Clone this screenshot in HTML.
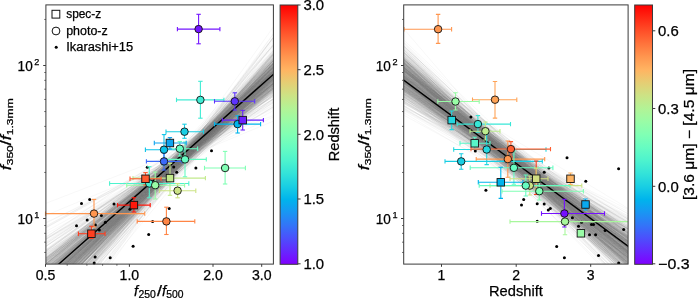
<!DOCTYPE html><html><head><meta charset="utf-8"><style>html,body{margin:0;padding:0;background:#fff;overflow:hidden}svg{display:block;will-change:transform}</style></head><body><svg width="698" height="298" viewBox="0 0 698 298" font-family="Liberation Sans, sans-serif">
<style>text{fill:#000;stroke:#000;stroke-width:0.25px}</style>
<rect width="698" height="298" fill="#fff"/>
<defs>
<clipPath id="cl"><rect x="45.9" y="4.9" width="227.49999999999997" height="259.20000000000005"/></clipPath>
<clipPath id="cr"><rect x="403.7" y="4.9" width="224.40000000000003" height="259.20000000000005"/></clipPath>
<linearGradient id="rb" x1="0" y1="0" x2="0" y2="1"><stop offset="0.000" stop-color="#ff0000"/><stop offset="0.050" stop-color="#ff2814"/><stop offset="0.100" stop-color="#ff4f28"/><stop offset="0.150" stop-color="#ff743c"/><stop offset="0.200" stop-color="#ff964f"/><stop offset="0.250" stop-color="#ffb462"/><stop offset="0.300" stop-color="#e5ce74"/><stop offset="0.350" stop-color="#cce385"/><stop offset="0.400" stop-color="#b2f396"/><stop offset="0.450" stop-color="#99fca6"/><stop offset="0.500" stop-color="#80ffb4"/><stop offset="0.550" stop-color="#66fcc2"/><stop offset="0.600" stop-color="#4df3ce"/><stop offset="0.650" stop-color="#33e3d9"/><stop offset="0.700" stop-color="#19cee3"/><stop offset="0.750" stop-color="#00b4ec"/><stop offset="0.800" stop-color="#1996f3"/><stop offset="0.850" stop-color="#3374f8"/><stop offset="0.900" stop-color="#4c4ffc"/><stop offset="0.950" stop-color="#6628fe"/><stop offset="1.000" stop-color="#8000ff"/></linearGradient>
</defs>
<g clip-path="url(#cl)" stroke="#808080" stroke-width="0.7" fill="none" opacity="1">
<line x1="45.9" y1="246.52" x2="273.4" y2="83.86" stroke-opacity="0.085"/>
<line x1="45.9" y1="299.45" x2="273.4" y2="65.30" stroke-opacity="0.085"/>
<line x1="45.9" y1="280.09" x2="273.4" y2="73.22" stroke-opacity="0.085"/>
<line x1="45.9" y1="262.10" x2="273.4" y2="78.91" stroke-opacity="0.085"/>
<line x1="45.9" y1="267.99" x2="273.4" y2="83.39" stroke-opacity="0.085"/>
<line x1="45.9" y1="289.70" x2="273.4" y2="87.70" stroke-opacity="0.085"/>
<line x1="45.9" y1="280.56" x2="273.4" y2="76.33" stroke-opacity="0.085"/>
<line x1="45.9" y1="268.83" x2="273.4" y2="80.21" stroke-opacity="0.085"/>
<line x1="45.9" y1="290.67" x2="273.4" y2="71.14" stroke-opacity="0.085"/>
<line x1="45.9" y1="318.73" x2="273.4" y2="57.72" stroke-opacity="0.085"/>
<line x1="45.9" y1="284.79" x2="273.4" y2="79.52" stroke-opacity="0.085"/>
<line x1="45.9" y1="285.22" x2="273.4" y2="74.75" stroke-opacity="0.085"/>
<line x1="45.9" y1="300.71" x2="273.4" y2="60.82" stroke-opacity="0.085"/>
<line x1="45.9" y1="223.14" x2="273.4" y2="108.46" stroke-opacity="0.085"/>
<line x1="45.9" y1="315.09" x2="273.4" y2="67.86" stroke-opacity="0.085"/>
<line x1="45.9" y1="267.84" x2="273.4" y2="80.49" stroke-opacity="0.085"/>
<line x1="45.9" y1="286.10" x2="273.4" y2="67.51" stroke-opacity="0.085"/>
<line x1="45.9" y1="257.09" x2="273.4" y2="80.35" stroke-opacity="0.085"/>
<line x1="45.9" y1="286.18" x2="273.4" y2="71.77" stroke-opacity="0.085"/>
<line x1="45.9" y1="269.05" x2="273.4" y2="74.25" stroke-opacity="0.085"/>
<line x1="45.9" y1="325.99" x2="273.4" y2="45.71" stroke-opacity="0.085"/>
<line x1="45.9" y1="297.93" x2="273.4" y2="71.37" stroke-opacity="0.085"/>
<line x1="45.9" y1="275.09" x2="273.4" y2="70.70" stroke-opacity="0.085"/>
<line x1="45.9" y1="287.17" x2="273.4" y2="72.30" stroke-opacity="0.085"/>
<line x1="45.9" y1="293.77" x2="273.4" y2="45.04" stroke-opacity="0.085"/>
<line x1="45.9" y1="292.19" x2="273.4" y2="71.98" stroke-opacity="0.085"/>
<line x1="45.9" y1="258.14" x2="273.4" y2="87.62" stroke-opacity="0.085"/>
<line x1="45.9" y1="274.36" x2="273.4" y2="75.63" stroke-opacity="0.085"/>
<line x1="45.9" y1="263.75" x2="273.4" y2="83.00" stroke-opacity="0.085"/>
<line x1="45.9" y1="291.40" x2="273.4" y2="78.63" stroke-opacity="0.085"/>
<line x1="45.9" y1="258.66" x2="273.4" y2="89.14" stroke-opacity="0.085"/>
<line x1="45.9" y1="260.85" x2="273.4" y2="79.77" stroke-opacity="0.085"/>
<line x1="45.9" y1="301.27" x2="273.4" y2="62.96" stroke-opacity="0.085"/>
<line x1="45.9" y1="259.39" x2="273.4" y2="93.22" stroke-opacity="0.085"/>
<line x1="45.9" y1="283.35" x2="273.4" y2="82.41" stroke-opacity="0.085"/>
<line x1="45.9" y1="295.08" x2="273.4" y2="72.74" stroke-opacity="0.085"/>
<line x1="45.9" y1="293.39" x2="273.4" y2="61.74" stroke-opacity="0.085"/>
<line x1="45.9" y1="273.89" x2="273.4" y2="80.77" stroke-opacity="0.085"/>
<line x1="45.9" y1="329.99" x2="273.4" y2="38.83" stroke-opacity="0.085"/>
<line x1="45.9" y1="267.91" x2="273.4" y2="70.82" stroke-opacity="0.085"/>
<line x1="45.9" y1="266.18" x2="273.4" y2="75.43" stroke-opacity="0.085"/>
<line x1="45.9" y1="278.51" x2="273.4" y2="77.35" stroke-opacity="0.085"/>
<line x1="45.9" y1="285.72" x2="273.4" y2="76.45" stroke-opacity="0.085"/>
<line x1="45.9" y1="288.05" x2="273.4" y2="73.92" stroke-opacity="0.085"/>
<line x1="45.9" y1="301.10" x2="273.4" y2="63.24" stroke-opacity="0.085"/>
<line x1="45.9" y1="282.55" x2="273.4" y2="67.26" stroke-opacity="0.085"/>
<line x1="45.9" y1="286.84" x2="273.4" y2="72.63" stroke-opacity="0.085"/>
<line x1="45.9" y1="293.13" x2="273.4" y2="70.92" stroke-opacity="0.085"/>
<line x1="45.9" y1="250.55" x2="273.4" y2="87.39" stroke-opacity="0.085"/>
<line x1="45.9" y1="321.37" x2="273.4" y2="42.71" stroke-opacity="0.085"/>
<line x1="45.9" y1="266.99" x2="273.4" y2="84.41" stroke-opacity="0.085"/>
<line x1="45.9" y1="277.48" x2="273.4" y2="87.17" stroke-opacity="0.085"/>
<line x1="45.9" y1="292.47" x2="273.4" y2="67.73" stroke-opacity="0.085"/>
<line x1="45.9" y1="273.25" x2="273.4" y2="72.06" stroke-opacity="0.085"/>
<line x1="45.9" y1="297.28" x2="273.4" y2="59.47" stroke-opacity="0.085"/>
<line x1="45.9" y1="298.11" x2="273.4" y2="74.90" stroke-opacity="0.085"/>
<line x1="45.9" y1="320.94" x2="273.4" y2="73.97" stroke-opacity="0.085"/>
<line x1="45.9" y1="301.81" x2="273.4" y2="76.90" stroke-opacity="0.085"/>
<line x1="45.9" y1="258.73" x2="273.4" y2="84.28" stroke-opacity="0.085"/>
<line x1="45.9" y1="284.19" x2="273.4" y2="74.84" stroke-opacity="0.085"/>
<line x1="45.9" y1="259.63" x2="273.4" y2="91.23" stroke-opacity="0.085"/>
<line x1="45.9" y1="290.38" x2="273.4" y2="68.47" stroke-opacity="0.085"/>
<line x1="45.9" y1="260.24" x2="273.4" y2="85.96" stroke-opacity="0.085"/>
<line x1="45.9" y1="296.03" x2="273.4" y2="71.61" stroke-opacity="0.085"/>
<line x1="45.9" y1="293.25" x2="273.4" y2="60.60" stroke-opacity="0.085"/>
<line x1="45.9" y1="252.94" x2="273.4" y2="99.70" stroke-opacity="0.085"/>
<line x1="45.9" y1="296.36" x2="273.4" y2="66.88" stroke-opacity="0.085"/>
<line x1="45.9" y1="280.84" x2="273.4" y2="75.05" stroke-opacity="0.085"/>
<line x1="45.9" y1="339.50" x2="273.4" y2="64.10" stroke-opacity="0.085"/>
<line x1="45.9" y1="291.51" x2="273.4" y2="73.85" stroke-opacity="0.085"/>
<line x1="45.9" y1="257.17" x2="273.4" y2="75.51" stroke-opacity="0.085"/>
<line x1="45.9" y1="262.71" x2="273.4" y2="79.05" stroke-opacity="0.085"/>
<line x1="45.9" y1="272.78" x2="273.4" y2="80.05" stroke-opacity="0.085"/>
<line x1="45.9" y1="277.39" x2="273.4" y2="80.05" stroke-opacity="0.085"/>
<line x1="45.9" y1="285.35" x2="273.4" y2="84.90" stroke-opacity="0.085"/>
<line x1="45.9" y1="272.47" x2="273.4" y2="74.98" stroke-opacity="0.085"/>
<line x1="45.9" y1="299.73" x2="273.4" y2="78.72" stroke-opacity="0.085"/>
<line x1="45.9" y1="252.03" x2="273.4" y2="88.32" stroke-opacity="0.085"/>
<line x1="45.9" y1="296.24" x2="273.4" y2="65.67" stroke-opacity="0.085"/>
<line x1="45.9" y1="233.99" x2="273.4" y2="110.56" stroke-opacity="0.085"/>
<line x1="45.9" y1="273.72" x2="273.4" y2="74.26" stroke-opacity="0.085"/>
<line x1="45.9" y1="276.48" x2="273.4" y2="71.59" stroke-opacity="0.085"/>
<line x1="45.9" y1="284.43" x2="273.4" y2="76.67" stroke-opacity="0.085"/>
<line x1="45.9" y1="265.52" x2="273.4" y2="78.91" stroke-opacity="0.085"/>
<line x1="45.9" y1="295.73" x2="273.4" y2="68.74" stroke-opacity="0.085"/>
<line x1="45.9" y1="281.88" x2="273.4" y2="74.26" stroke-opacity="0.085"/>
<line x1="45.9" y1="278.81" x2="273.4" y2="78.94" stroke-opacity="0.085"/>
<line x1="45.9" y1="274.07" x2="273.4" y2="81.08" stroke-opacity="0.085"/>
<line x1="45.9" y1="290.91" x2="273.4" y2="71.70" stroke-opacity="0.085"/>
<line x1="45.9" y1="289.78" x2="273.4" y2="84.73" stroke-opacity="0.085"/>
<line x1="45.9" y1="255.79" x2="273.4" y2="85.93" stroke-opacity="0.085"/>
<line x1="45.9" y1="271.42" x2="273.4" y2="78.10" stroke-opacity="0.085"/>
<line x1="45.9" y1="290.42" x2="273.4" y2="70.78" stroke-opacity="0.085"/>
<line x1="45.9" y1="281.70" x2="273.4" y2="75.61" stroke-opacity="0.085"/>
<line x1="45.9" y1="294.87" x2="273.4" y2="76.92" stroke-opacity="0.085"/>
<line x1="45.9" y1="287.08" x2="273.4" y2="74.60" stroke-opacity="0.085"/>
<line x1="45.9" y1="243.89" x2="273.4" y2="93.70" stroke-opacity="0.085"/>
<line x1="45.9" y1="281.78" x2="273.4" y2="86.85" stroke-opacity="0.085"/>
<line x1="45.9" y1="302.95" x2="273.4" y2="60.17" stroke-opacity="0.085"/>
<line x1="45.9" y1="290.21" x2="273.4" y2="79.29" stroke-opacity="0.085"/>
<line x1="45.9" y1="285.29" x2="273.4" y2="76.20" stroke-opacity="0.085"/>
<line x1="45.9" y1="267.44" x2="273.4" y2="82.80" stroke-opacity="0.085"/>
<line x1="45.9" y1="296.44" x2="273.4" y2="53.58" stroke-opacity="0.085"/>
<line x1="45.9" y1="291.81" x2="273.4" y2="75.43" stroke-opacity="0.085"/>
<line x1="45.9" y1="258.29" x2="273.4" y2="76.58" stroke-opacity="0.085"/>
<line x1="45.9" y1="297.57" x2="273.4" y2="73.86" stroke-opacity="0.085"/>
<line x1="45.9" y1="290.56" x2="273.4" y2="67.21" stroke-opacity="0.085"/>
<line x1="45.9" y1="285.20" x2="273.4" y2="76.63" stroke-opacity="0.085"/>
<line x1="45.9" y1="279.20" x2="273.4" y2="78.01" stroke-opacity="0.085"/>
<line x1="45.9" y1="297.77" x2="273.4" y2="78.24" stroke-opacity="0.085"/>
<line x1="45.9" y1="276.17" x2="273.4" y2="75.43" stroke-opacity="0.085"/>
<line x1="45.9" y1="280.23" x2="273.4" y2="73.47" stroke-opacity="0.085"/>
<line x1="45.9" y1="278.91" x2="273.4" y2="87.86" stroke-opacity="0.085"/>
<line x1="45.9" y1="274.52" x2="273.4" y2="73.90" stroke-opacity="0.085"/>
<line x1="45.9" y1="350.11" x2="273.4" y2="34.04" stroke-opacity="0.085"/>
<line x1="45.9" y1="275.78" x2="273.4" y2="76.35" stroke-opacity="0.085"/>
<line x1="45.9" y1="272.04" x2="273.4" y2="82.17" stroke-opacity="0.085"/>
<line x1="45.9" y1="263.89" x2="273.4" y2="71.05" stroke-opacity="0.085"/>
<line x1="45.9" y1="277.22" x2="273.4" y2="67.08" stroke-opacity="0.085"/>
<line x1="45.9" y1="301.05" x2="273.4" y2="66.21" stroke-opacity="0.085"/>
<line x1="45.9" y1="286.02" x2="273.4" y2="68.14" stroke-opacity="0.085"/>
<line x1="45.9" y1="227.78" x2="273.4" y2="103.03" stroke-opacity="0.085"/>
<line x1="45.9" y1="308.50" x2="273.4" y2="56.28" stroke-opacity="0.085"/>
<line x1="45.9" y1="296.46" x2="273.4" y2="70.75" stroke-opacity="0.085"/>
<line x1="45.9" y1="264.03" x2="273.4" y2="87.15" stroke-opacity="0.085"/>
<line x1="45.9" y1="287.55" x2="273.4" y2="70.88" stroke-opacity="0.085"/>
<line x1="45.9" y1="280.54" x2="273.4" y2="78.83" stroke-opacity="0.085"/>
<line x1="45.9" y1="272.68" x2="273.4" y2="74.28" stroke-opacity="0.085"/>
<line x1="45.9" y1="289.44" x2="273.4" y2="67.51" stroke-opacity="0.085"/>
<line x1="45.9" y1="317.53" x2="273.4" y2="52.82" stroke-opacity="0.085"/>
<line x1="45.9" y1="306.48" x2="273.4" y2="65.10" stroke-opacity="0.085"/>
<line x1="45.9" y1="287.59" x2="273.4" y2="80.23" stroke-opacity="0.085"/>
<line x1="45.9" y1="285.84" x2="273.4" y2="80.20" stroke-opacity="0.085"/>
<line x1="45.9" y1="251.17" x2="273.4" y2="84.26" stroke-opacity="0.085"/>
<line x1="45.9" y1="285.19" x2="273.4" y2="71.56" stroke-opacity="0.085"/>
<line x1="45.9" y1="344.59" x2="273.4" y2="37.67" stroke-opacity="0.085"/>
<line x1="45.9" y1="266.14" x2="273.4" y2="66.79" stroke-opacity="0.085"/>
<line x1="45.9" y1="285.28" x2="273.4" y2="60.36" stroke-opacity="0.085"/>
<line x1="45.9" y1="283.66" x2="273.4" y2="63.16" stroke-opacity="0.085"/>
<line x1="45.9" y1="257.04" x2="273.4" y2="77.75" stroke-opacity="0.085"/>
<line x1="45.9" y1="290.45" x2="273.4" y2="68.38" stroke-opacity="0.085"/>
<line x1="45.9" y1="285.51" x2="273.4" y2="82.18" stroke-opacity="0.085"/>
<line x1="45.9" y1="265.12" x2="273.4" y2="88.41" stroke-opacity="0.085"/>
<line x1="45.9" y1="298.00" x2="273.4" y2="72.90" stroke-opacity="0.085"/>
<line x1="45.9" y1="283.13" x2="273.4" y2="72.09" stroke-opacity="0.085"/>
<line x1="45.9" y1="270.43" x2="273.4" y2="72.53" stroke-opacity="0.085"/>
<line x1="45.9" y1="246.49" x2="273.4" y2="86.37" stroke-opacity="0.085"/>
<line x1="45.9" y1="263.97" x2="273.4" y2="69.46" stroke-opacity="0.085"/>
<line x1="45.9" y1="283.72" x2="273.4" y2="66.85" stroke-opacity="0.085"/>
<line x1="45.9" y1="268.86" x2="273.4" y2="81.53" stroke-opacity="0.085"/>
<line x1="45.9" y1="292.57" x2="273.4" y2="70.81" stroke-opacity="0.085"/>
<line x1="45.9" y1="268.48" x2="273.4" y2="94.10" stroke-opacity="0.085"/>
<line x1="45.9" y1="273.42" x2="273.4" y2="86.70" stroke-opacity="0.085"/>
<line x1="45.9" y1="277.23" x2="273.4" y2="81.96" stroke-opacity="0.085"/>
<line x1="45.9" y1="283.10" x2="273.4" y2="73.78" stroke-opacity="0.085"/>
<line x1="45.9" y1="289.77" x2="273.4" y2="71.34" stroke-opacity="0.085"/>
<line x1="45.9" y1="299.87" x2="273.4" y2="56.53" stroke-opacity="0.085"/>
<line x1="45.9" y1="298.37" x2="273.4" y2="76.12" stroke-opacity="0.085"/>
<line x1="45.9" y1="291.22" x2="273.4" y2="67.08" stroke-opacity="0.085"/>
<line x1="45.9" y1="268.97" x2="273.4" y2="70.23" stroke-opacity="0.085"/>
<line x1="45.9" y1="298.17" x2="273.4" y2="63.50" stroke-opacity="0.085"/>
<line x1="45.9" y1="275.52" x2="273.4" y2="69.76" stroke-opacity="0.085"/>
<line x1="45.9" y1="287.14" x2="273.4" y2="75.53" stroke-opacity="0.085"/>
<line x1="45.9" y1="271.00" x2="273.4" y2="89.51" stroke-opacity="0.085"/>
<line x1="45.9" y1="258.11" x2="273.4" y2="86.38" stroke-opacity="0.085"/>
<line x1="45.9" y1="276.49" x2="273.4" y2="84.71" stroke-opacity="0.085"/>
<line x1="45.9" y1="294.90" x2="273.4" y2="75.50" stroke-opacity="0.085"/>
<line x1="45.9" y1="284.12" x2="273.4" y2="73.90" stroke-opacity="0.085"/>
<line x1="45.9" y1="296.44" x2="273.4" y2="68.71" stroke-opacity="0.085"/>
<line x1="45.9" y1="272.38" x2="273.4" y2="70.20" stroke-opacity="0.085"/>
<line x1="45.9" y1="288.48" x2="273.4" y2="65.90" stroke-opacity="0.085"/>
<line x1="45.9" y1="259.28" x2="273.4" y2="88.50" stroke-opacity="0.085"/>
<line x1="45.9" y1="257.89" x2="273.4" y2="80.09" stroke-opacity="0.085"/>
<line x1="45.9" y1="267.18" x2="273.4" y2="83.11" stroke-opacity="0.085"/>
<line x1="45.9" y1="307.62" x2="273.4" y2="66.71" stroke-opacity="0.085"/>
<line x1="45.9" y1="289.16" x2="273.4" y2="75.12" stroke-opacity="0.085"/>
<line x1="45.9" y1="296.09" x2="273.4" y2="65.73" stroke-opacity="0.085"/>
<line x1="45.9" y1="311.68" x2="273.4" y2="63.77" stroke-opacity="0.085"/>
<line x1="45.9" y1="266.72" x2="273.4" y2="76.82" stroke-opacity="0.085"/>
<line x1="45.9" y1="259.91" x2="273.4" y2="80.90" stroke-opacity="0.085"/>
<line x1="45.9" y1="277.69" x2="273.4" y2="67.52" stroke-opacity="0.085"/>
<line x1="45.9" y1="290.33" x2="273.4" y2="65.08" stroke-opacity="0.085"/>
<line x1="45.9" y1="298.31" x2="273.4" y2="53.30" stroke-opacity="0.085"/>
<line x1="45.9" y1="263.25" x2="273.4" y2="76.05" stroke-opacity="0.085"/>
<line x1="45.9" y1="291.54" x2="273.4" y2="65.61" stroke-opacity="0.085"/>
<line x1="45.9" y1="282.38" x2="273.4" y2="61.01" stroke-opacity="0.085"/>
<line x1="45.9" y1="274.79" x2="273.4" y2="90.33" stroke-opacity="0.085"/>
<line x1="45.9" y1="288.15" x2="273.4" y2="72.07" stroke-opacity="0.085"/>
<line x1="45.9" y1="279.36" x2="273.4" y2="69.27" stroke-opacity="0.085"/>
<line x1="45.9" y1="284.41" x2="273.4" y2="72.60" stroke-opacity="0.085"/>
<line x1="45.9" y1="260.47" x2="273.4" y2="84.03" stroke-opacity="0.085"/>
<line x1="45.9" y1="285.24" x2="273.4" y2="64.33" stroke-opacity="0.085"/>
<line x1="45.9" y1="277.87" x2="273.4" y2="94.72" stroke-opacity="0.085"/>
<line x1="45.9" y1="263.21" x2="273.4" y2="92.13" stroke-opacity="0.085"/>
<line x1="45.9" y1="299.21" x2="273.4" y2="71.49" stroke-opacity="0.085"/>
<line x1="45.9" y1="279.01" x2="273.4" y2="85.92" stroke-opacity="0.085"/>
<line x1="45.9" y1="275.76" x2="273.4" y2="73.62" stroke-opacity="0.085"/>
<line x1="45.9" y1="287.24" x2="273.4" y2="81.21" stroke-opacity="0.085"/>
<line x1="45.9" y1="258.04" x2="273.4" y2="72.46" stroke-opacity="0.085"/>
<line x1="45.9" y1="288.57" x2="273.4" y2="89.41" stroke-opacity="0.085"/>
<line x1="45.9" y1="280.65" x2="273.4" y2="74.49" stroke-opacity="0.085"/>
<line x1="45.9" y1="289.87" x2="273.4" y2="66.31" stroke-opacity="0.085"/>
<line x1="45.9" y1="273.86" x2="273.4" y2="67.46" stroke-opacity="0.085"/>
<line x1="45.9" y1="294.07" x2="273.4" y2="64.55" stroke-opacity="0.085"/>
<line x1="45.9" y1="316.90" x2="273.4" y2="60.43" stroke-opacity="0.085"/>
<line x1="45.9" y1="290.22" x2="273.4" y2="67.00" stroke-opacity="0.085"/>
<line x1="45.9" y1="280.39" x2="273.4" y2="79.08" stroke-opacity="0.085"/>
<line x1="45.9" y1="304.78" x2="273.4" y2="71.08" stroke-opacity="0.085"/>
<line x1="45.9" y1="284.72" x2="273.4" y2="60.30" stroke-opacity="0.085"/>
<line x1="45.9" y1="275.00" x2="273.4" y2="83.66" stroke-opacity="0.085"/>
<line x1="45.9" y1="277.78" x2="273.4" y2="80.31" stroke-opacity="0.085"/>
<line x1="45.9" y1="328.96" x2="273.4" y2="37.73" stroke-opacity="0.085"/>
<line x1="45.9" y1="239.30" x2="273.4" y2="102.77" stroke-opacity="0.085"/>
<line x1="45.9" y1="262.83" x2="273.4" y2="84.09" stroke-opacity="0.085"/>
<line x1="45.9" y1="277.86" x2="273.4" y2="74.54" stroke-opacity="0.085"/>
<line x1="45.9" y1="274.10" x2="273.4" y2="83.79" stroke-opacity="0.085"/>
<line x1="45.9" y1="291.77" x2="273.4" y2="72.52" stroke-opacity="0.085"/>
<line x1="45.9" y1="263.74" x2="273.4" y2="77.16" stroke-opacity="0.085"/>
<line x1="45.9" y1="285.09" x2="273.4" y2="84.33" stroke-opacity="0.085"/>
<line x1="45.9" y1="304.38" x2="273.4" y2="53.59" stroke-opacity="0.085"/>
<line x1="45.9" y1="261.20" x2="273.4" y2="90.85" stroke-opacity="0.085"/>
<line x1="45.9" y1="293.58" x2="273.4" y2="74.81" stroke-opacity="0.085"/>
<line x1="45.9" y1="268.64" x2="273.4" y2="79.41" stroke-opacity="0.085"/>
<line x1="45.9" y1="280.54" x2="273.4" y2="71.95" stroke-opacity="0.085"/>
<line x1="45.9" y1="275.78" x2="273.4" y2="79.16" stroke-opacity="0.085"/>
<line x1="45.9" y1="271.94" x2="273.4" y2="83.44" stroke-opacity="0.085"/>
<line x1="45.9" y1="342.32" x2="273.4" y2="44.04" stroke-opacity="0.085"/>
<line x1="45.9" y1="278.94" x2="273.4" y2="77.51" stroke-opacity="0.085"/>
<line x1="45.9" y1="273.42" x2="273.4" y2="81.66" stroke-opacity="0.085"/>
<line x1="45.9" y1="278.24" x2="273.4" y2="78.45" stroke-opacity="0.085"/>
<line x1="45.9" y1="277.46" x2="273.4" y2="66.99" stroke-opacity="0.085"/>
<line x1="45.9" y1="287.19" x2="273.4" y2="66.14" stroke-opacity="0.085"/>
<line x1="45.9" y1="262.08" x2="273.4" y2="84.78" stroke-opacity="0.085"/>
<line x1="45.9" y1="222.45" x2="273.4" y2="117.01" stroke-opacity="0.085"/>
<line x1="45.9" y1="300.06" x2="273.4" y2="72.58" stroke-opacity="0.085"/>
<line x1="45.9" y1="288.41" x2="273.4" y2="71.13" stroke-opacity="0.085"/>
<line x1="45.9" y1="293.34" x2="273.4" y2="71.09" stroke-opacity="0.085"/>
<line x1="45.9" y1="305.48" x2="273.4" y2="66.40" stroke-opacity="0.085"/>
<line x1="45.9" y1="277.36" x2="273.4" y2="66.52" stroke-opacity="0.085"/>
<line x1="45.9" y1="296.28" x2="273.4" y2="86.36" stroke-opacity="0.085"/>
<line x1="45.9" y1="226.56" x2="273.4" y2="99.08" stroke-opacity="0.085"/>
<line x1="45.9" y1="278.25" x2="273.4" y2="78.36" stroke-opacity="0.085"/>
<line x1="45.9" y1="298.00" x2="273.4" y2="67.23" stroke-opacity="0.085"/>
<line x1="45.9" y1="267.77" x2="273.4" y2="85.60" stroke-opacity="0.085"/>
<line x1="45.9" y1="276.82" x2="273.4" y2="83.32" stroke-opacity="0.085"/>
<line x1="45.9" y1="280.52" x2="273.4" y2="74.97" stroke-opacity="0.085"/>
<line x1="45.9" y1="266.11" x2="273.4" y2="91.24" stroke-opacity="0.085"/>
<line x1="45.9" y1="255.59" x2="273.4" y2="92.26" stroke-opacity="0.085"/>
<line x1="45.9" y1="288.70" x2="273.4" y2="74.76" stroke-opacity="0.085"/>
<line x1="45.9" y1="265.35" x2="273.4" y2="71.72" stroke-opacity="0.085"/>
<line x1="45.9" y1="294.74" x2="273.4" y2="70.24" stroke-opacity="0.085"/>
<line x1="45.9" y1="293.48" x2="273.4" y2="74.20" stroke-opacity="0.085"/>
<line x1="45.9" y1="263.58" x2="273.4" y2="83.29" stroke-opacity="0.085"/>
<line x1="45.9" y1="297.72" x2="273.4" y2="58.47" stroke-opacity="0.085"/>
<line x1="45.9" y1="280.42" x2="273.4" y2="62.86" stroke-opacity="0.085"/>
<line x1="45.9" y1="311.39" x2="273.4" y2="54.81" stroke-opacity="0.085"/>
<line x1="45.9" y1="288.28" x2="273.4" y2="75.56" stroke-opacity="0.085"/>
<line x1="45.9" y1="289.77" x2="273.4" y2="70.26" stroke-opacity="0.085"/>
<line x1="45.9" y1="286.80" x2="273.4" y2="71.44" stroke-opacity="0.085"/>
<line x1="45.9" y1="287.67" x2="273.4" y2="66.89" stroke-opacity="0.085"/>
<line x1="45.9" y1="294.45" x2="273.4" y2="73.02" stroke-opacity="0.085"/>
<line x1="45.9" y1="301.15" x2="273.4" y2="64.04" stroke-opacity="0.085"/>
<line x1="45.9" y1="258.05" x2="273.4" y2="85.17" stroke-opacity="0.085"/>
<line x1="45.9" y1="252.37" x2="273.4" y2="100.63" stroke-opacity="0.085"/>
<line x1="45.9" y1="250.01" x2="273.4" y2="85.23" stroke-opacity="0.085"/>
<line x1="45.9" y1="261.02" x2="273.4" y2="72.49" stroke-opacity="0.085"/>
<line x1="45.9" y1="278.82" x2="273.4" y2="73.40" stroke-opacity="0.085"/>
<line x1="45.9" y1="317.22" x2="273.4" y2="44.63" stroke-opacity="0.085"/>
<line x1="45.9" y1="283.40" x2="273.4" y2="63.11" stroke-opacity="0.085"/>
<line x1="45.9" y1="261.93" x2="273.4" y2="83.18" stroke-opacity="0.085"/>
<line x1="45.9" y1="325.60" x2="273.4" y2="54.33" stroke-opacity="0.085"/>
<line x1="45.9" y1="281.76" x2="273.4" y2="78.82" stroke-opacity="0.085"/>
<line x1="45.9" y1="308.79" x2="273.4" y2="53.73" stroke-opacity="0.085"/>
<line x1="45.9" y1="329.60" x2="273.4" y2="54.92" stroke-opacity="0.085"/>
<line x1="45.9" y1="256.67" x2="273.4" y2="96.09" stroke-opacity="0.085"/>
<line x1="45.9" y1="276.97" x2="273.4" y2="81.54" stroke-opacity="0.085"/>
<line x1="45.9" y1="289.02" x2="273.4" y2="70.65" stroke-opacity="0.085"/>
<line x1="45.9" y1="251.64" x2="273.4" y2="82.88" stroke-opacity="0.085"/>
<line x1="45.9" y1="278.60" x2="273.4" y2="75.78" stroke-opacity="0.085"/>
<line x1="45.9" y1="264.72" x2="273.4" y2="76.04" stroke-opacity="0.085"/>
<line x1="45.9" y1="264.65" x2="273.4" y2="79.17" stroke-opacity="0.085"/>
<line x1="45.9" y1="268.76" x2="273.4" y2="78.18" stroke-opacity="0.085"/>
<line x1="45.9" y1="313.92" x2="273.4" y2="51.99" stroke-opacity="0.085"/>
<line x1="45.9" y1="279.41" x2="273.4" y2="63.80" stroke-opacity="0.085"/>
<line x1="45.9" y1="286.99" x2="273.4" y2="77.06" stroke-opacity="0.085"/>
<line x1="45.9" y1="276.00" x2="273.4" y2="70.19" stroke-opacity="0.085"/>
<line x1="45.9" y1="313.41" x2="273.4" y2="65.37" stroke-opacity="0.085"/>
<line x1="45.9" y1="286.47" x2="273.4" y2="71.56" stroke-opacity="0.085"/>
<line x1="45.9" y1="293.36" x2="273.4" y2="69.80" stroke-opacity="0.085"/>
<line x1="45.9" y1="283.68" x2="273.4" y2="73.52" stroke-opacity="0.085"/>
<line x1="45.9" y1="314.78" x2="273.4" y2="73.06" stroke-opacity="0.085"/>
<line x1="45.9" y1="264.81" x2="273.4" y2="83.51" stroke-opacity="0.085"/>
<line x1="45.9" y1="298.52" x2="273.4" y2="62.87" stroke-opacity="0.085"/>
<line x1="45.9" y1="258.55" x2="273.4" y2="72.77" stroke-opacity="0.085"/>
<line x1="45.9" y1="289.22" x2="273.4" y2="66.56" stroke-opacity="0.085"/>
<line x1="45.9" y1="302.46" x2="273.4" y2="62.96" stroke-opacity="0.085"/>
<line x1="45.9" y1="274.68" x2="273.4" y2="78.80" stroke-opacity="0.085"/>
<line x1="45.9" y1="259.81" x2="273.4" y2="87.63" stroke-opacity="0.085"/>
<line x1="45.9" y1="296.83" x2="273.4" y2="71.90" stroke-opacity="0.085"/>
<line x1="45.9" y1="262.50" x2="273.4" y2="80.00" stroke-opacity="0.085"/>
<line x1="45.9" y1="254.76" x2="273.4" y2="84.72" stroke-opacity="0.085"/>
<line x1="45.9" y1="310.40" x2="273.4" y2="61.56" stroke-opacity="0.085"/>
<line x1="45.9" y1="278.48" x2="273.4" y2="69.08" stroke-opacity="0.085"/>
<line x1="45.9" y1="291.08" x2="273.4" y2="70.89" stroke-opacity="0.085"/>
<line x1="45.9" y1="286.39" x2="273.4" y2="73.33" stroke-opacity="0.085"/>
<line x1="45.9" y1="298.06" x2="273.4" y2="82.69" stroke-opacity="0.085"/>
<line x1="45.9" y1="310.47" x2="273.4" y2="82.82" stroke-opacity="0.085"/>
<line x1="45.9" y1="306.48" x2="273.4" y2="60.00" stroke-opacity="0.085"/>
<line x1="45.9" y1="309.55" x2="273.4" y2="64.23" stroke-opacity="0.085"/>
<line x1="45.9" y1="282.07" x2="273.4" y2="67.07" stroke-opacity="0.085"/>
<line x1="45.9" y1="282.98" x2="273.4" y2="71.58" stroke-opacity="0.085"/>
<line x1="45.9" y1="261.40" x2="273.4" y2="85.82" stroke-opacity="0.085"/>
<line x1="45.9" y1="290.45" x2="273.4" y2="80.04" stroke-opacity="0.085"/>
<line x1="45.9" y1="306.46" x2="273.4" y2="67.77" stroke-opacity="0.085"/>
<line x1="45.9" y1="270.07" x2="273.4" y2="87.28" stroke-opacity="0.085"/>
<line x1="45.9" y1="298.83" x2="273.4" y2="62.75" stroke-opacity="0.085"/>
<line x1="45.9" y1="243.70" x2="273.4" y2="91.11" stroke-opacity="0.085"/>
<line x1="45.9" y1="311.58" x2="273.4" y2="55.16" stroke-opacity="0.085"/>
<line x1="45.9" y1="277.65" x2="273.4" y2="81.48" stroke-opacity="0.085"/>
<line x1="45.9" y1="309.97" x2="273.4" y2="60.60" stroke-opacity="0.085"/>
<line x1="45.9" y1="272.07" x2="273.4" y2="70.53" stroke-opacity="0.085"/>
<line x1="45.9" y1="323.31" x2="273.4" y2="59.37" stroke-opacity="0.085"/>
<line x1="45.9" y1="314.33" x2="273.4" y2="55.72" stroke-opacity="0.085"/>
<line x1="45.9" y1="272.85" x2="273.4" y2="77.27" stroke-opacity="0.085"/>
<line x1="45.9" y1="273.88" x2="273.4" y2="77.21" stroke-opacity="0.085"/>
<line x1="45.9" y1="314.39" x2="273.4" y2="63.87" stroke-opacity="0.085"/>
<line x1="45.9" y1="292.69" x2="273.4" y2="77.03" stroke-opacity="0.085"/>
<line x1="45.9" y1="292.33" x2="273.4" y2="67.83" stroke-opacity="0.085"/>
<line x1="45.9" y1="296.66" x2="273.4" y2="73.70" stroke-opacity="0.085"/>
<line x1="45.9" y1="238.85" x2="273.4" y2="99.29" stroke-opacity="0.085"/>
<line x1="45.9" y1="271.73" x2="273.4" y2="80.03" stroke-opacity="0.085"/>
<line x1="45.9" y1="309.00" x2="273.4" y2="63.95" stroke-opacity="0.085"/>
<line x1="45.9" y1="285.59" x2="273.4" y2="78.74" stroke-opacity="0.085"/>
<line x1="45.9" y1="291.29" x2="273.4" y2="71.78" stroke-opacity="0.085"/>
<line x1="45.9" y1="318.78" x2="273.4" y2="49.60" stroke-opacity="0.085"/>
<line x1="45.9" y1="301.64" x2="273.4" y2="61.82" stroke-opacity="0.085"/>
<line x1="45.9" y1="306.84" x2="273.4" y2="64.37" stroke-opacity="0.085"/>
<line x1="45.9" y1="287.75" x2="273.4" y2="76.76" stroke-opacity="0.085"/>
<line x1="45.9" y1="297.20" x2="273.4" y2="67.57" stroke-opacity="0.085"/>
<line x1="45.9" y1="279.56" x2="273.4" y2="89.88" stroke-opacity="0.085"/>
<line x1="45.9" y1="288.10" x2="273.4" y2="71.12" stroke-opacity="0.085"/>
<line x1="45.9" y1="285.17" x2="273.4" y2="63.84" stroke-opacity="0.085"/>
<line x1="45.9" y1="271.36" x2="273.4" y2="77.44" stroke-opacity="0.085"/>
<line x1="45.9" y1="289.27" x2="273.4" y2="74.23" stroke-opacity="0.085"/>
<line x1="45.9" y1="286.42" x2="273.4" y2="76.28" stroke-opacity="0.085"/>
<line x1="45.9" y1="283.44" x2="273.4" y2="65.60" stroke-opacity="0.085"/>
<line x1="45.9" y1="285.11" x2="273.4" y2="78.07" stroke-opacity="0.085"/>
<line x1="45.9" y1="269.16" x2="273.4" y2="77.67" stroke-opacity="0.085"/>
<line x1="45.9" y1="258.53" x2="273.4" y2="89.68" stroke-opacity="0.085"/>
<line x1="45.9" y1="276.34" x2="273.4" y2="81.03" stroke-opacity="0.085"/>
<line x1="45.9" y1="270.08" x2="273.4" y2="81.47" stroke-opacity="0.085"/>
<line x1="45.9" y1="286.56" x2="273.4" y2="72.37" stroke-opacity="0.085"/>
<line x1="45.9" y1="279.19" x2="273.4" y2="80.96" stroke-opacity="0.085"/>
<line x1="45.9" y1="284.14" x2="273.4" y2="72.08" stroke-opacity="0.085"/>
<line x1="45.9" y1="283.30" x2="273.4" y2="70.50" stroke-opacity="0.085"/>
<line x1="45.9" y1="285.56" x2="273.4" y2="75.38" stroke-opacity="0.085"/>
<line x1="45.9" y1="268.13" x2="273.4" y2="89.81" stroke-opacity="0.085"/>
<line x1="45.9" y1="287.93" x2="273.4" y2="67.71" stroke-opacity="0.085"/>
<line x1="45.9" y1="291.49" x2="273.4" y2="78.14" stroke-opacity="0.085"/>
<line x1="45.9" y1="269.50" x2="273.4" y2="80.32" stroke-opacity="0.085"/>
<line x1="45.9" y1="294.38" x2="273.4" y2="57.41" stroke-opacity="0.085"/>
<line x1="45.9" y1="270.16" x2="273.4" y2="76.77" stroke-opacity="0.085"/>
<line x1="45.9" y1="292.60" x2="273.4" y2="63.06" stroke-opacity="0.085"/>
<line x1="45.9" y1="296.62" x2="273.4" y2="65.13" stroke-opacity="0.085"/>
<line x1="45.9" y1="291.59" x2="273.4" y2="62.99" stroke-opacity="0.085"/>
<line x1="45.9" y1="302.14" x2="273.4" y2="63.24" stroke-opacity="0.085"/>
<line x1="45.9" y1="321.14" x2="273.4" y2="56.80" stroke-opacity="0.085"/>
<line x1="45.9" y1="291.38" x2="273.4" y2="78.41" stroke-opacity="0.085"/>
<line x1="45.9" y1="290.31" x2="273.4" y2="72.27" stroke-opacity="0.085"/>
<line x1="45.9" y1="289.13" x2="273.4" y2="63.71" stroke-opacity="0.085"/>
<line x1="45.9" y1="264.74" x2="273.4" y2="75.71" stroke-opacity="0.085"/>
<line x1="45.9" y1="272.16" x2="273.4" y2="82.03" stroke-opacity="0.085"/>
<line x1="45.9" y1="274.04" x2="273.4" y2="92.83" stroke-opacity="0.085"/>
<line x1="45.9" y1="265.66" x2="273.4" y2="80.54" stroke-opacity="0.085"/>
<line x1="45.9" y1="272.71" x2="273.4" y2="75.32" stroke-opacity="0.085"/>
<line x1="45.9" y1="275.90" x2="273.4" y2="90.37" stroke-opacity="0.085"/>
<line x1="45.9" y1="291.11" x2="273.4" y2="71.22" stroke-opacity="0.085"/>
<line x1="45.9" y1="292.84" x2="273.4" y2="79.36" stroke-opacity="0.085"/>
<line x1="45.9" y1="284.69" x2="273.4" y2="73.07" stroke-opacity="0.085"/>
<line x1="45.9" y1="262.35" x2="273.4" y2="81.63" stroke-opacity="0.085"/>
<line x1="45.9" y1="307.65" x2="273.4" y2="54.76" stroke-opacity="0.085"/>
<line x1="45.9" y1="274.04" x2="273.4" y2="70.35" stroke-opacity="0.085"/>
<line x1="45.9" y1="268.21" x2="273.4" y2="80.21" stroke-opacity="0.085"/>
<line x1="45.9" y1="269.89" x2="273.4" y2="84.83" stroke-opacity="0.085"/>
<line x1="45.9" y1="283.69" x2="273.4" y2="73.92" stroke-opacity="0.085"/>
<line x1="45.9" y1="272.77" x2="273.4" y2="83.53" stroke-opacity="0.085"/>
<line x1="45.9" y1="293.47" x2="273.4" y2="72.98" stroke-opacity="0.085"/>
<line x1="45.9" y1="262.34" x2="273.4" y2="80.95" stroke-opacity="0.085"/>
<line x1="45.9" y1="275.93" x2="273.4" y2="73.87" stroke-opacity="0.085"/>
<line x1="45.9" y1="288.16" x2="273.4" y2="80.73" stroke-opacity="0.085"/>
<line x1="45.9" y1="276.57" x2="273.4" y2="88.66" stroke-opacity="0.085"/>
<line x1="45.9" y1="303.66" x2="273.4" y2="76.11" stroke-opacity="0.085"/>
<line x1="45.9" y1="297.28" x2="273.4" y2="46.69" stroke-opacity="0.085"/>
<line x1="45.9" y1="270.76" x2="273.4" y2="84.29" stroke-opacity="0.085"/>
<line x1="45.9" y1="298.77" x2="273.4" y2="78.06" stroke-opacity="0.085"/>
<line x1="45.9" y1="283.92" x2="273.4" y2="64.49" stroke-opacity="0.085"/>
<line x1="45.9" y1="265.67" x2="273.4" y2="88.30" stroke-opacity="0.085"/>
<line x1="45.9" y1="279.56" x2="273.4" y2="85.59" stroke-opacity="0.085"/>
<line x1="45.9" y1="301.80" x2="273.4" y2="73.13" stroke-opacity="0.085"/>
<line x1="45.9" y1="254.41" x2="273.4" y2="93.20" stroke-opacity="0.085"/>
<line x1="45.9" y1="276.67" x2="273.4" y2="74.46" stroke-opacity="0.085"/>
<line x1="45.9" y1="275.40" x2="273.4" y2="82.77" stroke-opacity="0.085"/>
<line x1="45.9" y1="290.98" x2="273.4" y2="59.62" stroke-opacity="0.085"/>
<line x1="45.9" y1="301.03" x2="273.4" y2="65.66" stroke-opacity="0.085"/>
<line x1="45.9" y1="282.24" x2="273.4" y2="70.44" stroke-opacity="0.085"/>
<line x1="45.9" y1="300.15" x2="273.4" y2="62.26" stroke-opacity="0.085"/>
<line x1="45.9" y1="277.02" x2="273.4" y2="74.64" stroke-opacity="0.085"/>
<line x1="45.9" y1="281.65" x2="273.4" y2="76.42" stroke-opacity="0.085"/>
<line x1="45.9" y1="270.88" x2="273.4" y2="94.88" stroke-opacity="0.085"/>
<line x1="45.9" y1="276.50" x2="273.4" y2="72.76" stroke-opacity="0.085"/>
<line x1="45.9" y1="226.08" x2="273.4" y2="104.76" stroke-opacity="0.085"/>
<line x1="45.9" y1="269.72" x2="273.4" y2="83.13" stroke-opacity="0.085"/>
<line x1="45.9" y1="276.45" x2="273.4" y2="62.76" stroke-opacity="0.085"/>
<line x1="45.9" y1="285.02" x2="273.4" y2="73.90" stroke-opacity="0.085"/>
<line x1="45.9" y1="251.25" x2="273.4" y2="91.25" stroke-opacity="0.085"/>
<line x1="45.9" y1="292.20" x2="273.4" y2="73.67" stroke-opacity="0.085"/>
<line x1="45.9" y1="245.42" x2="273.4" y2="89.23" stroke-opacity="0.085"/>
<line x1="45.9" y1="311.47" x2="273.4" y2="52.90" stroke-opacity="0.085"/>
<line x1="45.9" y1="264.14" x2="273.4" y2="69.52" stroke-opacity="0.085"/>
<line x1="45.9" y1="283.79" x2="273.4" y2="63.79" stroke-opacity="0.085"/>
<line x1="45.9" y1="293.38" x2="273.4" y2="67.37" stroke-opacity="0.085"/>
<line x1="45.9" y1="272.80" x2="273.4" y2="87.45" stroke-opacity="0.085"/>
<line x1="45.9" y1="300.39" x2="273.4" y2="60.79" stroke-opacity="0.085"/>
<line x1="45.9" y1="272.56" x2="273.4" y2="79.92" stroke-opacity="0.085"/>
<line x1="45.9" y1="257.13" x2="273.4" y2="87.53" stroke-opacity="0.085"/>
<line x1="45.9" y1="303.34" x2="273.4" y2="67.66" stroke-opacity="0.085"/>
<line x1="45.9" y1="283.10" x2="273.4" y2="68.55" stroke-opacity="0.085"/>
<line x1="45.9" y1="301.38" x2="273.4" y2="66.62" stroke-opacity="0.085"/>
<line x1="45.9" y1="280.34" x2="273.4" y2="82.34" stroke-opacity="0.085"/>
<line x1="45.9" y1="283.38" x2="273.4" y2="86.85" stroke-opacity="0.085"/>
<line x1="45.9" y1="277.50" x2="273.4" y2="85.27" stroke-opacity="0.085"/>
<line x1="45.9" y1="273.57" x2="273.4" y2="70.33" stroke-opacity="0.085"/>
<line x1="45.9" y1="289.83" x2="273.4" y2="74.03" stroke-opacity="0.085"/>
<line x1="45.9" y1="293.34" x2="273.4" y2="73.28" stroke-opacity="0.085"/>
<line x1="45.9" y1="280.97" x2="273.4" y2="78.80" stroke-opacity="0.085"/>
<line x1="45.9" y1="282.66" x2="273.4" y2="86.86" stroke-opacity="0.085"/>
<line x1="45.9" y1="283.23" x2="273.4" y2="81.60" stroke-opacity="0.085"/>
<line x1="45.9" y1="297.07" x2="273.4" y2="62.23" stroke-opacity="0.085"/>
<line x1="45.9" y1="282.78" x2="273.4" y2="84.12" stroke-opacity="0.085"/>
<line x1="45.9" y1="279.41" x2="273.4" y2="73.82" stroke-opacity="0.085"/>
<line x1="45.9" y1="304.31" x2="273.4" y2="69.51" stroke-opacity="0.085"/>
<line x1="45.9" y1="275.30" x2="273.4" y2="85.47" stroke-opacity="0.085"/>
<line x1="45.9" y1="287.22" x2="273.4" y2="80.51" stroke-opacity="0.085"/>
<line x1="45.9" y1="294.64" x2="273.4" y2="50.09" stroke-opacity="0.085"/>
<line x1="45.9" y1="275.41" x2="273.4" y2="74.69" stroke-opacity="0.085"/>
<line x1="45.9" y1="298.41" x2="273.4" y2="72.88" stroke-opacity="0.085"/>
<line x1="45.9" y1="270.63" x2="273.4" y2="76.60" stroke-opacity="0.085"/>
<line x1="45.9" y1="298.09" x2="273.4" y2="78.41" stroke-opacity="0.085"/>
<line x1="45.9" y1="296.68" x2="273.4" y2="58.80" stroke-opacity="0.085"/>
<line x1="45.9" y1="261.33" x2="273.4" y2="91.92" stroke-opacity="0.085"/>
<line x1="45.9" y1="259.38" x2="273.4" y2="71.82" stroke-opacity="0.085"/>
<line x1="45.9" y1="266.39" x2="273.4" y2="92.64" stroke-opacity="0.085"/>
<line x1="45.9" y1="286.39" x2="273.4" y2="77.49" stroke-opacity="0.085"/>
<line x1="45.9" y1="267.71" x2="273.4" y2="94.14" stroke-opacity="0.085"/>
<line x1="45.9" y1="273.58" x2="273.4" y2="73.72" stroke-opacity="0.085"/>
<line x1="45.9" y1="273.66" x2="273.4" y2="88.42" stroke-opacity="0.085"/>
<line x1="45.9" y1="276.31" x2="273.4" y2="78.56" stroke-opacity="0.085"/>
<line x1="45.9" y1="275.86" x2="273.4" y2="70.46" stroke-opacity="0.085"/>
<line x1="45.9" y1="289.85" x2="273.4" y2="66.97" stroke-opacity="0.085"/>
<line x1="45.9" y1="290.00" x2="273.4" y2="56.43" stroke-opacity="0.085"/>
<line x1="45.9" y1="251.07" x2="273.4" y2="78.39" stroke-opacity="0.085"/>
<line x1="45.9" y1="295.38" x2="273.4" y2="70.13" stroke-opacity="0.085"/>
<line x1="45.9" y1="273.32" x2="273.4" y2="76.29" stroke-opacity="0.085"/>
<line x1="45.9" y1="288.14" x2="273.4" y2="72.24" stroke-opacity="0.085"/>
<line x1="45.9" y1="260.90" x2="273.4" y2="77.88" stroke-opacity="0.085"/>
<line x1="45.9" y1="277.12" x2="273.4" y2="76.28" stroke-opacity="0.085"/>
<line x1="45.9" y1="270.26" x2="273.4" y2="83.95" stroke-opacity="0.085"/>
<line x1="45.9" y1="263.28" x2="273.4" y2="83.46" stroke-opacity="0.085"/>
<line x1="45.9" y1="319.86" x2="273.4" y2="52.64" stroke-opacity="0.085"/>
<line x1="45.9" y1="331.56" x2="273.4" y2="59.98" stroke-opacity="0.085"/>
<line x1="45.9" y1="281.07" x2="273.4" y2="73.16" stroke-opacity="0.085"/>
<line x1="45.9" y1="312.16" x2="273.4" y2="61.20" stroke-opacity="0.085"/>
<line x1="45.9" y1="253.48" x2="273.4" y2="106.55" stroke-opacity="0.085"/>
<line x1="45.9" y1="268.62" x2="273.4" y2="85.17" stroke-opacity="0.085"/>
<line x1="45.9" y1="272.28" x2="273.4" y2="74.68" stroke-opacity="0.085"/>
<line x1="45.9" y1="267.29" x2="273.4" y2="70.63" stroke-opacity="0.085"/>
<line x1="45.9" y1="314.27" x2="273.4" y2="66.02" stroke-opacity="0.085"/>
<line x1="45.9" y1="264.55" x2="273.4" y2="81.69" stroke-opacity="0.085"/>
<line x1="45.9" y1="299.30" x2="273.4" y2="66.24" stroke-opacity="0.085"/>
<line x1="45.9" y1="289.27" x2="273.4" y2="74.66" stroke-opacity="0.085"/>
<line x1="45.9" y1="273.76" x2="273.4" y2="75.34" stroke-opacity="0.085"/>
<line x1="45.9" y1="270.24" x2="273.4" y2="70.04" stroke-opacity="0.085"/>
<line x1="45.9" y1="258.02" x2="273.4" y2="88.96" stroke-opacity="0.085"/>
<line x1="45.9" y1="273.18" x2="273.4" y2="86.35" stroke-opacity="0.085"/>
<line x1="45.9" y1="258.35" x2="273.4" y2="84.42" stroke-opacity="0.085"/>
<line x1="45.9" y1="301.04" x2="273.4" y2="60.98" stroke-opacity="0.085"/>
<line x1="45.9" y1="304.52" x2="273.4" y2="63.10" stroke-opacity="0.085"/>
<line x1="45.9" y1="301.34" x2="273.4" y2="66.76" stroke-opacity="0.085"/>
<line x1="45.9" y1="275.10" x2="273.4" y2="79.26" stroke-opacity="0.085"/>
<line x1="45.9" y1="286.01" x2="273.4" y2="87.59" stroke-opacity="0.085"/>
<line x1="45.9" y1="265.94" x2="273.4" y2="89.15" stroke-opacity="0.085"/>
<line x1="45.9" y1="249.57" x2="273.4" y2="72.85" stroke-opacity="0.085"/>
<line x1="45.9" y1="285.88" x2="273.4" y2="71.70" stroke-opacity="0.085"/>
<line x1="45.9" y1="314.42" x2="273.4" y2="44.86" stroke-opacity="0.085"/>
<line x1="45.9" y1="264.60" x2="273.4" y2="83.53" stroke-opacity="0.085"/>
<line x1="45.9" y1="286.55" x2="273.4" y2="70.65" stroke-opacity="0.085"/>
<line x1="45.9" y1="259.94" x2="273.4" y2="85.33" stroke-opacity="0.085"/>
<line x1="45.9" y1="301.94" x2="273.4" y2="77.08" stroke-opacity="0.085"/>
<line x1="45.9" y1="284.24" x2="273.4" y2="79.43" stroke-opacity="0.085"/>
<line x1="45.9" y1="280.73" x2="273.4" y2="69.92" stroke-opacity="0.085"/>
<line x1="45.9" y1="255.84" x2="273.4" y2="88.33" stroke-opacity="0.085"/>
<line x1="45.9" y1="322.45" x2="273.4" y2="69.59" stroke-opacity="0.085"/>
<line x1="45.9" y1="276.76" x2="273.4" y2="83.92" stroke-opacity="0.085"/>
<line x1="45.9" y1="282.54" x2="273.4" y2="73.15" stroke-opacity="0.085"/>
<line x1="45.9" y1="274.22" x2="273.4" y2="64.85" stroke-opacity="0.085"/>
<line x1="45.9" y1="317.33" x2="273.4" y2="48.10" stroke-opacity="0.085"/>
<line x1="45.9" y1="323.56" x2="273.4" y2="59.84" stroke-opacity="0.085"/>
<line x1="45.9" y1="273.46" x2="273.4" y2="83.10" stroke-opacity="0.085"/>
<line x1="45.9" y1="277.89" x2="273.4" y2="81.46" stroke-opacity="0.085"/>
<line x1="45.9" y1="215.40" x2="273.4" y2="121.16" stroke-opacity="0.085"/>
<line x1="45.9" y1="259.45" x2="273.4" y2="85.68" stroke-opacity="0.085"/>
<line x1="45.9" y1="279.49" x2="273.4" y2="76.16" stroke-opacity="0.085"/>
<line x1="45.9" y1="273.48" x2="273.4" y2="81.21" stroke-opacity="0.085"/>
<line x1="45.9" y1="259.54" x2="273.4" y2="88.88" stroke-opacity="0.085"/>
<line x1="45.9" y1="278.94" x2="273.4" y2="74.87" stroke-opacity="0.085"/>
<line x1="45.9" y1="284.17" x2="273.4" y2="79.60" stroke-opacity="0.085"/>
<line x1="45.9" y1="296.75" x2="273.4" y2="71.77" stroke-opacity="0.085"/>
<line x1="45.9" y1="283.18" x2="273.4" y2="78.73" stroke-opacity="0.085"/>
<line x1="45.9" y1="303.32" x2="273.4" y2="78.64" stroke-opacity="0.085"/>
<line x1="45.9" y1="286.81" x2="273.4" y2="72.65" stroke-opacity="0.085"/>
<line x1="45.9" y1="254.65" x2="273.4" y2="98.32" stroke-opacity="0.085"/>
<line x1="45.9" y1="267.50" x2="273.4" y2="81.33" stroke-opacity="0.085"/>
<line x1="45.9" y1="288.18" x2="273.4" y2="73.93" stroke-opacity="0.085"/>
<line x1="45.9" y1="283.61" x2="273.4" y2="62.01" stroke-opacity="0.085"/>
<line x1="45.9" y1="269.37" x2="273.4" y2="74.53" stroke-opacity="0.085"/>
<line x1="45.9" y1="299.96" x2="273.4" y2="64.73" stroke-opacity="0.085"/>
<line x1="45.9" y1="304.78" x2="273.4" y2="55.58" stroke-opacity="0.085"/>
<line x1="45.9" y1="311.88" x2="273.4" y2="60.31" stroke-opacity="0.085"/>
<line x1="45.9" y1="301.02" x2="273.4" y2="62.77" stroke-opacity="0.085"/>
<line x1="45.9" y1="290.11" x2="273.4" y2="67.05" stroke-opacity="0.085"/>
<line x1="45.9" y1="286.22" x2="273.4" y2="71.41" stroke-opacity="0.085"/>
<line x1="45.9" y1="273.37" x2="273.4" y2="76.93" stroke-opacity="0.085"/>
<line x1="45.9" y1="284.07" x2="273.4" y2="58.60" stroke-opacity="0.085"/>
<line x1="45.9" y1="290.40" x2="273.4" y2="65.35" stroke-opacity="0.085"/>
<line x1="45.9" y1="288.78" x2="273.4" y2="66.07" stroke-opacity="0.085"/>
<line x1="45.9" y1="259.95" x2="273.4" y2="88.56" stroke-opacity="0.085"/>
<line x1="45.9" y1="285.17" x2="273.4" y2="74.50" stroke-opacity="0.085"/>
<line x1="45.9" y1="300.83" x2="273.4" y2="57.64" stroke-opacity="0.085"/>
<line x1="45.9" y1="283.84" x2="273.4" y2="76.95" stroke-opacity="0.085"/>
<line x1="45.9" y1="239.56" x2="273.4" y2="98.90" stroke-opacity="0.085"/>
<line x1="45.9" y1="298.70" x2="273.4" y2="45.41" stroke-opacity="0.085"/>
<line x1="45.9" y1="291.00" x2="273.4" y2="88.06" stroke-opacity="0.085"/>
<line x1="45.9" y1="280.53" x2="273.4" y2="87.09" stroke-opacity="0.085"/>
<line x1="45.9" y1="293.94" x2="273.4" y2="65.23" stroke-opacity="0.085"/>
<line x1="45.9" y1="301.67" x2="273.4" y2="67.96" stroke-opacity="0.085"/>
<line x1="45.9" y1="278.48" x2="273.4" y2="75.14" stroke-opacity="0.085"/>
<line x1="45.9" y1="242.49" x2="273.4" y2="93.59" stroke-opacity="0.085"/>
<line x1="45.9" y1="288.51" x2="273.4" y2="67.55" stroke-opacity="0.085"/>
<line x1="45.9" y1="284.03" x2="273.4" y2="77.96" stroke-opacity="0.085"/>
<line x1="45.9" y1="275.48" x2="273.4" y2="64.36" stroke-opacity="0.085"/>
<line x1="45.9" y1="286.45" x2="273.4" y2="65.60" stroke-opacity="0.085"/>
<line x1="45.9" y1="284.20" x2="273.4" y2="72.31" stroke-opacity="0.085"/>
<line x1="45.9" y1="308.21" x2="273.4" y2="55.20" stroke-opacity="0.085"/>
<line x1="45.9" y1="297.23" x2="273.4" y2="75.18" stroke-opacity="0.085"/>
<line x1="45.9" y1="293.81" x2="273.4" y2="76.98" stroke-opacity="0.085"/>
<line x1="45.9" y1="271.45" x2="273.4" y2="81.72" stroke-opacity="0.085"/>
<line x1="45.9" y1="319.54" x2="273.4" y2="53.97" stroke-opacity="0.085"/>
<line x1="45.9" y1="276.40" x2="273.4" y2="66.60" stroke-opacity="0.085"/>
<line x1="45.9" y1="289.18" x2="273.4" y2="77.86" stroke-opacity="0.085"/>
<line x1="45.9" y1="258.35" x2="273.4" y2="95.03" stroke-opacity="0.085"/>
<line x1="45.9" y1="268.63" x2="273.4" y2="94.62" stroke-opacity="0.085"/>
<line x1="45.9" y1="282.68" x2="273.4" y2="75.03" stroke-opacity="0.085"/>
<line x1="45.9" y1="279.86" x2="273.4" y2="59.85" stroke-opacity="0.085"/>
<line x1="45.9" y1="246.41" x2="273.4" y2="96.38" stroke-opacity="0.085"/>
<line x1="45.9" y1="281.74" x2="273.4" y2="75.44" stroke-opacity="0.085"/>
<line x1="45.9" y1="280.06" x2="273.4" y2="83.09" stroke-opacity="0.085"/>
<line x1="45.9" y1="286.94" x2="273.4" y2="77.50" stroke-opacity="0.085"/>
<line x1="45.9" y1="264.03" x2="273.4" y2="81.48" stroke-opacity="0.085"/>
<line x1="45.9" y1="297.12" x2="273.4" y2="68.30" stroke-opacity="0.085"/>
<line x1="45.9" y1="274.69" x2="273.4" y2="79.87" stroke-opacity="0.085"/>
<line x1="45.9" y1="279.69" x2="273.4" y2="71.54" stroke-opacity="0.085"/>
<line x1="45.9" y1="270.82" x2="273.4" y2="79.49" stroke-opacity="0.085"/>
<line x1="45.9" y1="275.98" x2="273.4" y2="75.90" stroke-opacity="0.085"/>
<line x1="45.9" y1="282.14" x2="273.4" y2="76.81" stroke-opacity="0.085"/>
<line x1="45.9" y1="299.29" x2="273.4" y2="73.04" stroke-opacity="0.085"/>
<line x1="45.9" y1="271.42" x2="273.4" y2="71.19" stroke-opacity="0.085"/>
<line x1="45.9" y1="277.34" x2="273.4" y2="91.37" stroke-opacity="0.085"/>
<line x1="45.9" y1="227.82" x2="273.4" y2="101.97" stroke-opacity="0.085"/>
<line x1="45.9" y1="292.77" x2="273.4" y2="75.28" stroke-opacity="0.085"/>
<line x1="45.9" y1="284.69" x2="273.4" y2="75.44" stroke-opacity="0.085"/>
<line x1="45.9" y1="282.95" x2="273.4" y2="80.83" stroke-opacity="0.085"/>
<line x1="45.9" y1="263.99" x2="273.4" y2="78.20" stroke-opacity="0.085"/>
<line x1="45.9" y1="270.84" x2="273.4" y2="76.36" stroke-opacity="0.085"/>
<line x1="45.9" y1="291.10" x2="273.4" y2="83.28" stroke-opacity="0.085"/>
<line x1="45.9" y1="263.68" x2="273.4" y2="80.64" stroke-opacity="0.085"/>
<line x1="45.9" y1="239.20" x2="273.4" y2="106.64" stroke-opacity="0.085"/>
<line x1="45.9" y1="313.32" x2="273.4" y2="53.84" stroke-opacity="0.085"/>
<line x1="45.9" y1="278.83" x2="273.4" y2="70.18" stroke-opacity="0.085"/>
<line x1="45.9" y1="295.84" x2="273.4" y2="72.89" stroke-opacity="0.085"/>
<line x1="45.9" y1="276.35" x2="273.4" y2="78.85" stroke-opacity="0.085"/>
<line x1="45.9" y1="335.10" x2="273.4" y2="37.41" stroke-opacity="0.085"/>
<line x1="45.9" y1="278.18" x2="273.4" y2="83.74" stroke-opacity="0.085"/>
<line x1="45.9" y1="281.07" x2="273.4" y2="77.89" stroke-opacity="0.085"/>
<line x1="45.9" y1="288.13" x2="273.4" y2="81.82" stroke-opacity="0.085"/>
<line x1="45.9" y1="263.83" x2="273.4" y2="79.92" stroke-opacity="0.085"/>
<line x1="45.9" y1="309.26" x2="273.4" y2="54.83" stroke-opacity="0.085"/>
<line x1="45.9" y1="265.63" x2="273.4" y2="75.72" stroke-opacity="0.085"/>
<line x1="45.9" y1="275.25" x2="273.4" y2="88.81" stroke-opacity="0.085"/>
<line x1="45.9" y1="282.07" x2="273.4" y2="70.56" stroke-opacity="0.085"/>
<line x1="45.9" y1="265.64" x2="273.4" y2="82.67" stroke-opacity="0.085"/>
<line x1="45.9" y1="261.68" x2="273.4" y2="77.29" stroke-opacity="0.085"/>
<line x1="45.9" y1="286.67" x2="273.4" y2="66.87" stroke-opacity="0.085"/>
<line x1="45.9" y1="275.74" x2="273.4" y2="78.11" stroke-opacity="0.085"/>
<line x1="45.9" y1="304.08" x2="273.4" y2="50.34" stroke-opacity="0.085"/>
<line x1="45.9" y1="292.93" x2="273.4" y2="85.40" stroke-opacity="0.085"/>
<line x1="45.9" y1="297.16" x2="273.4" y2="70.25" stroke-opacity="0.085"/>
<line x1="45.9" y1="236.87" x2="273.4" y2="96.59" stroke-opacity="0.085"/>
<line x1="45.9" y1="271.86" x2="273.4" y2="83.69" stroke-opacity="0.085"/>
<line x1="45.9" y1="275.87" x2="273.4" y2="76.24" stroke-opacity="0.085"/>
<line x1="45.9" y1="303.18" x2="273.4" y2="72.37" stroke-opacity="0.085"/>
<line x1="45.9" y1="311.40" x2="273.4" y2="54.40" stroke-opacity="0.085"/>
<line x1="45.9" y1="313.92" x2="273.4" y2="62.66" stroke-opacity="0.085"/>
<line x1="45.9" y1="301.48" x2="273.4" y2="65.24" stroke-opacity="0.085"/>
<line x1="45.9" y1="289.46" x2="273.4" y2="72.00" stroke-opacity="0.085"/>
<line x1="45.9" y1="279.37" x2="273.4" y2="72.15" stroke-opacity="0.085"/>
<line x1="45.9" y1="273.12" x2="273.4" y2="87.25" stroke-opacity="0.085"/>
<line x1="45.9" y1="315.80" x2="273.4" y2="64.62" stroke-opacity="0.085"/>
<line x1="45.9" y1="278.01" x2="273.4" y2="75.24" stroke-opacity="0.085"/>
<line x1="45.9" y1="283.09" x2="273.4" y2="80.69" stroke-opacity="0.085"/>
<line x1="45.9" y1="266.59" x2="273.4" y2="75.09" stroke-opacity="0.085"/>
<line x1="45.9" y1="271.53" x2="273.4" y2="81.94" stroke-opacity="0.085"/>
<line x1="45.9" y1="279.30" x2="273.4" y2="77.27" stroke-opacity="0.085"/>
<line x1="45.9" y1="289.94" x2="273.4" y2="69.20" stroke-opacity="0.085"/>
<line x1="45.9" y1="312.50" x2="273.4" y2="70.26" stroke-opacity="0.085"/>
<line x1="45.9" y1="263.81" x2="273.4" y2="85.52" stroke-opacity="0.085"/>
<line x1="45.9" y1="296.09" x2="273.4" y2="63.43" stroke-opacity="0.085"/>
<line x1="45.9" y1="279.60" x2="273.4" y2="77.69" stroke-opacity="0.085"/>
<line x1="45.9" y1="281.10" x2="273.4" y2="74.63" stroke-opacity="0.085"/>
<line x1="45.9" y1="299.97" x2="273.4" y2="71.31" stroke-opacity="0.085"/>
<line x1="45.9" y1="287.61" x2="273.4" y2="78.01" stroke-opacity="0.085"/>
<line x1="45.9" y1="270.96" x2="273.4" y2="79.76" stroke-opacity="0.085"/>
<line x1="45.9" y1="270.40" x2="273.4" y2="84.16" stroke-opacity="0.085"/>
<line x1="45.9" y1="284.96" x2="273.4" y2="80.00" stroke-opacity="0.085"/>
<line x1="45.9" y1="298.51" x2="273.4" y2="61.90" stroke-opacity="0.085"/>
<line x1="45.9" y1="285.78" x2="273.4" y2="67.40" stroke-opacity="0.085"/>
<line x1="45.9" y1="300.85" x2="273.4" y2="69.48" stroke-opacity="0.085"/>
<line x1="45.9" y1="270.19" x2="273.4" y2="76.94" stroke-opacity="0.085"/>
<line x1="45.9" y1="254.13" x2="273.4" y2="74.89" stroke-opacity="0.085"/>
<line x1="45.9" y1="282.33" x2="273.4" y2="68.61" stroke-opacity="0.085"/>
<line x1="45.9" y1="268.21" x2="273.4" y2="85.19" stroke-opacity="0.085"/>
<line x1="45.9" y1="284.04" x2="273.4" y2="58.93" stroke-opacity="0.085"/>
<line x1="45.9" y1="297.12" x2="273.4" y2="63.21" stroke-opacity="0.085"/>
<line x1="45.9" y1="318.10" x2="273.4" y2="50.73" stroke-opacity="0.085"/>
<line x1="45.9" y1="279.01" x2="273.4" y2="85.08" stroke-opacity="0.085"/>
<line x1="45.9" y1="282.14" x2="273.4" y2="59.45" stroke-opacity="0.085"/>
<line x1="45.9" y1="285.55" x2="273.4" y2="63.45" stroke-opacity="0.085"/>
<line x1="45.9" y1="266.93" x2="273.4" y2="90.21" stroke-opacity="0.085"/>
<line x1="45.9" y1="279.47" x2="273.4" y2="83.16" stroke-opacity="0.085"/>
<line x1="45.9" y1="264.03" x2="273.4" y2="82.97" stroke-opacity="0.085"/>
<line x1="45.9" y1="280.46" x2="273.4" y2="83.39" stroke-opacity="0.085"/>
<line x1="45.9" y1="288.34" x2="273.4" y2="88.86" stroke-opacity="0.085"/>
<line x1="45.9" y1="298.66" x2="273.4" y2="57.14" stroke-opacity="0.085"/>
<line x1="45.9" y1="276.09" x2="273.4" y2="78.45" stroke-opacity="0.085"/>
<line x1="45.9" y1="270.48" x2="273.4" y2="81.51" stroke-opacity="0.085"/>
<line x1="45.9" y1="243.98" x2="273.4" y2="90.97" stroke-opacity="0.085"/>
<line x1="45.9" y1="296.32" x2="273.4" y2="64.38" stroke-opacity="0.085"/>
<line x1="45.9" y1="291.01" x2="273.4" y2="68.57" stroke-opacity="0.085"/>
<line x1="45.9" y1="263.36" x2="273.4" y2="83.32" stroke-opacity="0.085"/>
<line x1="45.9" y1="287.82" x2="273.4" y2="75.84" stroke-opacity="0.085"/>
<line x1="45.9" y1="268.12" x2="273.4" y2="82.71" stroke-opacity="0.085"/>
<line x1="45.9" y1="290.74" x2="273.4" y2="60.56" stroke-opacity="0.085"/>
<line x1="45.9" y1="311.22" x2="273.4" y2="63.11" stroke-opacity="0.085"/>
<line x1="45.9" y1="279.83" x2="273.4" y2="74.40" stroke-opacity="0.085"/>
<line x1="45.9" y1="274.44" x2="273.4" y2="83.59" stroke-opacity="0.085"/>
<line x1="45.9" y1="281.52" x2="273.4" y2="82.52" stroke-opacity="0.085"/>
<line x1="45.9" y1="275.03" x2="273.4" y2="80.28" stroke-opacity="0.085"/>
<line x1="45.9" y1="298.57" x2="273.4" y2="67.77" stroke-opacity="0.085"/>
<line x1="45.9" y1="279.39" x2="273.4" y2="72.36" stroke-opacity="0.085"/>
<line x1="45.9" y1="280.07" x2="273.4" y2="87.43" stroke-opacity="0.085"/>
<line x1="45.9" y1="280.41" x2="273.4" y2="73.62" stroke-opacity="0.085"/>
<line x1="45.9" y1="288.71" x2="273.4" y2="85.02" stroke-opacity="0.085"/>
<line x1="45.9" y1="277.12" x2="273.4" y2="75.89" stroke-opacity="0.085"/>
<line x1="45.9" y1="354.53" x2="273.4" y2="37.10" stroke-opacity="0.085"/>
<line x1="45.9" y1="292.07" x2="273.4" y2="69.16" stroke-opacity="0.085"/>
<line x1="45.9" y1="314.78" x2="273.4" y2="62.77" stroke-opacity="0.085"/>
<line x1="45.9" y1="292.03" x2="273.4" y2="69.94" stroke-opacity="0.085"/>
<line x1="45.9" y1="241.33" x2="273.4" y2="96.61" stroke-opacity="0.085"/>
<line x1="45.9" y1="272.18" x2="273.4" y2="75.35" stroke-opacity="0.085"/>
<line x1="45.9" y1="277.28" x2="273.4" y2="75.60" stroke-opacity="0.085"/>
<line x1="45.9" y1="268.16" x2="273.4" y2="84.78" stroke-opacity="0.085"/>
<line x1="45.9" y1="291.94" x2="273.4" y2="74.61" stroke-opacity="0.085"/>
<line x1="45.9" y1="316.80" x2="273.4" y2="55.79" stroke-opacity="0.085"/>
<line x1="45.9" y1="295.41" x2="273.4" y2="76.28" stroke-opacity="0.085"/>
<line x1="45.9" y1="280.62" x2="273.4" y2="71.59" stroke-opacity="0.085"/>
<line x1="45.9" y1="300.29" x2="273.4" y2="67.23" stroke-opacity="0.085"/>
<line x1="45.9" y1="294.93" x2="273.4" y2="66.30" stroke-opacity="0.085"/>
<line x1="45.9" y1="264.25" x2="273.4" y2="82.72" stroke-opacity="0.085"/>
<line x1="45.9" y1="281.76" x2="273.4" y2="69.17" stroke-opacity="0.085"/>
<line x1="45.9" y1="300.91" x2="273.4" y2="66.14" stroke-opacity="0.085"/>
<line x1="45.9" y1="292.71" x2="273.4" y2="67.86" stroke-opacity="0.085"/>
<line x1="45.9" y1="277.95" x2="273.4" y2="88.42" stroke-opacity="0.085"/>
<line x1="45.9" y1="259.50" x2="273.4" y2="70.04" stroke-opacity="0.085"/>
<line x1="45.9" y1="309.33" x2="273.4" y2="74.34" stroke-opacity="0.085"/>
<line x1="45.9" y1="300.70" x2="273.4" y2="71.66" stroke-opacity="0.085"/>
<line x1="45.9" y1="309.15" x2="273.4" y2="66.24" stroke-opacity="0.085"/>
<line x1="45.9" y1="289.16" x2="273.4" y2="75.96" stroke-opacity="0.085"/>
<line x1="45.9" y1="284.03" x2="273.4" y2="63.98" stroke-opacity="0.085"/>
<line x1="45.9" y1="340.96" x2="273.4" y2="52.88" stroke-opacity="0.085"/>
<line x1="45.9" y1="298.69" x2="273.4" y2="57.99" stroke-opacity="0.085"/>
<line x1="45.9" y1="284.28" x2="273.4" y2="76.44" stroke-opacity="0.085"/>
<line x1="45.9" y1="305.27" x2="273.4" y2="69.13" stroke-opacity="0.085"/>
<line x1="45.9" y1="310.84" x2="273.4" y2="63.70" stroke-opacity="0.085"/>
<line x1="45.9" y1="299.89" x2="273.4" y2="67.52" stroke-opacity="0.085"/>
<line x1="45.9" y1="274.96" x2="273.4" y2="58.41" stroke-opacity="0.085"/>
<line x1="45.9" y1="277.85" x2="273.4" y2="83.58" stroke-opacity="0.085"/>
<line x1="45.9" y1="292.76" x2="273.4" y2="60.55" stroke-opacity="0.085"/>
<line x1="45.9" y1="273.27" x2="273.4" y2="78.51" stroke-opacity="0.085"/>
<line x1="45.9" y1="265.39" x2="273.4" y2="83.85" stroke-opacity="0.085"/>
<line x1="45.9" y1="273.71" x2="273.4" y2="86.42" stroke-opacity="0.085"/>
<line x1="45.9" y1="269.01" x2="273.4" y2="88.43" stroke-opacity="0.085"/>
<line x1="45.9" y1="283.54" x2="273.4" y2="68.36" stroke-opacity="0.085"/>
<line x1="45.9" y1="297.97" x2="273.4" y2="70.03" stroke-opacity="0.085"/>
<line x1="45.9" y1="318.74" x2="273.4" y2="54.11" stroke-opacity="0.085"/>
<line x1="45.9" y1="271.51" x2="273.4" y2="85.94" stroke-opacity="0.085"/>
<line x1="45.9" y1="278.40" x2="273.4" y2="82.52" stroke-opacity="0.085"/>
<line x1="45.9" y1="258.49" x2="273.4" y2="83.90" stroke-opacity="0.085"/>
<line x1="45.9" y1="321.29" x2="273.4" y2="54.07" stroke-opacity="0.085"/>
<line x1="45.9" y1="282.46" x2="273.4" y2="70.18" stroke-opacity="0.085"/>
<line x1="45.9" y1="261.53" x2="273.4" y2="87.38" stroke-opacity="0.085"/>
<line x1="45.9" y1="272.09" x2="273.4" y2="75.91" stroke-opacity="0.085"/>
<line x1="45.9" y1="266.84" x2="273.4" y2="72.71" stroke-opacity="0.085"/>
<line x1="45.9" y1="296.60" x2="273.4" y2="69.09" stroke-opacity="0.085"/>
<line x1="45.9" y1="265.85" x2="273.4" y2="84.20" stroke-opacity="0.085"/>
<line x1="45.9" y1="285.39" x2="273.4" y2="69.80" stroke-opacity="0.085"/>
<line x1="45.9" y1="303.65" x2="273.4" y2="72.28" stroke-opacity="0.085"/>
<line x1="45.9" y1="300.04" x2="273.4" y2="71.35" stroke-opacity="0.085"/>
<line x1="45.9" y1="264.70" x2="273.4" y2="87.70" stroke-opacity="0.085"/>
<line x1="45.9" y1="294.56" x2="273.4" y2="59.68" stroke-opacity="0.085"/>
<line x1="45.9" y1="287.33" x2="273.4" y2="71.12" stroke-opacity="0.085"/>
<line x1="45.9" y1="282.32" x2="273.4" y2="74.20" stroke-opacity="0.085"/>
<line x1="45.9" y1="275.70" x2="273.4" y2="71.65" stroke-opacity="0.085"/>
<line x1="45.9" y1="284.50" x2="273.4" y2="63.91" stroke-opacity="0.085"/>
<line x1="45.9" y1="274.24" x2="273.4" y2="70.40" stroke-opacity="0.085"/>
<line x1="45.9" y1="330.25" x2="273.4" y2="50.93" stroke-opacity="0.085"/>
<line x1="45.9" y1="292.96" x2="273.4" y2="65.49" stroke-opacity="0.085"/>
<line x1="45.9" y1="289.41" x2="273.4" y2="81.04" stroke-opacity="0.085"/>
<line x1="45.9" y1="282.60" x2="273.4" y2="75.96" stroke-opacity="0.085"/>
<line x1="45.9" y1="297.64" x2="273.4" y2="75.49" stroke-opacity="0.085"/>
<line x1="45.9" y1="238.26" x2="273.4" y2="106.73" stroke-opacity="0.085"/>
<line x1="45.9" y1="300.43" x2="273.4" y2="67.88" stroke-opacity="0.085"/>
<line x1="45.9" y1="272.07" x2="273.4" y2="85.98" stroke-opacity="0.085"/>
<line x1="45.9" y1="261.92" x2="273.4" y2="83.30" stroke-opacity="0.085"/>
<line x1="45.9" y1="315.71" x2="273.4" y2="64.05" stroke-opacity="0.085"/>
<line x1="45.9" y1="307.81" x2="273.4" y2="61.87" stroke-opacity="0.085"/>
<line x1="45.9" y1="268.45" x2="273.4" y2="86.93" stroke-opacity="0.085"/>
<line x1="45.9" y1="289.47" x2="273.4" y2="73.20" stroke-opacity="0.085"/>
<line x1="45.9" y1="269.90" x2="273.4" y2="79.89" stroke-opacity="0.085"/>
<line x1="45.9" y1="271.67" x2="273.4" y2="85.61" stroke-opacity="0.085"/>
<line x1="45.9" y1="286.21" x2="273.4" y2="78.81" stroke-opacity="0.085"/>
<line x1="45.9" y1="297.54" x2="273.4" y2="62.13" stroke-opacity="0.085"/>
<line x1="45.9" y1="266.37" x2="273.4" y2="86.66" stroke-opacity="0.085"/>
<line x1="45.9" y1="291.50" x2="273.4" y2="64.45" stroke-opacity="0.085"/>
<line x1="45.9" y1="270.78" x2="273.4" y2="81.51" stroke-opacity="0.085"/>
<line x1="45.9" y1="301.98" x2="273.4" y2="64.84" stroke-opacity="0.085"/>
<line x1="45.9" y1="279.43" x2="273.4" y2="86.54" stroke-opacity="0.085"/>
<line x1="45.9" y1="289.99" x2="273.4" y2="68.26" stroke-opacity="0.085"/>
<line x1="45.9" y1="290.40" x2="273.4" y2="60.24" stroke-opacity="0.085"/>
<line x1="45.9" y1="305.87" x2="273.4" y2="66.93" stroke-opacity="0.085"/>
<line x1="45.9" y1="304.59" x2="273.4" y2="63.52" stroke-opacity="0.085"/>
<line x1="45.9" y1="277.04" x2="273.4" y2="79.61" stroke-opacity="0.085"/>
<line x1="45.9" y1="257.22" x2="273.4" y2="81.22" stroke-opacity="0.085"/>
<line x1="45.9" y1="263.36" x2="273.4" y2="75.33" stroke-opacity="0.085"/>
<line x1="45.9" y1="287.83" x2="273.4" y2="75.00" stroke-opacity="0.085"/>
<line x1="45.9" y1="255.39" x2="273.4" y2="90.48" stroke-opacity="0.085"/>
<line x1="45.9" y1="277.80" x2="273.4" y2="62.13" stroke-opacity="0.085"/>
<line x1="45.9" y1="264.43" x2="273.4" y2="99.10" stroke-opacity="0.085"/>
<line x1="45.9" y1="274.86" x2="273.4" y2="69.47" stroke-opacity="0.085"/>
<line x1="45.9" y1="288.33" x2="273.4" y2="71.83" stroke-opacity="0.085"/>
<line x1="45.9" y1="260.46" x2="273.4" y2="85.04" stroke-opacity="0.085"/>
<line x1="45.9" y1="271.30" x2="273.4" y2="88.37" stroke-opacity="0.085"/>
<line x1="45.9" y1="292.64" x2="273.4" y2="60.78" stroke-opacity="0.085"/>
<line x1="45.9" y1="304.31" x2="273.4" y2="65.44" stroke-opacity="0.085"/>
<line x1="45.9" y1="298.39" x2="273.4" y2="60.01" stroke-opacity="0.085"/>
<line x1="45.9" y1="270.35" x2="273.4" y2="83.38" stroke-opacity="0.085"/>
<line x1="45.9" y1="306.30" x2="273.4" y2="58.65" stroke-opacity="0.085"/>
<line x1="45.9" y1="281.43" x2="273.4" y2="78.96" stroke-opacity="0.085"/>
<line x1="45.9" y1="274.45" x2="273.4" y2="83.09" stroke-opacity="0.085"/>
<line x1="45.9" y1="292.69" x2="273.4" y2="66.84" stroke-opacity="0.085"/>
<line x1="45.9" y1="301.84" x2="273.4" y2="60.68" stroke-opacity="0.085"/>
<line x1="45.9" y1="297.12" x2="273.4" y2="82.88" stroke-opacity="0.085"/>
<line x1="45.9" y1="299.65" x2="273.4" y2="60.51" stroke-opacity="0.085"/>
<line x1="45.9" y1="310.92" x2="273.4" y2="63.47" stroke-opacity="0.085"/>
<line x1="45.9" y1="281.27" x2="273.4" y2="73.37" stroke-opacity="0.085"/>
<line x1="45.9" y1="272.49" x2="273.4" y2="73.95" stroke-opacity="0.085"/>
<line x1="45.9" y1="295.16" x2="273.4" y2="72.83" stroke-opacity="0.085"/>
<line x1="45.9" y1="257.71" x2="273.4" y2="88.48" stroke-opacity="0.085"/>
<line x1="45.9" y1="254.75" x2="273.4" y2="88.07" stroke-opacity="0.085"/>
<line x1="45.9" y1="290.81" x2="273.4" y2="74.56" stroke-opacity="0.085"/>
<line x1="45.9" y1="286.45" x2="273.4" y2="54.14" stroke-opacity="0.085"/>
<line x1="45.9" y1="270.72" x2="273.4" y2="88.44" stroke-opacity="0.085"/>
<line x1="45.9" y1="283.13" x2="273.4" y2="74.10" stroke-opacity="0.085"/>
<line x1="45.9" y1="272.96" x2="273.4" y2="69.52" stroke-opacity="0.085"/>
<line x1="45.9" y1="258.08" x2="273.4" y2="81.44" stroke-opacity="0.085"/>
<line x1="45.9" y1="287.20" x2="273.4" y2="73.46" stroke-opacity="0.085"/>
<line x1="45.9" y1="313.77" x2="273.4" y2="60.59" stroke-opacity="0.085"/>
<line x1="45.9" y1="250.32" x2="273.4" y2="83.92" stroke-opacity="0.085"/>
<line x1="45.9" y1="283.63" x2="273.4" y2="66.99" stroke-opacity="0.085"/>
<line x1="45.9" y1="276.76" x2="273.4" y2="81.28" stroke-opacity="0.085"/>
<line x1="45.9" y1="281.43" x2="273.4" y2="81.53" stroke-opacity="0.085"/>
<line x1="45.9" y1="303.50" x2="273.4" y2="54.30" stroke-opacity="0.085"/>
<line x1="45.9" y1="296.25" x2="273.4" y2="64.47" stroke-opacity="0.085"/>
<line x1="45.9" y1="300.33" x2="273.4" y2="52.41" stroke-opacity="0.085"/>
<line x1="45.9" y1="269.24" x2="273.4" y2="87.65" stroke-opacity="0.085"/>
<line x1="45.9" y1="287.50" x2="273.4" y2="68.36" stroke-opacity="0.085"/>
<line x1="45.9" y1="290.90" x2="273.4" y2="66.89" stroke-opacity="0.085"/>
<line x1="45.9" y1="268.72" x2="273.4" y2="90.58" stroke-opacity="0.085"/>
<line x1="45.9" y1="286.17" x2="273.4" y2="58.26" stroke-opacity="0.085"/>
<line x1="45.9" y1="280.37" x2="273.4" y2="75.21" stroke-opacity="0.085"/>
<line x1="45.9" y1="258.55" x2="273.4" y2="82.25" stroke-opacity="0.085"/>
<line x1="45.9" y1="279.87" x2="273.4" y2="70.60" stroke-opacity="0.085"/>
<line x1="45.9" y1="322.10" x2="273.4" y2="62.46" stroke-opacity="0.085"/>
<line x1="45.9" y1="296.02" x2="273.4" y2="64.84" stroke-opacity="0.085"/>
<line x1="45.9" y1="266.12" x2="273.4" y2="82.85" stroke-opacity="0.085"/>
<line x1="45.9" y1="284.27" x2="273.4" y2="75.55" stroke-opacity="0.085"/>
<line x1="45.9" y1="289.69" x2="273.4" y2="72.32" stroke-opacity="0.085"/>
<line x1="45.9" y1="277.57" x2="273.4" y2="76.01" stroke-opacity="0.085"/>
<line x1="45.9" y1="287.10" x2="273.4" y2="73.94" stroke-opacity="0.085"/>
<line x1="45.9" y1="260.01" x2="273.4" y2="89.96" stroke-opacity="0.085"/>
<line x1="45.9" y1="301.62" x2="273.4" y2="61.52" stroke-opacity="0.085"/>
<line x1="45.9" y1="275.94" x2="273.4" y2="75.27" stroke-opacity="0.085"/>
<line x1="45.9" y1="273.38" x2="273.4" y2="76.40" stroke-opacity="0.085"/>
<line x1="45.9" y1="262.72" x2="273.4" y2="85.60" stroke-opacity="0.085"/>
<line x1="45.9" y1="313.44" x2="273.4" y2="77.61" stroke-opacity="0.085"/>
<line x1="45.9" y1="292.39" x2="273.4" y2="74.57" stroke-opacity="0.085"/>
<line x1="45.9" y1="345.96" x2="273.4" y2="40.21" stroke-opacity="0.085"/>
<line x1="45.9" y1="279.82" x2="273.4" y2="80.67" stroke-opacity="0.085"/>
<line x1="45.9" y1="288.43" x2="273.4" y2="77.19" stroke-opacity="0.085"/>
<line x1="45.9" y1="343.01" x2="273.4" y2="33.68" stroke-opacity="0.085"/>
<line x1="45.9" y1="289.95" x2="273.4" y2="66.30" stroke-opacity="0.085"/>
<line x1="45.9" y1="283.82" x2="273.4" y2="76.07" stroke-opacity="0.085"/>
<line x1="45.9" y1="263.74" x2="273.4" y2="72.92" stroke-opacity="0.085"/>
<line x1="45.9" y1="286.00" x2="273.4" y2="82.80" stroke-opacity="0.085"/>
<line x1="45.9" y1="274.59" x2="273.4" y2="72.05" stroke-opacity="0.085"/>
<line x1="45.9" y1="265.43" x2="273.4" y2="87.42" stroke-opacity="0.085"/>
<line x1="45.9" y1="282.01" x2="273.4" y2="66.34" stroke-opacity="0.085"/>
<line x1="45.9" y1="249.78" x2="273.4" y2="91.08" stroke-opacity="0.085"/>
<line x1="45.9" y1="282.89" x2="273.4" y2="79.63" stroke-opacity="0.085"/>
<line x1="45.9" y1="328.19" x2="273.4" y2="36.88" stroke-opacity="0.085"/>
<line x1="45.9" y1="293.52" x2="273.4" y2="73.26" stroke-opacity="0.085"/>
<line x1="45.9" y1="231.57" x2="273.4" y2="105.35" stroke-opacity="0.085"/>
<line x1="45.9" y1="278.48" x2="273.4" y2="77.96" stroke-opacity="0.085"/>
<line x1="45.9" y1="290.39" x2="273.4" y2="75.37" stroke-opacity="0.085"/>
<line x1="45.9" y1="283.03" x2="273.4" y2="78.97" stroke-opacity="0.085"/>
<line x1="45.9" y1="294.47" x2="273.4" y2="60.41" stroke-opacity="0.085"/>
<line x1="45.9" y1="246.30" x2="273.4" y2="99.01" stroke-opacity="0.085"/>
<line x1="45.9" y1="284.78" x2="273.4" y2="83.16" stroke-opacity="0.085"/>
<line x1="45.9" y1="281.56" x2="273.4" y2="75.14" stroke-opacity="0.085"/>
<line x1="45.9" y1="267.51" x2="273.4" y2="84.03" stroke-opacity="0.085"/>
<line x1="45.9" y1="270.96" x2="273.4" y2="86.06" stroke-opacity="0.085"/>
<line x1="45.9" y1="259.31" x2="273.4" y2="88.66" stroke-opacity="0.085"/>
<line x1="45.9" y1="309.40" x2="273.4" y2="55.48" stroke-opacity="0.085"/>
<line x1="45.9" y1="294.22" x2="273.4" y2="66.92" stroke-opacity="0.085"/>
<line x1="45.9" y1="314.30" x2="273.4" y2="57.59" stroke-opacity="0.085"/>
<line x1="45.9" y1="283.71" x2="273.4" y2="75.76" stroke-opacity="0.085"/>
<line x1="45.9" y1="295.75" x2="273.4" y2="72.69" stroke-opacity="0.085"/>
<line x1="45.9" y1="261.63" x2="273.4" y2="79.14" stroke-opacity="0.085"/>
<line x1="45.9" y1="260.94" x2="273.4" y2="74.66" stroke-opacity="0.085"/>
<line x1="45.9" y1="286.90" x2="273.4" y2="68.15" stroke-opacity="0.085"/>
<line x1="45.9" y1="294.68" x2="273.4" y2="71.46" stroke-opacity="0.085"/>
<line x1="45.9" y1="275.27" x2="273.4" y2="91.61" stroke-opacity="0.085"/>
<line x1="45.9" y1="280.44" x2="273.4" y2="75.26" stroke-opacity="0.085"/>
<line x1="45.9" y1="282.29" x2="273.4" y2="83.04" stroke-opacity="0.085"/>
<line x1="45.9" y1="281.98" x2="273.4" y2="77.79" stroke-opacity="0.085"/>
<line x1="45.9" y1="260.23" x2="273.4" y2="92.20" stroke-opacity="0.085"/>
<line x1="45.9" y1="258.55" x2="273.4" y2="89.94" stroke-opacity="0.085"/>
<line x1="45.9" y1="266.48" x2="273.4" y2="86.50" stroke-opacity="0.085"/>
<line x1="45.9" y1="278.93" x2="273.4" y2="88.67" stroke-opacity="0.085"/>
<line x1="45.9" y1="260.98" x2="273.4" y2="71.99" stroke-opacity="0.085"/>
<line x1="45.9" y1="291.05" x2="273.4" y2="57.64" stroke-opacity="0.085"/>
<line x1="45.9" y1="306.81" x2="273.4" y2="69.06" stroke-opacity="0.085"/>
<line x1="45.9" y1="307.59" x2="273.4" y2="70.05" stroke-opacity="0.085"/>
<line x1="45.9" y1="270.68" x2="273.4" y2="75.42" stroke-opacity="0.085"/>
<line x1="45.9" y1="322.86" x2="273.4" y2="69.20" stroke-opacity="0.085"/>
<line x1="45.9" y1="302.32" x2="273.4" y2="70.32" stroke-opacity="0.085"/>
<line x1="45.9" y1="292.65" x2="273.4" y2="58.37" stroke-opacity="0.085"/>
<line x1="45.9" y1="272.36" x2="273.4" y2="84.15" stroke-opacity="0.085"/>
<line x1="45.9" y1="263.74" x2="273.4" y2="90.24" stroke-opacity="0.085"/>
<line x1="45.9" y1="295.38" x2="273.4" y2="58.86" stroke-opacity="0.085"/>
<line x1="45.9" y1="301.65" x2="273.4" y2="66.20" stroke-opacity="0.085"/>
<line x1="45.9" y1="285.48" x2="273.4" y2="68.05" stroke-opacity="0.085"/>
<line x1="45.9" y1="271.92" x2="273.4" y2="67.40" stroke-opacity="0.085"/>
<line x1="45.9" y1="267.75" x2="273.4" y2="94.71" stroke-opacity="0.085"/>
<line x1="45.9" y1="280.54" x2="273.4" y2="67.86" stroke-opacity="0.085"/>
<line x1="45.9" y1="272.01" x2="273.4" y2="79.62" stroke-opacity="0.085"/>
<line x1="45.9" y1="277.89" x2="273.4" y2="78.03" stroke-opacity="0.085"/>
<line x1="45.9" y1="286.15" x2="273.4" y2="68.52" stroke-opacity="0.085"/>
<line x1="45.9" y1="280.72" x2="273.4" y2="81.94" stroke-opacity="0.085"/>
<line x1="45.9" y1="276.00" x2="273.4" y2="70.97" stroke-opacity="0.085"/>
<line x1="45.9" y1="305.69" x2="273.4" y2="63.31" stroke-opacity="0.085"/>
<line x1="45.9" y1="298.46" x2="273.4" y2="62.15" stroke-opacity="0.085"/>
<line x1="45.9" y1="281.02" x2="273.4" y2="76.04" stroke-opacity="0.085"/>
<line x1="45.9" y1="303.83" x2="273.4" y2="72.37" stroke-opacity="0.085"/>
<line x1="45.9" y1="283.93" x2="273.4" y2="72.87" stroke-opacity="0.085"/>
<line x1="45.9" y1="292.36" x2="273.4" y2="87.72" stroke-opacity="0.085"/>
<line x1="45.9" y1="264.92" x2="273.4" y2="75.78" stroke-opacity="0.085"/>
<line x1="45.9" y1="313.35" x2="273.4" y2="56.39" stroke-opacity="0.085"/>
<line x1="45.9" y1="286.42" x2="273.4" y2="79.70" stroke-opacity="0.085"/>
<line x1="45.9" y1="246.16" x2="273.4" y2="96.24" stroke-opacity="0.085"/>
<line x1="45.9" y1="276.54" x2="273.4" y2="89.89" stroke-opacity="0.085"/>
<line x1="45.9" y1="238.66" x2="273.4" y2="95.37" stroke-opacity="0.085"/>
<line x1="45.9" y1="312.28" x2="273.4" y2="62.82" stroke-opacity="0.085"/>
<line x1="45.9" y1="282.29" x2="273.4" y2="67.88" stroke-opacity="0.085"/>
<line x1="45.9" y1="289.40" x2="273.4" y2="77.28" stroke-opacity="0.085"/>
<line x1="45.9" y1="263.59" x2="273.4" y2="92.18" stroke-opacity="0.085"/>
<line x1="45.9" y1="279.60" x2="273.4" y2="82.98" stroke-opacity="0.085"/>
<line x1="45.9" y1="300.41" x2="273.4" y2="64.06" stroke-opacity="0.085"/>
<line x1="45.9" y1="274.95" x2="273.4" y2="98.44" stroke-opacity="0.085"/>
<line x1="45.9" y1="290.58" x2="273.4" y2="76.62" stroke-opacity="0.085"/>
<line x1="45.9" y1="266.92" x2="273.4" y2="77.36" stroke-opacity="0.085"/>
<line x1="45.9" y1="299.37" x2="273.4" y2="72.04" stroke-opacity="0.085"/>
<line x1="45.9" y1="283.43" x2="273.4" y2="69.49" stroke-opacity="0.085"/>
<line x1="45.9" y1="293.04" x2="273.4" y2="63.22" stroke-opacity="0.085"/>
<line x1="45.9" y1="270.59" x2="273.4" y2="101.90" stroke-opacity="0.085"/>
<line x1="45.9" y1="284.41" x2="273.4" y2="75.05" stroke-opacity="0.085"/>
<line x1="45.9" y1="278.87" x2="273.4" y2="79.61" stroke-opacity="0.085"/>
<line x1="45.9" y1="282.34" x2="273.4" y2="77.79" stroke-opacity="0.085"/>
<line x1="45.9" y1="291.29" x2="273.4" y2="59.51" stroke-opacity="0.085"/>
<line x1="45.9" y1="253.05" x2="273.4" y2="94.99" stroke-opacity="0.085"/>
<line x1="45.9" y1="284.34" x2="273.4" y2="83.05" stroke-opacity="0.085"/>
<line x1="45.9" y1="227.56" x2="273.4" y2="96.38" stroke-opacity="0.085"/>
<line x1="45.9" y1="289.36" x2="273.4" y2="72.82" stroke-opacity="0.085"/>
<line x1="45.9" y1="297.54" x2="273.4" y2="68.56" stroke-opacity="0.085"/>
<line x1="45.9" y1="282.45" x2="273.4" y2="63.83" stroke-opacity="0.085"/>
<line x1="45.9" y1="286.99" x2="273.4" y2="76.34" stroke-opacity="0.085"/>
<line x1="45.9" y1="203.33" x2="273.4" y2="115.47" stroke-opacity="0.085"/>
<line x1="45.9" y1="343.44" x2="273.4" y2="26.97" stroke-opacity="0.085"/>
<line x1="45.9" y1="275.17" x2="273.4" y2="78.40" stroke-opacity="0.085"/>
<line x1="45.9" y1="277.85" x2="273.4" y2="74.64" stroke-opacity="0.085"/>
<line x1="45.9" y1="261.46" x2="273.4" y2="85.03" stroke-opacity="0.085"/>
<line x1="45.9" y1="260.53" x2="273.4" y2="81.71" stroke-opacity="0.085"/>
<line x1="45.9" y1="300.42" x2="273.4" y2="77.69" stroke-opacity="0.085"/>
<line x1="45.9" y1="315.62" x2="273.4" y2="61.53" stroke-opacity="0.085"/>
<line x1="45.9" y1="278.38" x2="273.4" y2="77.87" stroke-opacity="0.085"/>
<line x1="45.9" y1="274.10" x2="273.4" y2="92.67" stroke-opacity="0.085"/>
<line x1="45.9" y1="293.91" x2="273.4" y2="64.31" stroke-opacity="0.085"/>
<line x1="45.9" y1="251.59" x2="273.4" y2="85.90" stroke-opacity="0.085"/>
<line x1="45.9" y1="317.77" x2="273.4" y2="45.00" stroke-opacity="0.085"/>
<line x1="45.9" y1="297.06" x2="273.4" y2="63.70" stroke-opacity="0.085"/>
<line x1="45.9" y1="276.96" x2="273.4" y2="78.19" stroke-opacity="0.085"/>
<line x1="45.9" y1="281.80" x2="273.4" y2="68.22" stroke-opacity="0.085"/>
<line x1="45.9" y1="300.76" x2="273.4" y2="83.28" stroke-opacity="0.085"/>
<line x1="45.9" y1="289.24" x2="273.4" y2="77.96" stroke-opacity="0.085"/>
<line x1="45.9" y1="303.83" x2="273.4" y2="66.42" stroke-opacity="0.085"/>
<line x1="45.9" y1="298.31" x2="273.4" y2="75.72" stroke-opacity="0.085"/>
<line x1="45.9" y1="287.73" x2="273.4" y2="60.17" stroke-opacity="0.085"/>
<line x1="45.9" y1="270.86" x2="273.4" y2="67.56" stroke-opacity="0.085"/>
<line x1="45.9" y1="284.32" x2="273.4" y2="66.66" stroke-opacity="0.085"/>
<line x1="45.9" y1="278.71" x2="273.4" y2="70.91" stroke-opacity="0.085"/>
<line x1="45.9" y1="271.76" x2="273.4" y2="70.46" stroke-opacity="0.085"/>
<line x1="45.9" y1="261.14" x2="273.4" y2="91.37" stroke-opacity="0.085"/>
<line x1="45.9" y1="285.68" x2="273.4" y2="63.56" stroke-opacity="0.085"/>
<line x1="45.9" y1="277.26" x2="273.4" y2="63.95" stroke-opacity="0.085"/>
<line x1="45.9" y1="252.87" x2="273.4" y2="93.77" stroke-opacity="0.085"/>
<line x1="45.9" y1="299.40" x2="273.4" y2="58.30" stroke-opacity="0.085"/>
<line x1="45.9" y1="287.73" x2="273.4" y2="73.02" stroke-opacity="0.085"/>
<line x1="45.9" y1="272.37" x2="273.4" y2="72.74" stroke-opacity="0.085"/>
<line x1="45.9" y1="277.26" x2="273.4" y2="74.10" stroke-opacity="0.085"/>
<line x1="45.9" y1="280.92" x2="273.4" y2="66.55" stroke-opacity="0.085"/>
<line x1="45.9" y1="291.22" x2="273.4" y2="80.55" stroke-opacity="0.085"/>
<line x1="45.9" y1="316.81" x2="273.4" y2="65.72" stroke-opacity="0.085"/>
<line x1="45.9" y1="280.43" x2="273.4" y2="79.55" stroke-opacity="0.085"/>
<line x1="45.9" y1="250.87" x2="273.4" y2="91.91" stroke-opacity="0.085"/>
<line x1="45.9" y1="287.87" x2="273.4" y2="64.60" stroke-opacity="0.085"/>
<line x1="45.9" y1="305.00" x2="273.4" y2="51.02" stroke-opacity="0.085"/>
<line x1="45.9" y1="306.26" x2="273.4" y2="68.36" stroke-opacity="0.085"/>
<line x1="45.9" y1="281.49" x2="273.4" y2="71.29" stroke-opacity="0.085"/>
<line x1="45.9" y1="288.51" x2="273.4" y2="77.06" stroke-opacity="0.085"/>
<line x1="45.9" y1="276.44" x2="273.4" y2="78.60" stroke-opacity="0.085"/>
<line x1="45.9" y1="279.57" x2="273.4" y2="73.35" stroke-opacity="0.085"/>
<line x1="45.9" y1="309.84" x2="273.4" y2="61.71" stroke-opacity="0.085"/>
<line x1="45.9" y1="239.65" x2="273.4" y2="107.22" stroke-opacity="0.085"/>
<line x1="45.9" y1="242.33" x2="273.4" y2="101.05" stroke-opacity="0.085"/>
<line x1="45.9" y1="336.48" x2="273.4" y2="51.63" stroke-opacity="0.085"/>
<line x1="45.9" y1="237.16" x2="273.4" y2="85.50" stroke-opacity="0.085"/>
<line x1="45.9" y1="298.24" x2="273.4" y2="57.12" stroke-opacity="0.085"/>
<line x1="45.9" y1="333.80" x2="273.4" y2="37.39" stroke-opacity="0.085"/>
<line x1="45.9" y1="278.22" x2="273.4" y2="89.13" stroke-opacity="0.085"/>
<line x1="45.9" y1="308.61" x2="273.4" y2="58.79" stroke-opacity="0.085"/>
<line x1="45.9" y1="304.47" x2="273.4" y2="74.60" stroke-opacity="0.085"/>
<line x1="45.9" y1="280.57" x2="273.4" y2="73.89" stroke-opacity="0.085"/>
<line x1="45.9" y1="294.76" x2="273.4" y2="66.01" stroke-opacity="0.085"/>
<line x1="45.9" y1="275.83" x2="273.4" y2="76.83" stroke-opacity="0.085"/>
<line x1="45.9" y1="304.74" x2="273.4" y2="77.54" stroke-opacity="0.085"/>
<line x1="45.9" y1="275.26" x2="273.4" y2="71.40" stroke-opacity="0.085"/>
<line x1="45.9" y1="261.74" x2="273.4" y2="85.54" stroke-opacity="0.085"/>
<line x1="45.9" y1="275.22" x2="273.4" y2="70.76" stroke-opacity="0.085"/>
<line x1="45.9" y1="269.21" x2="273.4" y2="80.05" stroke-opacity="0.085"/>
<line x1="45.9" y1="273.56" x2="273.4" y2="84.29" stroke-opacity="0.085"/>
<line x1="45.9" y1="290.03" x2="273.4" y2="77.32" stroke-opacity="0.085"/>
<line x1="45.9" y1="285.55" x2="273.4" y2="88.71" stroke-opacity="0.085"/>
<line x1="45.9" y1="283.86" x2="273.4" y2="85.71" stroke-opacity="0.085"/>
<line x1="45.9" y1="263.99" x2="273.4" y2="78.82" stroke-opacity="0.085"/>
<line x1="45.9" y1="294.16" x2="273.4" y2="60.28" stroke-opacity="0.085"/>
<line x1="45.9" y1="280.90" x2="273.4" y2="77.33" stroke-opacity="0.085"/>
<line x1="45.9" y1="292.84" x2="273.4" y2="68.46" stroke-opacity="0.085"/>
<line x1="45.9" y1="268.52" x2="273.4" y2="77.55" stroke-opacity="0.085"/>
<line x1="45.9" y1="237.20" x2="273.4" y2="83.06" stroke-opacity="0.085"/>
<line x1="45.9" y1="273.92" x2="273.4" y2="89.19" stroke-opacity="0.085"/>
<line x1="45.9" y1="271.99" x2="273.4" y2="74.45" stroke-opacity="0.085"/>
<line x1="45.9" y1="299.90" x2="273.4" y2="66.94" stroke-opacity="0.085"/>
</g>
<g clip-path="url(#cl)"><line x1="40" y1="280.67" x2="280" y2="68.51" stroke="#000" stroke-width="1.4"/></g>
<circle cx="147.3" cy="167.2" r="1.5" fill="#000"/>
<circle cx="173.7" cy="167.0" r="1.5" fill="#000"/>
<circle cx="176.7" cy="172.3" r="1.5" fill="#000"/>
<circle cx="195.9" cy="168.0" r="1.5" fill="#000"/>
<circle cx="169.2" cy="208.5" r="1.5" fill="#000"/>
<circle cx="81.5" cy="203.6" r="1.5" fill="#000"/>
<circle cx="89.7" cy="199.4" r="1.5" fill="#000"/>
<circle cx="114.0" cy="204.0" r="1.5" fill="#000"/>
<circle cx="129.9" cy="209.3" r="1.5" fill="#000"/>
<circle cx="87.2" cy="219.9" r="1.5" fill="#000"/>
<circle cx="101.4" cy="215.6" r="1.5" fill="#000"/>
<circle cx="105.4" cy="222.2" r="1.5" fill="#000"/>
<circle cx="76.5" cy="225.8" r="1.5" fill="#000"/>
<circle cx="95.4" cy="225.0" r="1.5" fill="#000"/>
<circle cx="99.3" cy="230.0" r="1.5" fill="#000"/>
<circle cx="133.1" cy="246.2" r="1.5" fill="#000"/>
<circle cx="95.1" cy="257.0" r="1.5" fill="#000"/>
<circle cx="110.2" cy="257.8" r="1.5" fill="#000"/>
<circle cx="94.2" cy="263.0" r="1.5" fill="#000"/>
<circle cx="211.5" cy="150.8" r="1.5" fill="#000"/>
<circle cx="152.6" cy="221.4" r="1.5" fill="#000"/>
<circle cx="148.7" cy="234.5" r="1.5" fill="#000"/>
<line x1="177.4" y1="29.1" x2="219.9" y2="29.1" stroke="#7314ff" stroke-width="1.1"/>
<line x1="177.4" y1="26.900000000000002" x2="177.4" y2="31.3" stroke="#7314ff" stroke-width="1.1"/>
<line x1="219.9" y1="26.900000000000002" x2="219.9" y2="31.3" stroke="#7314ff" stroke-width="1.1"/>
<line x1="198.6" y1="14.3" x2="198.6" y2="43.8" stroke="#7314ff" stroke-width="1.1"/>
<line x1="196.4" y1="14.3" x2="200.79999999999998" y2="14.3" stroke="#7314ff" stroke-width="1.1"/>
<line x1="196.4" y1="43.8" x2="200.79999999999998" y2="43.8" stroke="#7314ff" stroke-width="1.1"/>
<line x1="176.5" y1="99.9" x2="223.9" y2="99.9" stroke="#40ecd4" stroke-width="1.1"/>
<line x1="176.5" y1="97.7" x2="176.5" y2="102.10000000000001" stroke="#40ecd4" stroke-width="1.1"/>
<line x1="223.9" y1="97.7" x2="223.9" y2="102.10000000000001" stroke="#40ecd4" stroke-width="1.1"/>
<line x1="200.4" y1="81.3" x2="200.4" y2="118.2" stroke="#40ecd4" stroke-width="1.1"/>
<line x1="198.20000000000002" y1="81.3" x2="202.6" y2="81.3" stroke="#40ecd4" stroke-width="1.1"/>
<line x1="198.20000000000002" y1="118.2" x2="202.6" y2="118.2" stroke="#40ecd4" stroke-width="1.1"/>
<line x1="214.5" y1="101.3" x2="254.7" y2="101.3" stroke="#5e34fe" stroke-width="1.1"/>
<line x1="214.5" y1="99.1" x2="214.5" y2="103.5" stroke="#5e34fe" stroke-width="1.1"/>
<line x1="254.7" y1="99.1" x2="254.7" y2="103.5" stroke="#5e34fe" stroke-width="1.1"/>
<line x1="234.8" y1="92.8" x2="234.8" y2="110.0" stroke="#5e34fe" stroke-width="1.1"/>
<line x1="232.60000000000002" y1="92.8" x2="237.0" y2="92.8" stroke="#5e34fe" stroke-width="1.1"/>
<line x1="232.60000000000002" y1="110.0" x2="237.0" y2="110.0" stroke="#5e34fe" stroke-width="1.1"/>
<line x1="214.5" y1="124.1" x2="260.6" y2="124.1" stroke="#00b4ec" stroke-width="1.1"/>
<line x1="214.5" y1="121.89999999999999" x2="214.5" y2="126.3" stroke="#00b4ec" stroke-width="1.1"/>
<line x1="260.6" y1="121.89999999999999" x2="260.6" y2="126.3" stroke="#00b4ec" stroke-width="1.1"/>
<line x1="237.6" y1="115.8" x2="237.6" y2="133.0" stroke="#00b4ec" stroke-width="1.1"/>
<line x1="235.4" y1="115.8" x2="239.79999999999998" y2="115.8" stroke="#00b4ec" stroke-width="1.1"/>
<line x1="235.4" y1="133.0" x2="239.79999999999998" y2="133.0" stroke="#00b4ec" stroke-width="1.1"/>
<line x1="222.3" y1="120.1" x2="263.4" y2="120.1" stroke="#6b20fe" stroke-width="1.1"/>
<line x1="222.3" y1="117.89999999999999" x2="222.3" y2="122.3" stroke="#6b20fe" stroke-width="1.1"/>
<line x1="263.4" y1="117.89999999999999" x2="263.4" y2="122.3" stroke="#6b20fe" stroke-width="1.1"/>
<line x1="242.7" y1="110.4" x2="242.7" y2="130.0" stroke="#6b20fe" stroke-width="1.1"/>
<line x1="240.5" y1="110.4" x2="244.89999999999998" y2="110.4" stroke="#6b20fe" stroke-width="1.1"/>
<line x1="240.5" y1="130.0" x2="244.89999999999998" y2="130.0" stroke="#6b20fe" stroke-width="1.1"/>
<line x1="204.5" y1="168.0" x2="245.4" y2="168.0" stroke="#80ffb4" stroke-width="1.1"/>
<line x1="204.5" y1="165.8" x2="204.5" y2="170.2" stroke="#80ffb4" stroke-width="1.1"/>
<line x1="245.4" y1="165.8" x2="245.4" y2="170.2" stroke="#80ffb4" stroke-width="1.1"/>
<line x1="225.1" y1="151.4" x2="225.1" y2="184.0" stroke="#80ffb4" stroke-width="1.1"/>
<line x1="222.9" y1="151.4" x2="227.29999999999998" y2="151.4" stroke="#80ffb4" stroke-width="1.1"/>
<line x1="222.9" y1="184.0" x2="227.29999999999998" y2="184.0" stroke="#80ffb4" stroke-width="1.1"/>
<line x1="166.0" y1="131.7" x2="203.5" y2="131.7" stroke="#1acee3" stroke-width="1.1"/>
<line x1="166.0" y1="129.5" x2="166.0" y2="133.89999999999998" stroke="#1acee3" stroke-width="1.1"/>
<line x1="203.5" y1="129.5" x2="203.5" y2="133.89999999999998" stroke="#1acee3" stroke-width="1.1"/>
<line x1="184.5" y1="124.2" x2="184.5" y2="138.3" stroke="#1acee3" stroke-width="1.1"/>
<line x1="182.3" y1="124.2" x2="186.7" y2="124.2" stroke="#1acee3" stroke-width="1.1"/>
<line x1="182.3" y1="138.3" x2="186.7" y2="138.3" stroke="#1acee3" stroke-width="1.1"/>
<line x1="145.4" y1="149.7" x2="183.0" y2="149.7" stroke="#0dc2e8" stroke-width="1.1"/>
<line x1="145.4" y1="147.5" x2="145.4" y2="151.89999999999998" stroke="#0dc2e8" stroke-width="1.1"/>
<line x1="183.0" y1="147.5" x2="183.0" y2="151.89999999999998" stroke="#0dc2e8" stroke-width="1.1"/>
<line x1="164.0" y1="134.6" x2="164.0" y2="165.0" stroke="#0dc2e8" stroke-width="1.1"/>
<line x1="161.8" y1="134.6" x2="166.2" y2="134.6" stroke="#0dc2e8" stroke-width="1.1"/>
<line x1="161.8" y1="165.0" x2="166.2" y2="165.0" stroke="#0dc2e8" stroke-width="1.1"/>
<line x1="146.4" y1="161.4" x2="182.0" y2="161.4" stroke="#3b69f9" stroke-width="1.1"/>
<line x1="146.4" y1="159.20000000000002" x2="146.4" y2="163.6" stroke="#3b69f9" stroke-width="1.1"/>
<line x1="182.0" y1="159.20000000000002" x2="182.0" y2="163.6" stroke="#3b69f9" stroke-width="1.1"/>
<line x1="164.0" y1="153.0" x2="164.0" y2="170.0" stroke="#3b69f9" stroke-width="1.1"/>
<line x1="161.8" y1="153.0" x2="166.2" y2="153.0" stroke="#3b69f9" stroke-width="1.1"/>
<line x1="161.8" y1="170.0" x2="166.2" y2="170.0" stroke="#3b69f9" stroke-width="1.1"/>
<line x1="166.0" y1="159.4" x2="206.3" y2="159.4" stroke="#66fcc2" stroke-width="1.1"/>
<line x1="166.0" y1="157.20000000000002" x2="166.0" y2="161.6" stroke="#66fcc2" stroke-width="1.1"/>
<line x1="206.3" y1="157.20000000000002" x2="206.3" y2="161.6" stroke="#66fcc2" stroke-width="1.1"/>
<line x1="185.0" y1="142.0" x2="185.0" y2="176.8" stroke="#66fcc2" stroke-width="1.1"/>
<line x1="182.8" y1="142.0" x2="187.2" y2="142.0" stroke="#66fcc2" stroke-width="1.1"/>
<line x1="182.8" y1="176.8" x2="187.2" y2="176.8" stroke="#66fcc2" stroke-width="1.1"/>
<line x1="162.0" y1="148.7" x2="197.6" y2="148.7" stroke="#66fcc2" stroke-width="1.1"/>
<line x1="162.0" y1="146.5" x2="162.0" y2="150.89999999999998" stroke="#66fcc2" stroke-width="1.1"/>
<line x1="197.6" y1="146.5" x2="197.6" y2="150.89999999999998" stroke="#66fcc2" stroke-width="1.1"/>
<line x1="179.8" y1="141.5" x2="179.8" y2="156.0" stroke="#66fcc2" stroke-width="1.1"/>
<line x1="177.60000000000002" y1="141.5" x2="182.0" y2="141.5" stroke="#66fcc2" stroke-width="1.1"/>
<line x1="177.60000000000002" y1="156.0" x2="182.0" y2="156.0" stroke="#66fcc2" stroke-width="1.1"/>
<line x1="154.3" y1="143.0" x2="186.2" y2="143.0" stroke="#0fa3f0" stroke-width="1.1"/>
<line x1="154.3" y1="140.8" x2="154.3" y2="145.2" stroke="#0fa3f0" stroke-width="1.1"/>
<line x1="186.2" y1="140.8" x2="186.2" y2="145.2" stroke="#0fa3f0" stroke-width="1.1"/>
<line x1="169.9" y1="137.6" x2="169.9" y2="149.0" stroke="#0fa3f0" stroke-width="1.1"/>
<line x1="167.70000000000002" y1="137.6" x2="172.1" y2="137.6" stroke="#0fa3f0" stroke-width="1.1"/>
<line x1="167.70000000000002" y1="149.0" x2="172.1" y2="149.0" stroke="#0fa3f0" stroke-width="1.1"/>
<line x1="133.0" y1="178.1" x2="205.4" y2="178.1" stroke="#c2ea8c" stroke-width="1.1"/>
<line x1="133.0" y1="175.9" x2="133.0" y2="180.29999999999998" stroke="#c2ea8c" stroke-width="1.1"/>
<line x1="205.4" y1="175.9" x2="205.4" y2="180.29999999999998" stroke="#c2ea8c" stroke-width="1.1"/>
<line x1="170.0" y1="163.4" x2="170.0" y2="195.3" stroke="#c2ea8c" stroke-width="1.1"/>
<line x1="167.8" y1="163.4" x2="172.2" y2="163.4" stroke="#c2ea8c" stroke-width="1.1"/>
<line x1="167.8" y1="195.3" x2="172.2" y2="195.3" stroke="#c2ea8c" stroke-width="1.1"/>
<line x1="109.6" y1="183.5" x2="188.8" y2="183.5" stroke="#4df3ce" stroke-width="1.1"/>
<line x1="109.6" y1="181.3" x2="109.6" y2="185.7" stroke="#4df3ce" stroke-width="1.1"/>
<line x1="188.8" y1="181.3" x2="188.8" y2="185.7" stroke="#4df3ce" stroke-width="1.1"/>
<line x1="149.3" y1="166.7" x2="149.3" y2="197.8" stroke="#4df3ce" stroke-width="1.1"/>
<line x1="147.10000000000002" y1="166.7" x2="151.5" y2="166.7" stroke="#4df3ce" stroke-width="1.1"/>
<line x1="147.10000000000002" y1="197.8" x2="151.5" y2="197.8" stroke="#4df3ce" stroke-width="1.1"/>
<line x1="126.7" y1="185.2" x2="184.6" y2="185.2" stroke="#99fca6" stroke-width="1.1"/>
<line x1="126.7" y1="183.0" x2="126.7" y2="187.39999999999998" stroke="#99fca6" stroke-width="1.1"/>
<line x1="184.6" y1="183.0" x2="184.6" y2="187.39999999999998" stroke="#99fca6" stroke-width="1.1"/>
<line x1="155.2" y1="172.1" x2="155.2" y2="199.0" stroke="#99fca6" stroke-width="1.1"/>
<line x1="153.0" y1="172.1" x2="157.39999999999998" y2="172.1" stroke="#99fca6" stroke-width="1.1"/>
<line x1="153.0" y1="199.0" x2="157.39999999999998" y2="199.0" stroke="#99fca6" stroke-width="1.1"/>
<line x1="130.0" y1="178.8" x2="161.1" y2="178.8" stroke="#ff5a2e" stroke-width="1.1"/>
<line x1="130.0" y1="176.60000000000002" x2="130.0" y2="181.0" stroke="#ff5a2e" stroke-width="1.1"/>
<line x1="161.1" y1="176.60000000000002" x2="161.1" y2="181.0" stroke="#ff5a2e" stroke-width="1.1"/>
<line x1="145.5" y1="172.6" x2="145.5" y2="185.0" stroke="#ff5a2e" stroke-width="1.1"/>
<line x1="143.3" y1="172.6" x2="147.7" y2="172.6" stroke="#ff5a2e" stroke-width="1.1"/>
<line x1="143.3" y1="185.0" x2="147.7" y2="185.0" stroke="#ff5a2e" stroke-width="1.1"/>
<line x1="159.4" y1="190.7" x2="195.8" y2="190.7" stroke="#cce385" stroke-width="1.1"/>
<line x1="159.4" y1="188.5" x2="159.4" y2="192.89999999999998" stroke="#cce385" stroke-width="1.1"/>
<line x1="195.8" y1="188.5" x2="195.8" y2="192.89999999999998" stroke="#cce385" stroke-width="1.1"/>
<line x1="177.6" y1="183.5" x2="177.6" y2="197.8" stroke="#cce385" stroke-width="1.1"/>
<line x1="175.4" y1="183.5" x2="179.79999999999998" y2="183.5" stroke="#cce385" stroke-width="1.1"/>
<line x1="175.4" y1="197.8" x2="179.79999999999998" y2="197.8" stroke="#cce385" stroke-width="1.1"/>
<line x1="117.6" y1="205.1" x2="150.2" y2="205.1" stroke="#ff180c" stroke-width="1.1"/>
<line x1="117.6" y1="202.9" x2="117.6" y2="207.29999999999998" stroke="#ff180c" stroke-width="1.1"/>
<line x1="150.2" y1="202.9" x2="150.2" y2="207.29999999999998" stroke="#ff180c" stroke-width="1.1"/>
<line x1="133.9" y1="197.7" x2="133.9" y2="212.0" stroke="#ff180c" stroke-width="1.1"/>
<line x1="131.70000000000002" y1="197.7" x2="136.1" y2="197.7" stroke="#ff180c" stroke-width="1.1"/>
<line x1="131.70000000000002" y1="212.0" x2="136.1" y2="212.0" stroke="#ff180c" stroke-width="1.1"/>
<line x1="137.2" y1="221.4" x2="194.8" y2="221.4" stroke="#ff8545" stroke-width="1.1"/>
<line x1="137.2" y1="219.20000000000002" x2="137.2" y2="223.6" stroke="#ff8545" stroke-width="1.1"/>
<line x1="194.8" y1="219.20000000000002" x2="194.8" y2="223.6" stroke="#ff8545" stroke-width="1.1"/>
<line x1="166.4" y1="207.2" x2="166.4" y2="234.5" stroke="#ff8545" stroke-width="1.1"/>
<line x1="164.20000000000002" y1="207.2" x2="168.6" y2="207.2" stroke="#ff8545" stroke-width="1.1"/>
<line x1="164.20000000000002" y1="234.5" x2="168.6" y2="234.5" stroke="#ff8545" stroke-width="1.1"/>
<line x1="45.5" y1="213.6" x2="144.7" y2="213.6" stroke="#ff964f" stroke-width="1.1"/>
<line x1="45.5" y1="211.4" x2="45.5" y2="215.79999999999998" stroke="#ff964f" stroke-width="1.1"/>
<line x1="144.7" y1="211.4" x2="144.7" y2="215.79999999999998" stroke="#ff964f" stroke-width="1.1"/>
<line x1="94.0" y1="199.4" x2="94.0" y2="227.0" stroke="#ff964f" stroke-width="1.1"/>
<line x1="91.8" y1="199.4" x2="96.2" y2="199.4" stroke="#ff964f" stroke-width="1.1"/>
<line x1="91.8" y1="227.0" x2="96.2" y2="227.0" stroke="#ff964f" stroke-width="1.1"/>
<line x1="78.4" y1="233.7" x2="105.0" y2="233.7" stroke="#ff3f20" stroke-width="1.1"/>
<line x1="78.4" y1="231.5" x2="78.4" y2="235.89999999999998" stroke="#ff3f20" stroke-width="1.1"/>
<line x1="105.0" y1="231.5" x2="105.0" y2="235.89999999999998" stroke="#ff3f20" stroke-width="1.1"/>
<line x1="91.4" y1="226.3" x2="91.4" y2="238.4" stroke="#ff3f20" stroke-width="1.1"/>
<line x1="89.2" y1="226.3" x2="93.60000000000001" y2="226.3" stroke="#ff3f20" stroke-width="1.1"/>
<line x1="89.2" y1="238.4" x2="93.60000000000001" y2="238.4" stroke="#ff3f20" stroke-width="1.1"/>
<circle cx="198.6" cy="29.1" r="3.75" fill="#7314ff" stroke="#111" stroke-width="0.9"/>
<circle cx="200.4" cy="99.9" r="3.75" fill="#40ecd4" stroke="#111" stroke-width="0.9"/>
<circle cx="234.8" cy="101.3" r="3.75" fill="#5e34fe" stroke="#111" stroke-width="0.9"/>
<circle cx="237.6" cy="124.1" r="3.75" fill="#00b4ec" stroke="#111" stroke-width="0.9"/>
<rect x="238.95" y="116.35" width="7.5" height="7.5" fill="#6b20fe" stroke="#111" stroke-width="0.9"/>
<circle cx="225.1" cy="168.0" r="3.75" fill="#80ffb4" stroke="#111" stroke-width="0.9"/>
<circle cx="184.5" cy="131.7" r="3.75" fill="#1acee3" stroke="#111" stroke-width="0.9"/>
<circle cx="164.0" cy="149.7" r="3.75" fill="#0dc2e8" stroke="#111" stroke-width="0.9"/>
<circle cx="164.0" cy="161.4" r="3.75" fill="#3b69f9" stroke="#111" stroke-width="0.9"/>
<circle cx="185.0" cy="159.4" r="3.75" fill="#66fcc2" stroke="#111" stroke-width="0.9"/>
<circle cx="179.8" cy="148.7" r="3.75" fill="#66fcc2" stroke="#111" stroke-width="0.9"/>
<rect x="166.15" y="139.25" width="7.5" height="7.5" fill="#0fa3f0" stroke="#111" stroke-width="0.9"/>
<rect x="166.25" y="174.35" width="7.5" height="7.5" fill="#c2ea8c" stroke="#111" stroke-width="0.9"/>
<circle cx="149.3" cy="183.5" r="3.75" fill="#4df3ce" stroke="#111" stroke-width="0.9"/>
<circle cx="155.2" cy="185.2" r="3.75" fill="#99fca6" stroke="#111" stroke-width="0.9"/>
<rect x="141.75" y="175.05" width="7.5" height="7.5" fill="#ff5a2e" stroke="#111" stroke-width="0.9"/>
<circle cx="177.6" cy="190.7" r="3.75" fill="#cce385" stroke="#111" stroke-width="0.9"/>
<rect x="130.15" y="201.35" width="7.5" height="7.5" fill="#ff180c" stroke="#111" stroke-width="0.9"/>
<circle cx="166.4" cy="221.4" r="3.75" fill="#ff8545" stroke="#111" stroke-width="0.9"/>
<circle cx="94.0" cy="213.6" r="3.75" fill="#ff964f" stroke="#111" stroke-width="0.9"/>
<rect x="87.65" y="229.95" width="7.5" height="7.5" fill="#ff3f20" stroke="#111" stroke-width="0.9"/>
<rect x="52" y="10.3" width="7.8" height="7.8" fill="none" stroke="#111" stroke-width="1"/>
<circle cx="56" cy="31" r="3.9" fill="none" stroke="#111" stroke-width="1"/>
<circle cx="56.2" cy="47.3" r="1.5" fill="#000"/>
<text x="66.2" y="18.3" font-size="12" text-anchor="start" textLength="35" lengthAdjust="spacingAndGlyphs" >spec-z</text>
<text x="66.2" y="34.6" font-size="12" text-anchor="start" textLength="41.5" lengthAdjust="spacingAndGlyphs" >photo-z</text>
<text x="66.2" y="50.9" font-size="12" text-anchor="start" textLength="67" lengthAdjust="spacingAndGlyphs" >Ikarashi+15</text>
<g clip-path="url(#cr)" stroke="#808080" stroke-width="0.7" fill="none" opacity="1">
<line x1="403.7" y1="71.74" x2="628.1" y2="254.02" stroke-opacity="0.085"/>
<line x1="403.7" y1="57.89" x2="628.1" y2="251.67" stroke-opacity="0.085"/>
<line x1="403.7" y1="89.35" x2="628.1" y2="253.45" stroke-opacity="0.085"/>
<line x1="403.7" y1="79.47" x2="628.1" y2="243.00" stroke-opacity="0.085"/>
<line x1="403.7" y1="95.71" x2="628.1" y2="242.53" stroke-opacity="0.085"/>
<line x1="403.7" y1="60.68" x2="628.1" y2="262.43" stroke-opacity="0.085"/>
<line x1="403.7" y1="77.96" x2="628.1" y2="252.30" stroke-opacity="0.085"/>
<line x1="403.7" y1="86.21" x2="628.1" y2="242.07" stroke-opacity="0.085"/>
<line x1="403.7" y1="60.80" x2="628.1" y2="257.14" stroke-opacity="0.085"/>
<line x1="403.7" y1="77.11" x2="628.1" y2="252.57" stroke-opacity="0.085"/>
<line x1="403.7" y1="73.47" x2="628.1" y2="266.02" stroke-opacity="0.085"/>
<line x1="403.7" y1="75.30" x2="628.1" y2="243.84" stroke-opacity="0.085"/>
<line x1="403.7" y1="60.74" x2="628.1" y2="246.36" stroke-opacity="0.085"/>
<line x1="403.7" y1="62.93" x2="628.1" y2="241.16" stroke-opacity="0.085"/>
<line x1="403.7" y1="46.92" x2="628.1" y2="278.91" stroke-opacity="0.085"/>
<line x1="403.7" y1="65.16" x2="628.1" y2="241.09" stroke-opacity="0.085"/>
<line x1="403.7" y1="86.57" x2="628.1" y2="236.03" stroke-opacity="0.085"/>
<line x1="403.7" y1="95.88" x2="628.1" y2="228.56" stroke-opacity="0.085"/>
<line x1="403.7" y1="49.63" x2="628.1" y2="260.33" stroke-opacity="0.085"/>
<line x1="403.7" y1="91.63" x2="628.1" y2="220.69" stroke-opacity="0.085"/>
<line x1="403.7" y1="83.77" x2="628.1" y2="242.97" stroke-opacity="0.085"/>
<line x1="403.7" y1="74.16" x2="628.1" y2="244.98" stroke-opacity="0.085"/>
<line x1="403.7" y1="92.76" x2="628.1" y2="262.18" stroke-opacity="0.085"/>
<line x1="403.7" y1="57.15" x2="628.1" y2="266.05" stroke-opacity="0.085"/>
<line x1="403.7" y1="90.17" x2="628.1" y2="232.83" stroke-opacity="0.085"/>
<line x1="403.7" y1="82.74" x2="628.1" y2="251.97" stroke-opacity="0.085"/>
<line x1="403.7" y1="58.63" x2="628.1" y2="262.38" stroke-opacity="0.085"/>
<line x1="403.7" y1="59.11" x2="628.1" y2="249.60" stroke-opacity="0.085"/>
<line x1="403.7" y1="79.59" x2="628.1" y2="267.97" stroke-opacity="0.085"/>
<line x1="403.7" y1="76.49" x2="628.1" y2="241.26" stroke-opacity="0.085"/>
<line x1="403.7" y1="70.14" x2="628.1" y2="252.72" stroke-opacity="0.085"/>
<line x1="403.7" y1="67.18" x2="628.1" y2="252.43" stroke-opacity="0.085"/>
<line x1="403.7" y1="63.09" x2="628.1" y2="255.33" stroke-opacity="0.085"/>
<line x1="403.7" y1="67.23" x2="628.1" y2="263.12" stroke-opacity="0.085"/>
<line x1="403.7" y1="75.56" x2="628.1" y2="246.23" stroke-opacity="0.085"/>
<line x1="403.7" y1="60.58" x2="628.1" y2="271.44" stroke-opacity="0.085"/>
<line x1="403.7" y1="88.48" x2="628.1" y2="262.05" stroke-opacity="0.085"/>
<line x1="403.7" y1="78.41" x2="628.1" y2="267.36" stroke-opacity="0.085"/>
<line x1="403.7" y1="50.09" x2="628.1" y2="290.73" stroke-opacity="0.085"/>
<line x1="403.7" y1="67.72" x2="628.1" y2="262.83" stroke-opacity="0.085"/>
<line x1="403.7" y1="72.95" x2="628.1" y2="247.46" stroke-opacity="0.085"/>
<line x1="403.7" y1="65.87" x2="628.1" y2="264.93" stroke-opacity="0.085"/>
<line x1="403.7" y1="63.35" x2="628.1" y2="235.33" stroke-opacity="0.085"/>
<line x1="403.7" y1="57.37" x2="628.1" y2="255.17" stroke-opacity="0.085"/>
<line x1="403.7" y1="82.94" x2="628.1" y2="263.02" stroke-opacity="0.085"/>
<line x1="403.7" y1="70.84" x2="628.1" y2="265.47" stroke-opacity="0.085"/>
<line x1="403.7" y1="72.27" x2="628.1" y2="268.01" stroke-opacity="0.085"/>
<line x1="403.7" y1="81.45" x2="628.1" y2="244.03" stroke-opacity="0.085"/>
<line x1="403.7" y1="85.57" x2="628.1" y2="258.86" stroke-opacity="0.085"/>
<line x1="403.7" y1="63.33" x2="628.1" y2="266.85" stroke-opacity="0.085"/>
<line x1="403.7" y1="73.88" x2="628.1" y2="254.40" stroke-opacity="0.085"/>
<line x1="403.7" y1="68.68" x2="628.1" y2="269.96" stroke-opacity="0.085"/>
<line x1="403.7" y1="49.65" x2="628.1" y2="276.74" stroke-opacity="0.085"/>
<line x1="403.7" y1="81.63" x2="628.1" y2="259.33" stroke-opacity="0.085"/>
<line x1="403.7" y1="83.45" x2="628.1" y2="232.10" stroke-opacity="0.085"/>
<line x1="403.7" y1="73.10" x2="628.1" y2="243.78" stroke-opacity="0.085"/>
<line x1="403.7" y1="76.81" x2="628.1" y2="249.67" stroke-opacity="0.085"/>
<line x1="403.7" y1="81.93" x2="628.1" y2="247.81" stroke-opacity="0.085"/>
<line x1="403.7" y1="78.58" x2="628.1" y2="254.20" stroke-opacity="0.085"/>
<line x1="403.7" y1="79.54" x2="628.1" y2="256.40" stroke-opacity="0.085"/>
<line x1="403.7" y1="86.05" x2="628.1" y2="242.24" stroke-opacity="0.085"/>
<line x1="403.7" y1="84.24" x2="628.1" y2="270.69" stroke-opacity="0.085"/>
<line x1="403.7" y1="70.51" x2="628.1" y2="242.38" stroke-opacity="0.085"/>
<line x1="403.7" y1="77.87" x2="628.1" y2="246.55" stroke-opacity="0.085"/>
<line x1="403.7" y1="81.88" x2="628.1" y2="242.90" stroke-opacity="0.085"/>
<line x1="403.7" y1="66.72" x2="628.1" y2="248.71" stroke-opacity="0.085"/>
<line x1="403.7" y1="58.80" x2="628.1" y2="260.97" stroke-opacity="0.085"/>
<line x1="403.7" y1="65.04" x2="628.1" y2="261.60" stroke-opacity="0.085"/>
<line x1="403.7" y1="75.07" x2="628.1" y2="246.00" stroke-opacity="0.085"/>
<line x1="403.7" y1="59.14" x2="628.1" y2="252.25" stroke-opacity="0.085"/>
<line x1="403.7" y1="88.32" x2="628.1" y2="241.34" stroke-opacity="0.085"/>
<line x1="403.7" y1="80.58" x2="628.1" y2="263.37" stroke-opacity="0.085"/>
<line x1="403.7" y1="84.22" x2="628.1" y2="254.61" stroke-opacity="0.085"/>
<line x1="403.7" y1="65.12" x2="628.1" y2="273.52" stroke-opacity="0.085"/>
<line x1="403.7" y1="82.62" x2="628.1" y2="237.49" stroke-opacity="0.085"/>
<line x1="403.7" y1="69.13" x2="628.1" y2="244.67" stroke-opacity="0.085"/>
<line x1="403.7" y1="74.59" x2="628.1" y2="256.25" stroke-opacity="0.085"/>
<line x1="403.7" y1="80.17" x2="628.1" y2="219.23" stroke-opacity="0.085"/>
<line x1="403.7" y1="61.95" x2="628.1" y2="269.51" stroke-opacity="0.085"/>
<line x1="403.7" y1="70.43" x2="628.1" y2="241.10" stroke-opacity="0.085"/>
<line x1="403.7" y1="97.33" x2="628.1" y2="233.64" stroke-opacity="0.085"/>
<line x1="403.7" y1="86.62" x2="628.1" y2="236.43" stroke-opacity="0.085"/>
<line x1="403.7" y1="53.43" x2="628.1" y2="245.89" stroke-opacity="0.085"/>
<line x1="403.7" y1="82.64" x2="628.1" y2="252.95" stroke-opacity="0.085"/>
<line x1="403.7" y1="83.40" x2="628.1" y2="257.04" stroke-opacity="0.085"/>
<line x1="403.7" y1="59.35" x2="628.1" y2="260.37" stroke-opacity="0.085"/>
<line x1="403.7" y1="71.13" x2="628.1" y2="263.50" stroke-opacity="0.085"/>
<line x1="403.7" y1="74.58" x2="628.1" y2="263.72" stroke-opacity="0.085"/>
<line x1="403.7" y1="63.64" x2="628.1" y2="279.55" stroke-opacity="0.085"/>
<line x1="403.7" y1="76.48" x2="628.1" y2="244.48" stroke-opacity="0.085"/>
<line x1="403.7" y1="83.69" x2="628.1" y2="262.56" stroke-opacity="0.085"/>
<line x1="403.7" y1="90.86" x2="628.1" y2="240.55" stroke-opacity="0.085"/>
<line x1="403.7" y1="97.00" x2="628.1" y2="218.92" stroke-opacity="0.085"/>
<line x1="403.7" y1="69.79" x2="628.1" y2="267.09" stroke-opacity="0.085"/>
<line x1="403.7" y1="90.70" x2="628.1" y2="263.56" stroke-opacity="0.085"/>
<line x1="403.7" y1="72.69" x2="628.1" y2="241.11" stroke-opacity="0.085"/>
<line x1="403.7" y1="64.74" x2="628.1" y2="245.77" stroke-opacity="0.085"/>
<line x1="403.7" y1="78.88" x2="628.1" y2="248.80" stroke-opacity="0.085"/>
<line x1="403.7" y1="68.17" x2="628.1" y2="253.63" stroke-opacity="0.085"/>
<line x1="403.7" y1="87.38" x2="628.1" y2="239.69" stroke-opacity="0.085"/>
<line x1="403.7" y1="56.63" x2="628.1" y2="264.00" stroke-opacity="0.085"/>
<line x1="403.7" y1="65.25" x2="628.1" y2="259.82" stroke-opacity="0.085"/>
<line x1="403.7" y1="76.44" x2="628.1" y2="230.80" stroke-opacity="0.085"/>
<line x1="403.7" y1="82.51" x2="628.1" y2="262.44" stroke-opacity="0.085"/>
<line x1="403.7" y1="74.96" x2="628.1" y2="219.23" stroke-opacity="0.085"/>
<line x1="403.7" y1="64.57" x2="628.1" y2="264.61" stroke-opacity="0.085"/>
<line x1="403.7" y1="58.14" x2="628.1" y2="257.32" stroke-opacity="0.085"/>
<line x1="403.7" y1="52.24" x2="628.1" y2="280.72" stroke-opacity="0.085"/>
<line x1="403.7" y1="85.24" x2="628.1" y2="222.05" stroke-opacity="0.085"/>
<line x1="403.7" y1="67.16" x2="628.1" y2="275.50" stroke-opacity="0.085"/>
<line x1="403.7" y1="80.61" x2="628.1" y2="267.20" stroke-opacity="0.085"/>
<line x1="403.7" y1="79.94" x2="628.1" y2="269.54" stroke-opacity="0.085"/>
<line x1="403.7" y1="80.02" x2="628.1" y2="236.82" stroke-opacity="0.085"/>
<line x1="403.7" y1="83.86" x2="628.1" y2="235.85" stroke-opacity="0.085"/>
<line x1="403.7" y1="71.32" x2="628.1" y2="254.89" stroke-opacity="0.085"/>
<line x1="403.7" y1="97.19" x2="628.1" y2="229.64" stroke-opacity="0.085"/>
<line x1="403.7" y1="68.04" x2="628.1" y2="243.83" stroke-opacity="0.085"/>
<line x1="403.7" y1="84.56" x2="628.1" y2="250.60" stroke-opacity="0.085"/>
<line x1="403.7" y1="72.07" x2="628.1" y2="256.12" stroke-opacity="0.085"/>
<line x1="403.7" y1="77.33" x2="628.1" y2="269.60" stroke-opacity="0.085"/>
<line x1="403.7" y1="94.54" x2="628.1" y2="241.81" stroke-opacity="0.085"/>
<line x1="403.7" y1="69.49" x2="628.1" y2="252.45" stroke-opacity="0.085"/>
<line x1="403.7" y1="89.55" x2="628.1" y2="246.12" stroke-opacity="0.085"/>
<line x1="403.7" y1="62.88" x2="628.1" y2="266.51" stroke-opacity="0.085"/>
<line x1="403.7" y1="90.72" x2="628.1" y2="247.12" stroke-opacity="0.085"/>
<line x1="403.7" y1="100.63" x2="628.1" y2="233.19" stroke-opacity="0.085"/>
<line x1="403.7" y1="77.11" x2="628.1" y2="236.85" stroke-opacity="0.085"/>
<line x1="403.7" y1="70.91" x2="628.1" y2="253.65" stroke-opacity="0.085"/>
<line x1="403.7" y1="89.84" x2="628.1" y2="254.07" stroke-opacity="0.085"/>
<line x1="403.7" y1="76.61" x2="628.1" y2="238.85" stroke-opacity="0.085"/>
<line x1="403.7" y1="68.40" x2="628.1" y2="269.95" stroke-opacity="0.085"/>
<line x1="403.7" y1="93.83" x2="628.1" y2="225.88" stroke-opacity="0.085"/>
<line x1="403.7" y1="78.14" x2="628.1" y2="239.89" stroke-opacity="0.085"/>
<line x1="403.7" y1="84.58" x2="628.1" y2="243.88" stroke-opacity="0.085"/>
<line x1="403.7" y1="70.06" x2="628.1" y2="255.64" stroke-opacity="0.085"/>
<line x1="403.7" y1="87.49" x2="628.1" y2="247.02" stroke-opacity="0.085"/>
<line x1="403.7" y1="68.85" x2="628.1" y2="265.82" stroke-opacity="0.085"/>
<line x1="403.7" y1="86.06" x2="628.1" y2="243.67" stroke-opacity="0.085"/>
<line x1="403.7" y1="62.45" x2="628.1" y2="258.85" stroke-opacity="0.085"/>
<line x1="403.7" y1="64.88" x2="628.1" y2="257.93" stroke-opacity="0.085"/>
<line x1="403.7" y1="79.56" x2="628.1" y2="255.70" stroke-opacity="0.085"/>
<line x1="403.7" y1="87.23" x2="628.1" y2="247.49" stroke-opacity="0.085"/>
<line x1="403.7" y1="85.60" x2="628.1" y2="264.94" stroke-opacity="0.085"/>
<line x1="403.7" y1="99.02" x2="628.1" y2="240.20" stroke-opacity="0.085"/>
<line x1="403.7" y1="48.11" x2="628.1" y2="260.15" stroke-opacity="0.085"/>
<line x1="403.7" y1="70.70" x2="628.1" y2="225.58" stroke-opacity="0.085"/>
<line x1="403.7" y1="62.64" x2="628.1" y2="237.96" stroke-opacity="0.085"/>
<line x1="403.7" y1="57.16" x2="628.1" y2="233.58" stroke-opacity="0.085"/>
<line x1="403.7" y1="80.52" x2="628.1" y2="231.54" stroke-opacity="0.085"/>
<line x1="403.7" y1="83.56" x2="628.1" y2="247.59" stroke-opacity="0.085"/>
<line x1="403.7" y1="89.11" x2="628.1" y2="248.62" stroke-opacity="0.085"/>
<line x1="403.7" y1="80.61" x2="628.1" y2="277.83" stroke-opacity="0.085"/>
<line x1="403.7" y1="67.22" x2="628.1" y2="262.78" stroke-opacity="0.085"/>
<line x1="403.7" y1="50.08" x2="628.1" y2="265.52" stroke-opacity="0.085"/>
<line x1="403.7" y1="91.30" x2="628.1" y2="240.47" stroke-opacity="0.085"/>
<line x1="403.7" y1="65.00" x2="628.1" y2="251.21" stroke-opacity="0.085"/>
<line x1="403.7" y1="76.99" x2="628.1" y2="243.72" stroke-opacity="0.085"/>
<line x1="403.7" y1="70.34" x2="628.1" y2="254.34" stroke-opacity="0.085"/>
<line x1="403.7" y1="78.34" x2="628.1" y2="258.20" stroke-opacity="0.085"/>
<line x1="403.7" y1="81.85" x2="628.1" y2="256.86" stroke-opacity="0.085"/>
<line x1="403.7" y1="83.89" x2="628.1" y2="260.84" stroke-opacity="0.085"/>
<line x1="403.7" y1="96.51" x2="628.1" y2="244.81" stroke-opacity="0.085"/>
<line x1="403.7" y1="73.05" x2="628.1" y2="275.12" stroke-opacity="0.085"/>
<line x1="403.7" y1="71.45" x2="628.1" y2="248.64" stroke-opacity="0.085"/>
<line x1="403.7" y1="65.56" x2="628.1" y2="252.09" stroke-opacity="0.085"/>
<line x1="403.7" y1="79.91" x2="628.1" y2="237.66" stroke-opacity="0.085"/>
<line x1="403.7" y1="89.89" x2="628.1" y2="245.10" stroke-opacity="0.085"/>
<line x1="403.7" y1="95.47" x2="628.1" y2="253.05" stroke-opacity="0.085"/>
<line x1="403.7" y1="82.89" x2="628.1" y2="234.17" stroke-opacity="0.085"/>
<line x1="403.7" y1="54.69" x2="628.1" y2="272.64" stroke-opacity="0.085"/>
<line x1="403.7" y1="91.08" x2="628.1" y2="242.84" stroke-opacity="0.085"/>
<line x1="403.7" y1="62.22" x2="628.1" y2="294.33" stroke-opacity="0.085"/>
<line x1="403.7" y1="57.31" x2="628.1" y2="263.62" stroke-opacity="0.085"/>
<line x1="403.7" y1="70.45" x2="628.1" y2="262.43" stroke-opacity="0.085"/>
<line x1="403.7" y1="71.03" x2="628.1" y2="256.67" stroke-opacity="0.085"/>
<line x1="403.7" y1="76.35" x2="628.1" y2="257.25" stroke-opacity="0.085"/>
<line x1="403.7" y1="61.60" x2="628.1" y2="286.78" stroke-opacity="0.085"/>
<line x1="403.7" y1="58.52" x2="628.1" y2="279.25" stroke-opacity="0.085"/>
<line x1="403.7" y1="90.36" x2="628.1" y2="236.88" stroke-opacity="0.085"/>
<line x1="403.7" y1="79.60" x2="628.1" y2="246.72" stroke-opacity="0.085"/>
<line x1="403.7" y1="52.75" x2="628.1" y2="264.14" stroke-opacity="0.085"/>
<line x1="403.7" y1="72.83" x2="628.1" y2="228.84" stroke-opacity="0.085"/>
<line x1="403.7" y1="81.70" x2="628.1" y2="244.82" stroke-opacity="0.085"/>
<line x1="403.7" y1="73.00" x2="628.1" y2="260.07" stroke-opacity="0.085"/>
<line x1="403.7" y1="79.83" x2="628.1" y2="259.61" stroke-opacity="0.085"/>
<line x1="403.7" y1="50.44" x2="628.1" y2="256.12" stroke-opacity="0.085"/>
<line x1="403.7" y1="98.93" x2="628.1" y2="223.95" stroke-opacity="0.085"/>
<line x1="403.7" y1="67.80" x2="628.1" y2="275.48" stroke-opacity="0.085"/>
<line x1="403.7" y1="79.46" x2="628.1" y2="259.89" stroke-opacity="0.085"/>
<line x1="403.7" y1="88.96" x2="628.1" y2="242.49" stroke-opacity="0.085"/>
<line x1="403.7" y1="58.80" x2="628.1" y2="245.95" stroke-opacity="0.085"/>
<line x1="403.7" y1="85.36" x2="628.1" y2="242.30" stroke-opacity="0.085"/>
<line x1="403.7" y1="67.86" x2="628.1" y2="259.02" stroke-opacity="0.085"/>
<line x1="403.7" y1="71.75" x2="628.1" y2="236.43" stroke-opacity="0.085"/>
<line x1="403.7" y1="81.26" x2="628.1" y2="242.00" stroke-opacity="0.085"/>
<line x1="403.7" y1="84.81" x2="628.1" y2="231.51" stroke-opacity="0.085"/>
<line x1="403.7" y1="66.59" x2="628.1" y2="239.91" stroke-opacity="0.085"/>
<line x1="403.7" y1="61.73" x2="628.1" y2="273.63" stroke-opacity="0.085"/>
<line x1="403.7" y1="61.00" x2="628.1" y2="251.54" stroke-opacity="0.085"/>
<line x1="403.7" y1="77.12" x2="628.1" y2="255.74" stroke-opacity="0.085"/>
<line x1="403.7" y1="81.31" x2="628.1" y2="242.48" stroke-opacity="0.085"/>
<line x1="403.7" y1="51.41" x2="628.1" y2="274.06" stroke-opacity="0.085"/>
<line x1="403.7" y1="82.07" x2="628.1" y2="253.12" stroke-opacity="0.085"/>
<line x1="403.7" y1="73.49" x2="628.1" y2="243.04" stroke-opacity="0.085"/>
<line x1="403.7" y1="83.03" x2="628.1" y2="237.04" stroke-opacity="0.085"/>
<line x1="403.7" y1="71.01" x2="628.1" y2="241.47" stroke-opacity="0.085"/>
<line x1="403.7" y1="70.99" x2="628.1" y2="271.18" stroke-opacity="0.085"/>
<line x1="403.7" y1="67.23" x2="628.1" y2="255.45" stroke-opacity="0.085"/>
<line x1="403.7" y1="84.66" x2="628.1" y2="237.93" stroke-opacity="0.085"/>
<line x1="403.7" y1="67.56" x2="628.1" y2="255.94" stroke-opacity="0.085"/>
<line x1="403.7" y1="71.70" x2="628.1" y2="232.98" stroke-opacity="0.085"/>
<line x1="403.7" y1="86.97" x2="628.1" y2="242.17" stroke-opacity="0.085"/>
<line x1="403.7" y1="80.31" x2="628.1" y2="254.93" stroke-opacity="0.085"/>
<line x1="403.7" y1="78.47" x2="628.1" y2="262.49" stroke-opacity="0.085"/>
<line x1="403.7" y1="81.96" x2="628.1" y2="251.98" stroke-opacity="0.085"/>
<line x1="403.7" y1="67.53" x2="628.1" y2="252.71" stroke-opacity="0.085"/>
<line x1="403.7" y1="76.53" x2="628.1" y2="226.24" stroke-opacity="0.085"/>
<line x1="403.7" y1="82.60" x2="628.1" y2="252.20" stroke-opacity="0.085"/>
<line x1="403.7" y1="77.39" x2="628.1" y2="251.33" stroke-opacity="0.085"/>
<line x1="403.7" y1="78.26" x2="628.1" y2="259.54" stroke-opacity="0.085"/>
<line x1="403.7" y1="86.94" x2="628.1" y2="260.64" stroke-opacity="0.085"/>
<line x1="403.7" y1="88.68" x2="628.1" y2="241.92" stroke-opacity="0.085"/>
<line x1="403.7" y1="62.96" x2="628.1" y2="267.35" stroke-opacity="0.085"/>
<line x1="403.7" y1="74.59" x2="628.1" y2="267.56" stroke-opacity="0.085"/>
<line x1="403.7" y1="66.32" x2="628.1" y2="268.79" stroke-opacity="0.085"/>
<line x1="403.7" y1="77.49" x2="628.1" y2="236.45" stroke-opacity="0.085"/>
<line x1="403.7" y1="68.75" x2="628.1" y2="254.88" stroke-opacity="0.085"/>
<line x1="403.7" y1="48.97" x2="628.1" y2="273.95" stroke-opacity="0.085"/>
<line x1="403.7" y1="69.42" x2="628.1" y2="231.33" stroke-opacity="0.085"/>
<line x1="403.7" y1="72.15" x2="628.1" y2="239.10" stroke-opacity="0.085"/>
<line x1="403.7" y1="77.27" x2="628.1" y2="254.15" stroke-opacity="0.085"/>
<line x1="403.7" y1="73.24" x2="628.1" y2="268.46" stroke-opacity="0.085"/>
<line x1="403.7" y1="108.59" x2="628.1" y2="228.81" stroke-opacity="0.085"/>
<line x1="403.7" y1="87.15" x2="628.1" y2="240.52" stroke-opacity="0.085"/>
<line x1="403.7" y1="81.67" x2="628.1" y2="261.19" stroke-opacity="0.085"/>
<line x1="403.7" y1="62.72" x2="628.1" y2="283.38" stroke-opacity="0.085"/>
<line x1="403.7" y1="63.55" x2="628.1" y2="271.76" stroke-opacity="0.085"/>
<line x1="403.7" y1="80.49" x2="628.1" y2="245.22" stroke-opacity="0.085"/>
<line x1="403.7" y1="92.89" x2="628.1" y2="229.03" stroke-opacity="0.085"/>
<line x1="403.7" y1="70.57" x2="628.1" y2="235.37" stroke-opacity="0.085"/>
<line x1="403.7" y1="65.05" x2="628.1" y2="265.38" stroke-opacity="0.085"/>
<line x1="403.7" y1="74.45" x2="628.1" y2="261.91" stroke-opacity="0.085"/>
<line x1="403.7" y1="81.10" x2="628.1" y2="231.97" stroke-opacity="0.085"/>
<line x1="403.7" y1="69.97" x2="628.1" y2="267.98" stroke-opacity="0.085"/>
<line x1="403.7" y1="75.27" x2="628.1" y2="238.71" stroke-opacity="0.085"/>
<line x1="403.7" y1="90.56" x2="628.1" y2="253.35" stroke-opacity="0.085"/>
<line x1="403.7" y1="64.45" x2="628.1" y2="259.23" stroke-opacity="0.085"/>
<line x1="403.7" y1="58.91" x2="628.1" y2="261.02" stroke-opacity="0.085"/>
<line x1="403.7" y1="67.70" x2="628.1" y2="247.28" stroke-opacity="0.085"/>
<line x1="403.7" y1="79.66" x2="628.1" y2="228.03" stroke-opacity="0.085"/>
<line x1="403.7" y1="102.64" x2="628.1" y2="219.09" stroke-opacity="0.085"/>
<line x1="403.7" y1="97.24" x2="628.1" y2="249.25" stroke-opacity="0.085"/>
<line x1="403.7" y1="72.99" x2="628.1" y2="208.41" stroke-opacity="0.085"/>
<line x1="403.7" y1="71.16" x2="628.1" y2="252.00" stroke-opacity="0.085"/>
<line x1="403.7" y1="80.24" x2="628.1" y2="236.75" stroke-opacity="0.085"/>
<line x1="403.7" y1="70.54" x2="628.1" y2="248.95" stroke-opacity="0.085"/>
<line x1="403.7" y1="89.63" x2="628.1" y2="215.91" stroke-opacity="0.085"/>
<line x1="403.7" y1="75.20" x2="628.1" y2="241.52" stroke-opacity="0.085"/>
<line x1="403.7" y1="69.36" x2="628.1" y2="260.75" stroke-opacity="0.085"/>
<line x1="403.7" y1="63.31" x2="628.1" y2="256.32" stroke-opacity="0.085"/>
<line x1="403.7" y1="70.52" x2="628.1" y2="268.75" stroke-opacity="0.085"/>
<line x1="403.7" y1="79.36" x2="628.1" y2="255.91" stroke-opacity="0.085"/>
<line x1="403.7" y1="90.54" x2="628.1" y2="243.69" stroke-opacity="0.085"/>
<line x1="403.7" y1="76.17" x2="628.1" y2="246.93" stroke-opacity="0.085"/>
<line x1="403.7" y1="85.38" x2="628.1" y2="237.96" stroke-opacity="0.085"/>
<line x1="403.7" y1="72.94" x2="628.1" y2="264.54" stroke-opacity="0.085"/>
<line x1="403.7" y1="108.45" x2="628.1" y2="241.27" stroke-opacity="0.085"/>
<line x1="403.7" y1="86.55" x2="628.1" y2="237.55" stroke-opacity="0.085"/>
<line x1="403.7" y1="54.21" x2="628.1" y2="267.55" stroke-opacity="0.085"/>
<line x1="403.7" y1="75.86" x2="628.1" y2="266.66" stroke-opacity="0.085"/>
<line x1="403.7" y1="78.38" x2="628.1" y2="250.54" stroke-opacity="0.085"/>
<line x1="403.7" y1="59.58" x2="628.1" y2="266.27" stroke-opacity="0.085"/>
<line x1="403.7" y1="82.94" x2="628.1" y2="257.91" stroke-opacity="0.085"/>
<line x1="403.7" y1="85.74" x2="628.1" y2="245.03" stroke-opacity="0.085"/>
<line x1="403.7" y1="59.73" x2="628.1" y2="235.00" stroke-opacity="0.085"/>
<line x1="403.7" y1="76.64" x2="628.1" y2="247.82" stroke-opacity="0.085"/>
<line x1="403.7" y1="45.87" x2="628.1" y2="253.17" stroke-opacity="0.085"/>
<line x1="403.7" y1="86.43" x2="628.1" y2="230.44" stroke-opacity="0.085"/>
<line x1="403.7" y1="72.25" x2="628.1" y2="242.24" stroke-opacity="0.085"/>
<line x1="403.7" y1="93.41" x2="628.1" y2="236.28" stroke-opacity="0.085"/>
<line x1="403.7" y1="85.86" x2="628.1" y2="236.54" stroke-opacity="0.085"/>
<line x1="403.7" y1="68.77" x2="628.1" y2="244.51" stroke-opacity="0.085"/>
<line x1="403.7" y1="55.32" x2="628.1" y2="260.15" stroke-opacity="0.085"/>
<line x1="403.7" y1="69.93" x2="628.1" y2="255.79" stroke-opacity="0.085"/>
<line x1="403.7" y1="79.17" x2="628.1" y2="236.64" stroke-opacity="0.085"/>
<line x1="403.7" y1="64.21" x2="628.1" y2="261.11" stroke-opacity="0.085"/>
<line x1="403.7" y1="64.28" x2="628.1" y2="242.73" stroke-opacity="0.085"/>
<line x1="403.7" y1="67.20" x2="628.1" y2="248.44" stroke-opacity="0.085"/>
<line x1="403.7" y1="75.67" x2="628.1" y2="234.09" stroke-opacity="0.085"/>
<line x1="403.7" y1="107.62" x2="628.1" y2="215.96" stroke-opacity="0.085"/>
<line x1="403.7" y1="103.32" x2="628.1" y2="237.12" stroke-opacity="0.085"/>
<line x1="403.7" y1="93.84" x2="628.1" y2="242.10" stroke-opacity="0.085"/>
<line x1="403.7" y1="57.42" x2="628.1" y2="259.03" stroke-opacity="0.085"/>
<line x1="403.7" y1="79.45" x2="628.1" y2="249.26" stroke-opacity="0.085"/>
<line x1="403.7" y1="66.98" x2="628.1" y2="282.37" stroke-opacity="0.085"/>
<line x1="403.7" y1="83.06" x2="628.1" y2="229.27" stroke-opacity="0.085"/>
<line x1="403.7" y1="66.16" x2="628.1" y2="251.18" stroke-opacity="0.085"/>
<line x1="403.7" y1="80.75" x2="628.1" y2="237.34" stroke-opacity="0.085"/>
<line x1="403.7" y1="81.32" x2="628.1" y2="246.96" stroke-opacity="0.085"/>
<line x1="403.7" y1="65.15" x2="628.1" y2="265.88" stroke-opacity="0.085"/>
<line x1="403.7" y1="68.70" x2="628.1" y2="262.78" stroke-opacity="0.085"/>
<line x1="403.7" y1="42.94" x2="628.1" y2="265.65" stroke-opacity="0.085"/>
<line x1="403.7" y1="78.31" x2="628.1" y2="234.47" stroke-opacity="0.085"/>
<line x1="403.7" y1="78.22" x2="628.1" y2="242.96" stroke-opacity="0.085"/>
<line x1="403.7" y1="61.86" x2="628.1" y2="250.93" stroke-opacity="0.085"/>
<line x1="403.7" y1="85.42" x2="628.1" y2="242.72" stroke-opacity="0.085"/>
<line x1="403.7" y1="80.83" x2="628.1" y2="240.90" stroke-opacity="0.085"/>
<line x1="403.7" y1="68.73" x2="628.1" y2="257.85" stroke-opacity="0.085"/>
<line x1="403.7" y1="59.86" x2="628.1" y2="248.39" stroke-opacity="0.085"/>
<line x1="403.7" y1="80.14" x2="628.1" y2="240.98" stroke-opacity="0.085"/>
<line x1="403.7" y1="82.67" x2="628.1" y2="234.81" stroke-opacity="0.085"/>
<line x1="403.7" y1="89.97" x2="628.1" y2="243.93" stroke-opacity="0.085"/>
<line x1="403.7" y1="76.78" x2="628.1" y2="258.17" stroke-opacity="0.085"/>
<line x1="403.7" y1="51.94" x2="628.1" y2="265.51" stroke-opacity="0.085"/>
<line x1="403.7" y1="71.07" x2="628.1" y2="249.16" stroke-opacity="0.085"/>
<line x1="403.7" y1="75.71" x2="628.1" y2="250.40" stroke-opacity="0.085"/>
<line x1="403.7" y1="70.38" x2="628.1" y2="248.09" stroke-opacity="0.085"/>
<line x1="403.7" y1="99.47" x2="628.1" y2="240.67" stroke-opacity="0.085"/>
<line x1="403.7" y1="65.52" x2="628.1" y2="254.29" stroke-opacity="0.085"/>
<line x1="403.7" y1="81.79" x2="628.1" y2="245.56" stroke-opacity="0.085"/>
<line x1="403.7" y1="77.75" x2="628.1" y2="271.01" stroke-opacity="0.085"/>
<line x1="403.7" y1="106.46" x2="628.1" y2="226.89" stroke-opacity="0.085"/>
<line x1="403.7" y1="74.55" x2="628.1" y2="265.04" stroke-opacity="0.085"/>
<line x1="403.7" y1="63.84" x2="628.1" y2="248.62" stroke-opacity="0.085"/>
<line x1="403.7" y1="77.94" x2="628.1" y2="251.77" stroke-opacity="0.085"/>
<line x1="403.7" y1="79.56" x2="628.1" y2="260.61" stroke-opacity="0.085"/>
<line x1="403.7" y1="82.27" x2="628.1" y2="235.88" stroke-opacity="0.085"/>
<line x1="403.7" y1="67.96" x2="628.1" y2="262.75" stroke-opacity="0.085"/>
<line x1="403.7" y1="75.40" x2="628.1" y2="259.60" stroke-opacity="0.085"/>
<line x1="403.7" y1="79.77" x2="628.1" y2="228.01" stroke-opacity="0.085"/>
<line x1="403.7" y1="69.20" x2="628.1" y2="251.89" stroke-opacity="0.085"/>
<line x1="403.7" y1="71.21" x2="628.1" y2="257.35" stroke-opacity="0.085"/>
<line x1="403.7" y1="66.30" x2="628.1" y2="245.50" stroke-opacity="0.085"/>
<line x1="403.7" y1="47.47" x2="628.1" y2="277.16" stroke-opacity="0.085"/>
<line x1="403.7" y1="104.87" x2="628.1" y2="246.41" stroke-opacity="0.085"/>
<line x1="403.7" y1="79.18" x2="628.1" y2="263.69" stroke-opacity="0.085"/>
<line x1="403.7" y1="61.82" x2="628.1" y2="268.69" stroke-opacity="0.085"/>
<line x1="403.7" y1="56.13" x2="628.1" y2="255.29" stroke-opacity="0.085"/>
<line x1="403.7" y1="59.87" x2="628.1" y2="230.13" stroke-opacity="0.085"/>
<line x1="403.7" y1="85.37" x2="628.1" y2="241.78" stroke-opacity="0.085"/>
<line x1="403.7" y1="83.28" x2="628.1" y2="217.86" stroke-opacity="0.085"/>
<line x1="403.7" y1="53.58" x2="628.1" y2="249.25" stroke-opacity="0.085"/>
<line x1="403.7" y1="69.26" x2="628.1" y2="251.69" stroke-opacity="0.085"/>
<line x1="403.7" y1="90.45" x2="628.1" y2="223.29" stroke-opacity="0.085"/>
<line x1="403.7" y1="63.11" x2="628.1" y2="281.95" stroke-opacity="0.085"/>
<line x1="403.7" y1="69.88" x2="628.1" y2="247.84" stroke-opacity="0.085"/>
<line x1="403.7" y1="72.36" x2="628.1" y2="259.57" stroke-opacity="0.085"/>
<line x1="403.7" y1="94.11" x2="628.1" y2="241.31" stroke-opacity="0.085"/>
<line x1="403.7" y1="100.90" x2="628.1" y2="250.13" stroke-opacity="0.085"/>
<line x1="403.7" y1="83.14" x2="628.1" y2="250.12" stroke-opacity="0.085"/>
<line x1="403.7" y1="76.02" x2="628.1" y2="247.38" stroke-opacity="0.085"/>
<line x1="403.7" y1="88.60" x2="628.1" y2="246.74" stroke-opacity="0.085"/>
<line x1="403.7" y1="79.54" x2="628.1" y2="257.55" stroke-opacity="0.085"/>
<line x1="403.7" y1="70.61" x2="628.1" y2="253.50" stroke-opacity="0.085"/>
<line x1="403.7" y1="73.12" x2="628.1" y2="245.57" stroke-opacity="0.085"/>
<line x1="403.7" y1="80.94" x2="628.1" y2="230.42" stroke-opacity="0.085"/>
<line x1="403.7" y1="87.85" x2="628.1" y2="252.56" stroke-opacity="0.085"/>
<line x1="403.7" y1="88.15" x2="628.1" y2="241.17" stroke-opacity="0.085"/>
<line x1="403.7" y1="80.72" x2="628.1" y2="258.07" stroke-opacity="0.085"/>
<line x1="403.7" y1="87.96" x2="628.1" y2="228.70" stroke-opacity="0.085"/>
<line x1="403.7" y1="82.99" x2="628.1" y2="238.83" stroke-opacity="0.085"/>
<line x1="403.7" y1="71.37" x2="628.1" y2="282.72" stroke-opacity="0.085"/>
<line x1="403.7" y1="69.23" x2="628.1" y2="250.96" stroke-opacity="0.085"/>
<line x1="403.7" y1="72.11" x2="628.1" y2="262.18" stroke-opacity="0.085"/>
<line x1="403.7" y1="65.08" x2="628.1" y2="263.59" stroke-opacity="0.085"/>
<line x1="403.7" y1="68.77" x2="628.1" y2="251.13" stroke-opacity="0.085"/>
<line x1="403.7" y1="66.88" x2="628.1" y2="248.03" stroke-opacity="0.085"/>
<line x1="403.7" y1="75.39" x2="628.1" y2="260.43" stroke-opacity="0.085"/>
<line x1="403.7" y1="80.95" x2="628.1" y2="255.27" stroke-opacity="0.085"/>
<line x1="403.7" y1="67.20" x2="628.1" y2="249.69" stroke-opacity="0.085"/>
<line x1="403.7" y1="97.50" x2="628.1" y2="229.63" stroke-opacity="0.085"/>
<line x1="403.7" y1="68.99" x2="628.1" y2="257.80" stroke-opacity="0.085"/>
<line x1="403.7" y1="87.93" x2="628.1" y2="254.83" stroke-opacity="0.085"/>
<line x1="403.7" y1="81.65" x2="628.1" y2="239.04" stroke-opacity="0.085"/>
<line x1="403.7" y1="52.30" x2="628.1" y2="278.68" stroke-opacity="0.085"/>
<line x1="403.7" y1="81.05" x2="628.1" y2="246.66" stroke-opacity="0.085"/>
<line x1="403.7" y1="87.79" x2="628.1" y2="237.53" stroke-opacity="0.085"/>
<line x1="403.7" y1="75.61" x2="628.1" y2="259.28" stroke-opacity="0.085"/>
<line x1="403.7" y1="60.26" x2="628.1" y2="229.07" stroke-opacity="0.085"/>
<line x1="403.7" y1="51.54" x2="628.1" y2="272.88" stroke-opacity="0.085"/>
<line x1="403.7" y1="68.53" x2="628.1" y2="253.97" stroke-opacity="0.085"/>
<line x1="403.7" y1="70.28" x2="628.1" y2="250.17" stroke-opacity="0.085"/>
<line x1="403.7" y1="67.43" x2="628.1" y2="239.69" stroke-opacity="0.085"/>
<line x1="403.7" y1="73.30" x2="628.1" y2="249.85" stroke-opacity="0.085"/>
<line x1="403.7" y1="60.29" x2="628.1" y2="257.90" stroke-opacity="0.085"/>
<line x1="403.7" y1="58.58" x2="628.1" y2="269.76" stroke-opacity="0.085"/>
<line x1="403.7" y1="46.91" x2="628.1" y2="263.62" stroke-opacity="0.085"/>
<line x1="403.7" y1="63.38" x2="628.1" y2="250.35" stroke-opacity="0.085"/>
<line x1="403.7" y1="82.33" x2="628.1" y2="254.28" stroke-opacity="0.085"/>
<line x1="403.7" y1="79.23" x2="628.1" y2="237.71" stroke-opacity="0.085"/>
<line x1="403.7" y1="61.84" x2="628.1" y2="274.09" stroke-opacity="0.085"/>
<line x1="403.7" y1="84.68" x2="628.1" y2="251.35" stroke-opacity="0.085"/>
<line x1="403.7" y1="77.35" x2="628.1" y2="237.06" stroke-opacity="0.085"/>
<line x1="403.7" y1="68.00" x2="628.1" y2="263.55" stroke-opacity="0.085"/>
<line x1="403.7" y1="94.21" x2="628.1" y2="237.61" stroke-opacity="0.085"/>
<line x1="403.7" y1="68.63" x2="628.1" y2="262.53" stroke-opacity="0.085"/>
<line x1="403.7" y1="80.64" x2="628.1" y2="258.97" stroke-opacity="0.085"/>
<line x1="403.7" y1="72.53" x2="628.1" y2="270.46" stroke-opacity="0.085"/>
<line x1="403.7" y1="76.15" x2="628.1" y2="243.55" stroke-opacity="0.085"/>
<line x1="403.7" y1="99.42" x2="628.1" y2="237.38" stroke-opacity="0.085"/>
<line x1="403.7" y1="77.15" x2="628.1" y2="248.12" stroke-opacity="0.085"/>
<line x1="403.7" y1="59.19" x2="628.1" y2="266.46" stroke-opacity="0.085"/>
<line x1="403.7" y1="103.16" x2="628.1" y2="225.48" stroke-opacity="0.085"/>
<line x1="403.7" y1="81.02" x2="628.1" y2="233.30" stroke-opacity="0.085"/>
<line x1="403.7" y1="68.89" x2="628.1" y2="259.12" stroke-opacity="0.085"/>
<line x1="403.7" y1="56.31" x2="628.1" y2="253.41" stroke-opacity="0.085"/>
<line x1="403.7" y1="73.67" x2="628.1" y2="254.01" stroke-opacity="0.085"/>
<line x1="403.7" y1="62.84" x2="628.1" y2="267.48" stroke-opacity="0.085"/>
<line x1="403.7" y1="70.00" x2="628.1" y2="253.60" stroke-opacity="0.085"/>
<line x1="403.7" y1="74.92" x2="628.1" y2="234.32" stroke-opacity="0.085"/>
<line x1="403.7" y1="87.50" x2="628.1" y2="266.51" stroke-opacity="0.085"/>
<line x1="403.7" y1="70.71" x2="628.1" y2="239.86" stroke-opacity="0.085"/>
<line x1="403.7" y1="81.94" x2="628.1" y2="254.21" stroke-opacity="0.085"/>
<line x1="403.7" y1="81.98" x2="628.1" y2="264.07" stroke-opacity="0.085"/>
<line x1="403.7" y1="78.13" x2="628.1" y2="274.85" stroke-opacity="0.085"/>
<line x1="403.7" y1="60.00" x2="628.1" y2="263.57" stroke-opacity="0.085"/>
<line x1="403.7" y1="88.86" x2="628.1" y2="257.13" stroke-opacity="0.085"/>
<line x1="403.7" y1="77.64" x2="628.1" y2="255.98" stroke-opacity="0.085"/>
<line x1="403.7" y1="78.93" x2="628.1" y2="254.01" stroke-opacity="0.085"/>
<line x1="403.7" y1="77.19" x2="628.1" y2="258.24" stroke-opacity="0.085"/>
<line x1="403.7" y1="65.03" x2="628.1" y2="275.83" stroke-opacity="0.085"/>
<line x1="403.7" y1="76.50" x2="628.1" y2="240.88" stroke-opacity="0.085"/>
<line x1="403.7" y1="28.82" x2="628.1" y2="290.03" stroke-opacity="0.085"/>
<line x1="403.7" y1="80.21" x2="628.1" y2="251.63" stroke-opacity="0.085"/>
<line x1="403.7" y1="76.44" x2="628.1" y2="234.60" stroke-opacity="0.085"/>
<line x1="403.7" y1="59.35" x2="628.1" y2="264.94" stroke-opacity="0.085"/>
<line x1="403.7" y1="93.75" x2="628.1" y2="239.97" stroke-opacity="0.085"/>
<line x1="403.7" y1="88.74" x2="628.1" y2="232.23" stroke-opacity="0.085"/>
<line x1="403.7" y1="77.47" x2="628.1" y2="244.01" stroke-opacity="0.085"/>
<line x1="403.7" y1="80.76" x2="628.1" y2="235.73" stroke-opacity="0.085"/>
<line x1="403.7" y1="77.97" x2="628.1" y2="260.98" stroke-opacity="0.085"/>
<line x1="403.7" y1="84.16" x2="628.1" y2="245.48" stroke-opacity="0.085"/>
<line x1="403.7" y1="81.27" x2="628.1" y2="251.91" stroke-opacity="0.085"/>
<line x1="403.7" y1="86.21" x2="628.1" y2="241.66" stroke-opacity="0.085"/>
<line x1="403.7" y1="72.09" x2="628.1" y2="252.98" stroke-opacity="0.085"/>
<line x1="403.7" y1="92.02" x2="628.1" y2="256.30" stroke-opacity="0.085"/>
<line x1="403.7" y1="71.06" x2="628.1" y2="246.97" stroke-opacity="0.085"/>
<line x1="403.7" y1="71.45" x2="628.1" y2="257.20" stroke-opacity="0.085"/>
<line x1="403.7" y1="85.66" x2="628.1" y2="232.93" stroke-opacity="0.085"/>
<line x1="403.7" y1="55.58" x2="628.1" y2="266.12" stroke-opacity="0.085"/>
<line x1="403.7" y1="77.65" x2="628.1" y2="275.63" stroke-opacity="0.085"/>
<line x1="403.7" y1="71.47" x2="628.1" y2="250.86" stroke-opacity="0.085"/>
<line x1="403.7" y1="88.00" x2="628.1" y2="235.39" stroke-opacity="0.085"/>
<line x1="403.7" y1="61.45" x2="628.1" y2="242.34" stroke-opacity="0.085"/>
<line x1="403.7" y1="91.50" x2="628.1" y2="254.79" stroke-opacity="0.085"/>
<line x1="403.7" y1="75.54" x2="628.1" y2="248.21" stroke-opacity="0.085"/>
<line x1="403.7" y1="69.39" x2="628.1" y2="270.30" stroke-opacity="0.085"/>
<line x1="403.7" y1="92.75" x2="628.1" y2="236.18" stroke-opacity="0.085"/>
<line x1="403.7" y1="46.20" x2="628.1" y2="253.44" stroke-opacity="0.085"/>
<line x1="403.7" y1="80.09" x2="628.1" y2="250.87" stroke-opacity="0.085"/>
<line x1="403.7" y1="89.91" x2="628.1" y2="258.09" stroke-opacity="0.085"/>
<line x1="403.7" y1="76.16" x2="628.1" y2="258.45" stroke-opacity="0.085"/>
<line x1="403.7" y1="53.75" x2="628.1" y2="253.25" stroke-opacity="0.085"/>
<line x1="403.7" y1="87.01" x2="628.1" y2="257.52" stroke-opacity="0.085"/>
<line x1="403.7" y1="92.03" x2="628.1" y2="245.75" stroke-opacity="0.085"/>
<line x1="403.7" y1="63.24" x2="628.1" y2="253.34" stroke-opacity="0.085"/>
<line x1="403.7" y1="76.35" x2="628.1" y2="240.42" stroke-opacity="0.085"/>
<line x1="403.7" y1="88.53" x2="628.1" y2="240.56" stroke-opacity="0.085"/>
<line x1="403.7" y1="75.38" x2="628.1" y2="232.79" stroke-opacity="0.085"/>
<line x1="403.7" y1="65.74" x2="628.1" y2="249.11" stroke-opacity="0.085"/>
<line x1="403.7" y1="71.87" x2="628.1" y2="251.88" stroke-opacity="0.085"/>
<line x1="403.7" y1="85.39" x2="628.1" y2="237.96" stroke-opacity="0.085"/>
<line x1="403.7" y1="90.60" x2="628.1" y2="256.76" stroke-opacity="0.085"/>
<line x1="403.7" y1="57.22" x2="628.1" y2="269.73" stroke-opacity="0.085"/>
<line x1="403.7" y1="69.49" x2="628.1" y2="250.72" stroke-opacity="0.085"/>
<line x1="403.7" y1="55.85" x2="628.1" y2="256.39" stroke-opacity="0.085"/>
<line x1="403.7" y1="73.00" x2="628.1" y2="241.15" stroke-opacity="0.085"/>
<line x1="403.7" y1="68.12" x2="628.1" y2="239.10" stroke-opacity="0.085"/>
<line x1="403.7" y1="76.48" x2="628.1" y2="246.53" stroke-opacity="0.085"/>
<line x1="403.7" y1="52.44" x2="628.1" y2="249.93" stroke-opacity="0.085"/>
<line x1="403.7" y1="71.17" x2="628.1" y2="247.49" stroke-opacity="0.085"/>
<line x1="403.7" y1="80.69" x2="628.1" y2="250.27" stroke-opacity="0.085"/>
<line x1="403.7" y1="91.47" x2="628.1" y2="225.01" stroke-opacity="0.085"/>
<line x1="403.7" y1="76.68" x2="628.1" y2="251.24" stroke-opacity="0.085"/>
<line x1="403.7" y1="89.88" x2="628.1" y2="260.64" stroke-opacity="0.085"/>
<line x1="403.7" y1="80.51" x2="628.1" y2="261.15" stroke-opacity="0.085"/>
<line x1="403.7" y1="103.68" x2="628.1" y2="222.04" stroke-opacity="0.085"/>
<line x1="403.7" y1="66.91" x2="628.1" y2="264.26" stroke-opacity="0.085"/>
<line x1="403.7" y1="77.10" x2="628.1" y2="235.92" stroke-opacity="0.085"/>
<line x1="403.7" y1="70.46" x2="628.1" y2="265.81" stroke-opacity="0.085"/>
<line x1="403.7" y1="76.27" x2="628.1" y2="257.93" stroke-opacity="0.085"/>
<line x1="403.7" y1="74.16" x2="628.1" y2="266.45" stroke-opacity="0.085"/>
<line x1="403.7" y1="77.59" x2="628.1" y2="260.44" stroke-opacity="0.085"/>
<line x1="403.7" y1="81.31" x2="628.1" y2="232.81" stroke-opacity="0.085"/>
<line x1="403.7" y1="109.78" x2="628.1" y2="235.93" stroke-opacity="0.085"/>
<line x1="403.7" y1="76.87" x2="628.1" y2="246.12" stroke-opacity="0.085"/>
<line x1="403.7" y1="90.32" x2="628.1" y2="217.26" stroke-opacity="0.085"/>
<line x1="403.7" y1="61.65" x2="628.1" y2="275.08" stroke-opacity="0.085"/>
<line x1="403.7" y1="79.21" x2="628.1" y2="242.18" stroke-opacity="0.085"/>
<line x1="403.7" y1="66.72" x2="628.1" y2="245.43" stroke-opacity="0.085"/>
<line x1="403.7" y1="71.51" x2="628.1" y2="238.10" stroke-opacity="0.085"/>
<line x1="403.7" y1="88.77" x2="628.1" y2="251.77" stroke-opacity="0.085"/>
<line x1="403.7" y1="89.22" x2="628.1" y2="261.07" stroke-opacity="0.085"/>
<line x1="403.7" y1="69.15" x2="628.1" y2="238.05" stroke-opacity="0.085"/>
<line x1="403.7" y1="68.10" x2="628.1" y2="247.58" stroke-opacity="0.085"/>
<line x1="403.7" y1="56.82" x2="628.1" y2="253.50" stroke-opacity="0.085"/>
<line x1="403.7" y1="63.14" x2="628.1" y2="258.32" stroke-opacity="0.085"/>
<line x1="403.7" y1="83.70" x2="628.1" y2="224.14" stroke-opacity="0.085"/>
<line x1="403.7" y1="58.19" x2="628.1" y2="236.19" stroke-opacity="0.085"/>
<line x1="403.7" y1="70.02" x2="628.1" y2="258.32" stroke-opacity="0.085"/>
<line x1="403.7" y1="85.89" x2="628.1" y2="272.45" stroke-opacity="0.085"/>
<line x1="403.7" y1="64.31" x2="628.1" y2="255.90" stroke-opacity="0.085"/>
<line x1="403.7" y1="81.30" x2="628.1" y2="250.55" stroke-opacity="0.085"/>
<line x1="403.7" y1="98.24" x2="628.1" y2="257.08" stroke-opacity="0.085"/>
<line x1="403.7" y1="83.91" x2="628.1" y2="257.91" stroke-opacity="0.085"/>
<line x1="403.7" y1="69.66" x2="628.1" y2="247.21" stroke-opacity="0.085"/>
<line x1="403.7" y1="88.93" x2="628.1" y2="234.28" stroke-opacity="0.085"/>
<line x1="403.7" y1="88.12" x2="628.1" y2="242.93" stroke-opacity="0.085"/>
<line x1="403.7" y1="62.69" x2="628.1" y2="264.99" stroke-opacity="0.085"/>
<line x1="403.7" y1="96.97" x2="628.1" y2="241.98" stroke-opacity="0.085"/>
<line x1="403.7" y1="69.55" x2="628.1" y2="264.84" stroke-opacity="0.085"/>
<line x1="403.7" y1="66.92" x2="628.1" y2="251.94" stroke-opacity="0.085"/>
<line x1="403.7" y1="73.86" x2="628.1" y2="250.64" stroke-opacity="0.085"/>
<line x1="403.7" y1="88.71" x2="628.1" y2="232.72" stroke-opacity="0.085"/>
<line x1="403.7" y1="81.57" x2="628.1" y2="269.19" stroke-opacity="0.085"/>
<line x1="403.7" y1="67.36" x2="628.1" y2="251.12" stroke-opacity="0.085"/>
<line x1="403.7" y1="49.04" x2="628.1" y2="247.05" stroke-opacity="0.085"/>
<line x1="403.7" y1="67.57" x2="628.1" y2="246.57" stroke-opacity="0.085"/>
<line x1="403.7" y1="75.62" x2="628.1" y2="229.78" stroke-opacity="0.085"/>
<line x1="403.7" y1="85.52" x2="628.1" y2="247.90" stroke-opacity="0.085"/>
<line x1="403.7" y1="74.48" x2="628.1" y2="251.27" stroke-opacity="0.085"/>
<line x1="403.7" y1="78.81" x2="628.1" y2="269.69" stroke-opacity="0.085"/>
<line x1="403.7" y1="65.11" x2="628.1" y2="241.74" stroke-opacity="0.085"/>
<line x1="403.7" y1="77.09" x2="628.1" y2="248.09" stroke-opacity="0.085"/>
<line x1="403.7" y1="82.14" x2="628.1" y2="247.59" stroke-opacity="0.085"/>
<line x1="403.7" y1="98.97" x2="628.1" y2="264.09" stroke-opacity="0.085"/>
<line x1="403.7" y1="75.04" x2="628.1" y2="239.15" stroke-opacity="0.085"/>
<line x1="403.7" y1="68.39" x2="628.1" y2="265.69" stroke-opacity="0.085"/>
<line x1="403.7" y1="92.66" x2="628.1" y2="227.22" stroke-opacity="0.085"/>
<line x1="403.7" y1="69.69" x2="628.1" y2="233.56" stroke-opacity="0.085"/>
<line x1="403.7" y1="85.02" x2="628.1" y2="245.25" stroke-opacity="0.085"/>
<line x1="403.7" y1="84.40" x2="628.1" y2="241.52" stroke-opacity="0.085"/>
<line x1="403.7" y1="41.94" x2="628.1" y2="258.92" stroke-opacity="0.085"/>
<line x1="403.7" y1="81.55" x2="628.1" y2="254.99" stroke-opacity="0.085"/>
<line x1="403.7" y1="85.34" x2="628.1" y2="270.58" stroke-opacity="0.085"/>
<line x1="403.7" y1="72.29" x2="628.1" y2="256.80" stroke-opacity="0.085"/>
<line x1="403.7" y1="65.17" x2="628.1" y2="260.34" stroke-opacity="0.085"/>
<line x1="403.7" y1="79.01" x2="628.1" y2="256.38" stroke-opacity="0.085"/>
<line x1="403.7" y1="68.24" x2="628.1" y2="266.80" stroke-opacity="0.085"/>
<line x1="403.7" y1="94.53" x2="628.1" y2="249.85" stroke-opacity="0.085"/>
<line x1="403.7" y1="80.18" x2="628.1" y2="257.68" stroke-opacity="0.085"/>
<line x1="403.7" y1="91.97" x2="628.1" y2="235.52" stroke-opacity="0.085"/>
<line x1="403.7" y1="102.39" x2="628.1" y2="249.09" stroke-opacity="0.085"/>
<line x1="403.7" y1="66.15" x2="628.1" y2="264.30" stroke-opacity="0.085"/>
<line x1="403.7" y1="79.15" x2="628.1" y2="273.06" stroke-opacity="0.085"/>
<line x1="403.7" y1="83.84" x2="628.1" y2="240.66" stroke-opacity="0.085"/>
<line x1="403.7" y1="87.53" x2="628.1" y2="257.38" stroke-opacity="0.085"/>
<line x1="403.7" y1="75.47" x2="628.1" y2="248.18" stroke-opacity="0.085"/>
<line x1="403.7" y1="72.09" x2="628.1" y2="235.60" stroke-opacity="0.085"/>
<line x1="403.7" y1="46.12" x2="628.1" y2="256.03" stroke-opacity="0.085"/>
<line x1="403.7" y1="91.33" x2="628.1" y2="240.84" stroke-opacity="0.085"/>
<line x1="403.7" y1="73.96" x2="628.1" y2="231.78" stroke-opacity="0.085"/>
<line x1="403.7" y1="79.29" x2="628.1" y2="241.12" stroke-opacity="0.085"/>
<line x1="403.7" y1="63.57" x2="628.1" y2="266.20" stroke-opacity="0.085"/>
<line x1="403.7" y1="61.53" x2="628.1" y2="258.46" stroke-opacity="0.085"/>
<line x1="403.7" y1="76.33" x2="628.1" y2="252.42" stroke-opacity="0.085"/>
<line x1="403.7" y1="87.23" x2="628.1" y2="249.77" stroke-opacity="0.085"/>
<line x1="403.7" y1="62.19" x2="628.1" y2="238.83" stroke-opacity="0.085"/>
<line x1="403.7" y1="84.37" x2="628.1" y2="231.91" stroke-opacity="0.085"/>
<line x1="403.7" y1="82.50" x2="628.1" y2="235.84" stroke-opacity="0.085"/>
<line x1="403.7" y1="58.79" x2="628.1" y2="272.92" stroke-opacity="0.085"/>
<line x1="403.7" y1="78.17" x2="628.1" y2="267.04" stroke-opacity="0.085"/>
<line x1="403.7" y1="80.43" x2="628.1" y2="250.50" stroke-opacity="0.085"/>
<line x1="403.7" y1="79.33" x2="628.1" y2="253.23" stroke-opacity="0.085"/>
<line x1="403.7" y1="78.79" x2="628.1" y2="260.49" stroke-opacity="0.085"/>
<line x1="403.7" y1="69.90" x2="628.1" y2="233.32" stroke-opacity="0.085"/>
<line x1="403.7" y1="78.17" x2="628.1" y2="255.69" stroke-opacity="0.085"/>
<line x1="403.7" y1="95.06" x2="628.1" y2="246.05" stroke-opacity="0.085"/>
<line x1="403.7" y1="73.84" x2="628.1" y2="241.16" stroke-opacity="0.085"/>
<line x1="403.7" y1="78.25" x2="628.1" y2="269.14" stroke-opacity="0.085"/>
<line x1="403.7" y1="91.87" x2="628.1" y2="226.10" stroke-opacity="0.085"/>
<line x1="403.7" y1="83.37" x2="628.1" y2="239.17" stroke-opacity="0.085"/>
<line x1="403.7" y1="67.86" x2="628.1" y2="250.82" stroke-opacity="0.085"/>
<line x1="403.7" y1="82.62" x2="628.1" y2="246.46" stroke-opacity="0.085"/>
<line x1="403.7" y1="63.55" x2="628.1" y2="265.01" stroke-opacity="0.085"/>
<line x1="403.7" y1="48.96" x2="628.1" y2="280.77" stroke-opacity="0.085"/>
<line x1="403.7" y1="70.33" x2="628.1" y2="255.61" stroke-opacity="0.085"/>
<line x1="403.7" y1="89.86" x2="628.1" y2="231.50" stroke-opacity="0.085"/>
<line x1="403.7" y1="66.79" x2="628.1" y2="264.20" stroke-opacity="0.085"/>
<line x1="403.7" y1="96.69" x2="628.1" y2="243.00" stroke-opacity="0.085"/>
<line x1="403.7" y1="69.46" x2="628.1" y2="265.99" stroke-opacity="0.085"/>
<line x1="403.7" y1="62.84" x2="628.1" y2="245.76" stroke-opacity="0.085"/>
<line x1="403.7" y1="70.07" x2="628.1" y2="243.68" stroke-opacity="0.085"/>
<line x1="403.7" y1="81.11" x2="628.1" y2="233.10" stroke-opacity="0.085"/>
<line x1="403.7" y1="65.40" x2="628.1" y2="241.02" stroke-opacity="0.085"/>
<line x1="403.7" y1="66.69" x2="628.1" y2="247.18" stroke-opacity="0.085"/>
<line x1="403.7" y1="60.58" x2="628.1" y2="259.28" stroke-opacity="0.085"/>
<line x1="403.7" y1="67.28" x2="628.1" y2="255.20" stroke-opacity="0.085"/>
<line x1="403.7" y1="67.17" x2="628.1" y2="264.65" stroke-opacity="0.085"/>
<line x1="403.7" y1="69.53" x2="628.1" y2="250.31" stroke-opacity="0.085"/>
<line x1="403.7" y1="74.18" x2="628.1" y2="249.82" stroke-opacity="0.085"/>
<line x1="403.7" y1="74.01" x2="628.1" y2="271.93" stroke-opacity="0.085"/>
<line x1="403.7" y1="75.07" x2="628.1" y2="257.01" stroke-opacity="0.085"/>
<line x1="403.7" y1="74.33" x2="628.1" y2="246.13" stroke-opacity="0.085"/>
<line x1="403.7" y1="77.58" x2="628.1" y2="253.05" stroke-opacity="0.085"/>
<line x1="403.7" y1="67.19" x2="628.1" y2="243.68" stroke-opacity="0.085"/>
<line x1="403.7" y1="62.05" x2="628.1" y2="271.58" stroke-opacity="0.085"/>
<line x1="403.7" y1="100.11" x2="628.1" y2="211.61" stroke-opacity="0.085"/>
<line x1="403.7" y1="73.77" x2="628.1" y2="239.65" stroke-opacity="0.085"/>
<line x1="403.7" y1="95.25" x2="628.1" y2="241.45" stroke-opacity="0.085"/>
<line x1="403.7" y1="59.05" x2="628.1" y2="274.77" stroke-opacity="0.085"/>
<line x1="403.7" y1="89.06" x2="628.1" y2="248.91" stroke-opacity="0.085"/>
<line x1="403.7" y1="72.38" x2="628.1" y2="247.93" stroke-opacity="0.085"/>
<line x1="403.7" y1="79.52" x2="628.1" y2="236.21" stroke-opacity="0.085"/>
<line x1="403.7" y1="52.08" x2="628.1" y2="243.53" stroke-opacity="0.085"/>
<line x1="403.7" y1="81.08" x2="628.1" y2="243.42" stroke-opacity="0.085"/>
<line x1="403.7" y1="68.35" x2="628.1" y2="247.63" stroke-opacity="0.085"/>
<line x1="403.7" y1="86.34" x2="628.1" y2="243.10" stroke-opacity="0.085"/>
<line x1="403.7" y1="96.82" x2="628.1" y2="257.33" stroke-opacity="0.085"/>
<line x1="403.7" y1="79.54" x2="628.1" y2="251.62" stroke-opacity="0.085"/>
<line x1="403.7" y1="65.27" x2="628.1" y2="249.45" stroke-opacity="0.085"/>
<line x1="403.7" y1="61.52" x2="628.1" y2="273.91" stroke-opacity="0.085"/>
<line x1="403.7" y1="64.19" x2="628.1" y2="257.75" stroke-opacity="0.085"/>
<line x1="403.7" y1="92.53" x2="628.1" y2="248.86" stroke-opacity="0.085"/>
<line x1="403.7" y1="79.78" x2="628.1" y2="253.56" stroke-opacity="0.085"/>
<line x1="403.7" y1="98.47" x2="628.1" y2="209.49" stroke-opacity="0.085"/>
<line x1="403.7" y1="65.87" x2="628.1" y2="254.24" stroke-opacity="0.085"/>
<line x1="403.7" y1="67.39" x2="628.1" y2="262.85" stroke-opacity="0.085"/>
<line x1="403.7" y1="87.87" x2="628.1" y2="238.05" stroke-opacity="0.085"/>
<line x1="403.7" y1="59.66" x2="628.1" y2="256.82" stroke-opacity="0.085"/>
<line x1="403.7" y1="85.24" x2="628.1" y2="262.43" stroke-opacity="0.085"/>
<line x1="403.7" y1="70.74" x2="628.1" y2="247.95" stroke-opacity="0.085"/>
<line x1="403.7" y1="80.80" x2="628.1" y2="246.99" stroke-opacity="0.085"/>
<line x1="403.7" y1="96.63" x2="628.1" y2="255.28" stroke-opacity="0.085"/>
<line x1="403.7" y1="67.86" x2="628.1" y2="267.08" stroke-opacity="0.085"/>
<line x1="403.7" y1="74.63" x2="628.1" y2="234.88" stroke-opacity="0.085"/>
<line x1="403.7" y1="67.29" x2="628.1" y2="243.99" stroke-opacity="0.085"/>
<line x1="403.7" y1="81.39" x2="628.1" y2="238.36" stroke-opacity="0.085"/>
<line x1="403.7" y1="75.62" x2="628.1" y2="259.99" stroke-opacity="0.085"/>
<line x1="403.7" y1="75.87" x2="628.1" y2="248.37" stroke-opacity="0.085"/>
<line x1="403.7" y1="101.17" x2="628.1" y2="238.98" stroke-opacity="0.085"/>
<line x1="403.7" y1="94.10" x2="628.1" y2="228.39" stroke-opacity="0.085"/>
<line x1="403.7" y1="66.70" x2="628.1" y2="258.26" stroke-opacity="0.085"/>
<line x1="403.7" y1="83.80" x2="628.1" y2="252.61" stroke-opacity="0.085"/>
<line x1="403.7" y1="63.94" x2="628.1" y2="244.48" stroke-opacity="0.085"/>
<line x1="403.7" y1="83.15" x2="628.1" y2="244.10" stroke-opacity="0.085"/>
<line x1="403.7" y1="60.13" x2="628.1" y2="261.40" stroke-opacity="0.085"/>
<line x1="403.7" y1="94.69" x2="628.1" y2="226.18" stroke-opacity="0.085"/>
<line x1="403.7" y1="80.44" x2="628.1" y2="229.70" stroke-opacity="0.085"/>
<line x1="403.7" y1="75.59" x2="628.1" y2="252.80" stroke-opacity="0.085"/>
<line x1="403.7" y1="77.96" x2="628.1" y2="248.78" stroke-opacity="0.085"/>
<line x1="403.7" y1="89.29" x2="628.1" y2="229.52" stroke-opacity="0.085"/>
<line x1="403.7" y1="63.57" x2="628.1" y2="241.95" stroke-opacity="0.085"/>
<line x1="403.7" y1="92.09" x2="628.1" y2="229.25" stroke-opacity="0.085"/>
<line x1="403.7" y1="92.86" x2="628.1" y2="255.71" stroke-opacity="0.085"/>
<line x1="403.7" y1="96.36" x2="628.1" y2="221.95" stroke-opacity="0.085"/>
<line x1="403.7" y1="61.68" x2="628.1" y2="256.71" stroke-opacity="0.085"/>
<line x1="403.7" y1="75.60" x2="628.1" y2="254.86" stroke-opacity="0.085"/>
<line x1="403.7" y1="86.65" x2="628.1" y2="222.59" stroke-opacity="0.085"/>
<line x1="403.7" y1="85.29" x2="628.1" y2="238.60" stroke-opacity="0.085"/>
<line x1="403.7" y1="67.98" x2="628.1" y2="232.84" stroke-opacity="0.085"/>
<line x1="403.7" y1="75.08" x2="628.1" y2="240.58" stroke-opacity="0.085"/>
<line x1="403.7" y1="67.94" x2="628.1" y2="264.48" stroke-opacity="0.085"/>
<line x1="403.7" y1="87.05" x2="628.1" y2="237.65" stroke-opacity="0.085"/>
<line x1="403.7" y1="94.37" x2="628.1" y2="236.48" stroke-opacity="0.085"/>
<line x1="403.7" y1="64.98" x2="628.1" y2="259.20" stroke-opacity="0.085"/>
<line x1="403.7" y1="69.48" x2="628.1" y2="246.61" stroke-opacity="0.085"/>
<line x1="403.7" y1="82.01" x2="628.1" y2="251.20" stroke-opacity="0.085"/>
<line x1="403.7" y1="82.24" x2="628.1" y2="239.49" stroke-opacity="0.085"/>
<line x1="403.7" y1="63.18" x2="628.1" y2="264.79" stroke-opacity="0.085"/>
<line x1="403.7" y1="91.62" x2="628.1" y2="241.81" stroke-opacity="0.085"/>
<line x1="403.7" y1="76.82" x2="628.1" y2="272.54" stroke-opacity="0.085"/>
<line x1="403.7" y1="85.77" x2="628.1" y2="253.14" stroke-opacity="0.085"/>
<line x1="403.7" y1="65.97" x2="628.1" y2="269.46" stroke-opacity="0.085"/>
<line x1="403.7" y1="73.93" x2="628.1" y2="238.98" stroke-opacity="0.085"/>
<line x1="403.7" y1="87.42" x2="628.1" y2="233.72" stroke-opacity="0.085"/>
<line x1="403.7" y1="66.19" x2="628.1" y2="254.37" stroke-opacity="0.085"/>
<line x1="403.7" y1="61.44" x2="628.1" y2="263.70" stroke-opacity="0.085"/>
<line x1="403.7" y1="85.50" x2="628.1" y2="222.24" stroke-opacity="0.085"/>
<line x1="403.7" y1="69.03" x2="628.1" y2="239.29" stroke-opacity="0.085"/>
<line x1="403.7" y1="58.15" x2="628.1" y2="233.58" stroke-opacity="0.085"/>
<line x1="403.7" y1="78.14" x2="628.1" y2="257.26" stroke-opacity="0.085"/>
<line x1="403.7" y1="87.67" x2="628.1" y2="230.53" stroke-opacity="0.085"/>
<line x1="403.7" y1="63.86" x2="628.1" y2="261.21" stroke-opacity="0.085"/>
<line x1="403.7" y1="89.58" x2="628.1" y2="232.25" stroke-opacity="0.085"/>
<line x1="403.7" y1="71.94" x2="628.1" y2="246.24" stroke-opacity="0.085"/>
<line x1="403.7" y1="105.97" x2="628.1" y2="228.78" stroke-opacity="0.085"/>
<line x1="403.7" y1="72.72" x2="628.1" y2="245.26" stroke-opacity="0.085"/>
<line x1="403.7" y1="69.61" x2="628.1" y2="257.41" stroke-opacity="0.085"/>
<line x1="403.7" y1="75.53" x2="628.1" y2="275.24" stroke-opacity="0.085"/>
<line x1="403.7" y1="54.58" x2="628.1" y2="262.21" stroke-opacity="0.085"/>
<line x1="403.7" y1="76.72" x2="628.1" y2="246.47" stroke-opacity="0.085"/>
<line x1="403.7" y1="88.68" x2="628.1" y2="229.03" stroke-opacity="0.085"/>
<line x1="403.7" y1="72.83" x2="628.1" y2="254.66" stroke-opacity="0.085"/>
<line x1="403.7" y1="102.13" x2="628.1" y2="243.25" stroke-opacity="0.085"/>
<line x1="403.7" y1="55.36" x2="628.1" y2="258.19" stroke-opacity="0.085"/>
<line x1="403.7" y1="70.67" x2="628.1" y2="247.03" stroke-opacity="0.085"/>
<line x1="403.7" y1="84.70" x2="628.1" y2="231.54" stroke-opacity="0.085"/>
<line x1="403.7" y1="99.32" x2="628.1" y2="233.44" stroke-opacity="0.085"/>
<line x1="403.7" y1="80.55" x2="628.1" y2="271.19" stroke-opacity="0.085"/>
<line x1="403.7" y1="62.93" x2="628.1" y2="274.58" stroke-opacity="0.085"/>
<line x1="403.7" y1="88.97" x2="628.1" y2="242.24" stroke-opacity="0.085"/>
<line x1="403.7" y1="78.91" x2="628.1" y2="263.50" stroke-opacity="0.085"/>
<line x1="403.7" y1="76.94" x2="628.1" y2="233.23" stroke-opacity="0.085"/>
<line x1="403.7" y1="67.36" x2="628.1" y2="245.48" stroke-opacity="0.085"/>
<line x1="403.7" y1="78.23" x2="628.1" y2="265.58" stroke-opacity="0.085"/>
<line x1="403.7" y1="60.12" x2="628.1" y2="243.51" stroke-opacity="0.085"/>
<line x1="403.7" y1="87.37" x2="628.1" y2="232.72" stroke-opacity="0.085"/>
<line x1="403.7" y1="59.41" x2="628.1" y2="270.62" stroke-opacity="0.085"/>
<line x1="403.7" y1="101.95" x2="628.1" y2="227.02" stroke-opacity="0.085"/>
<line x1="403.7" y1="81.82" x2="628.1" y2="237.37" stroke-opacity="0.085"/>
<line x1="403.7" y1="94.67" x2="628.1" y2="246.86" stroke-opacity="0.085"/>
<line x1="403.7" y1="84.91" x2="628.1" y2="254.65" stroke-opacity="0.085"/>
<line x1="403.7" y1="105.68" x2="628.1" y2="234.26" stroke-opacity="0.085"/>
<line x1="403.7" y1="79.77" x2="628.1" y2="243.90" stroke-opacity="0.085"/>
<line x1="403.7" y1="64.65" x2="628.1" y2="242.08" stroke-opacity="0.085"/>
<line x1="403.7" y1="80.74" x2="628.1" y2="238.00" stroke-opacity="0.085"/>
<line x1="403.7" y1="45.55" x2="628.1" y2="279.89" stroke-opacity="0.085"/>
<line x1="403.7" y1="75.26" x2="628.1" y2="244.40" stroke-opacity="0.085"/>
<line x1="403.7" y1="59.27" x2="628.1" y2="241.85" stroke-opacity="0.085"/>
<line x1="403.7" y1="87.90" x2="628.1" y2="251.89" stroke-opacity="0.085"/>
<line x1="403.7" y1="80.96" x2="628.1" y2="254.53" stroke-opacity="0.085"/>
<line x1="403.7" y1="67.98" x2="628.1" y2="256.09" stroke-opacity="0.085"/>
<line x1="403.7" y1="65.60" x2="628.1" y2="240.30" stroke-opacity="0.085"/>
<line x1="403.7" y1="92.67" x2="628.1" y2="227.28" stroke-opacity="0.085"/>
<line x1="403.7" y1="71.72" x2="628.1" y2="253.67" stroke-opacity="0.085"/>
<line x1="403.7" y1="88.34" x2="628.1" y2="247.40" stroke-opacity="0.085"/>
<line x1="403.7" y1="53.77" x2="628.1" y2="270.33" stroke-opacity="0.085"/>
<line x1="403.7" y1="60.25" x2="628.1" y2="241.93" stroke-opacity="0.085"/>
<line x1="403.7" y1="83.88" x2="628.1" y2="213.92" stroke-opacity="0.085"/>
<line x1="403.7" y1="87.57" x2="628.1" y2="242.37" stroke-opacity="0.085"/>
<line x1="403.7" y1="82.34" x2="628.1" y2="245.46" stroke-opacity="0.085"/>
<line x1="403.7" y1="77.48" x2="628.1" y2="235.45" stroke-opacity="0.085"/>
<line x1="403.7" y1="67.54" x2="628.1" y2="249.91" stroke-opacity="0.085"/>
<line x1="403.7" y1="80.22" x2="628.1" y2="231.63" stroke-opacity="0.085"/>
<line x1="403.7" y1="74.79" x2="628.1" y2="253.67" stroke-opacity="0.085"/>
<line x1="403.7" y1="77.41" x2="628.1" y2="249.11" stroke-opacity="0.085"/>
<line x1="403.7" y1="69.18" x2="628.1" y2="266.18" stroke-opacity="0.085"/>
<line x1="403.7" y1="80.76" x2="628.1" y2="259.34" stroke-opacity="0.085"/>
<line x1="403.7" y1="87.20" x2="628.1" y2="257.20" stroke-opacity="0.085"/>
<line x1="403.7" y1="73.53" x2="628.1" y2="243.88" stroke-opacity="0.085"/>
<line x1="403.7" y1="57.05" x2="628.1" y2="270.98" stroke-opacity="0.085"/>
<line x1="403.7" y1="66.45" x2="628.1" y2="248.20" stroke-opacity="0.085"/>
<line x1="403.7" y1="81.06" x2="628.1" y2="253.50" stroke-opacity="0.085"/>
<line x1="403.7" y1="84.27" x2="628.1" y2="247.57" stroke-opacity="0.085"/>
<line x1="403.7" y1="71.33" x2="628.1" y2="264.66" stroke-opacity="0.085"/>
<line x1="403.7" y1="50.14" x2="628.1" y2="287.98" stroke-opacity="0.085"/>
<line x1="403.7" y1="76.30" x2="628.1" y2="244.10" stroke-opacity="0.085"/>
<line x1="403.7" y1="61.40" x2="628.1" y2="276.63" stroke-opacity="0.085"/>
<line x1="403.7" y1="44.56" x2="628.1" y2="272.80" stroke-opacity="0.085"/>
<line x1="403.7" y1="81.39" x2="628.1" y2="253.16" stroke-opacity="0.085"/>
<line x1="403.7" y1="89.94" x2="628.1" y2="237.89" stroke-opacity="0.085"/>
<line x1="403.7" y1="82.87" x2="628.1" y2="244.09" stroke-opacity="0.085"/>
<line x1="403.7" y1="75.83" x2="628.1" y2="254.01" stroke-opacity="0.085"/>
<line x1="403.7" y1="71.39" x2="628.1" y2="251.00" stroke-opacity="0.085"/>
<line x1="403.7" y1="39.95" x2="628.1" y2="253.89" stroke-opacity="0.085"/>
<line x1="403.7" y1="92.82" x2="628.1" y2="254.09" stroke-opacity="0.085"/>
<line x1="403.7" y1="94.04" x2="628.1" y2="227.10" stroke-opacity="0.085"/>
<line x1="403.7" y1="71.19" x2="628.1" y2="247.55" stroke-opacity="0.085"/>
<line x1="403.7" y1="75.05" x2="628.1" y2="261.88" stroke-opacity="0.085"/>
<line x1="403.7" y1="69.59" x2="628.1" y2="254.47" stroke-opacity="0.085"/>
<line x1="403.7" y1="69.93" x2="628.1" y2="247.30" stroke-opacity="0.085"/>
<line x1="403.7" y1="80.13" x2="628.1" y2="284.16" stroke-opacity="0.085"/>
<line x1="403.7" y1="115.13" x2="628.1" y2="237.76" stroke-opacity="0.085"/>
<line x1="403.7" y1="80.01" x2="628.1" y2="251.24" stroke-opacity="0.085"/>
<line x1="403.7" y1="77.50" x2="628.1" y2="241.00" stroke-opacity="0.085"/>
<line x1="403.7" y1="96.17" x2="628.1" y2="259.40" stroke-opacity="0.085"/>
<line x1="403.7" y1="75.14" x2="628.1" y2="233.24" stroke-opacity="0.085"/>
<line x1="403.7" y1="62.10" x2="628.1" y2="255.59" stroke-opacity="0.085"/>
<line x1="403.7" y1="81.89" x2="628.1" y2="230.92" stroke-opacity="0.085"/>
<line x1="403.7" y1="57.98" x2="628.1" y2="268.28" stroke-opacity="0.085"/>
<line x1="403.7" y1="86.73" x2="628.1" y2="245.11" stroke-opacity="0.085"/>
<line x1="403.7" y1="101.41" x2="628.1" y2="243.77" stroke-opacity="0.085"/>
<line x1="403.7" y1="78.61" x2="628.1" y2="253.89" stroke-opacity="0.085"/>
<line x1="403.7" y1="62.91" x2="628.1" y2="259.41" stroke-opacity="0.085"/>
<line x1="403.7" y1="61.65" x2="628.1" y2="240.16" stroke-opacity="0.085"/>
<line x1="403.7" y1="87.08" x2="628.1" y2="240.70" stroke-opacity="0.085"/>
<line x1="403.7" y1="76.24" x2="628.1" y2="224.09" stroke-opacity="0.085"/>
<line x1="403.7" y1="59.57" x2="628.1" y2="264.69" stroke-opacity="0.085"/>
<line x1="403.7" y1="67.53" x2="628.1" y2="251.75" stroke-opacity="0.085"/>
<line x1="403.7" y1="52.26" x2="628.1" y2="263.41" stroke-opacity="0.085"/>
<line x1="403.7" y1="89.19" x2="628.1" y2="232.48" stroke-opacity="0.085"/>
<line x1="403.7" y1="91.92" x2="628.1" y2="268.62" stroke-opacity="0.085"/>
<line x1="403.7" y1="90.87" x2="628.1" y2="235.66" stroke-opacity="0.085"/>
<line x1="403.7" y1="67.86" x2="628.1" y2="260.78" stroke-opacity="0.085"/>
<line x1="403.7" y1="63.10" x2="628.1" y2="271.34" stroke-opacity="0.085"/>
<line x1="403.7" y1="77.84" x2="628.1" y2="253.12" stroke-opacity="0.085"/>
<line x1="403.7" y1="93.25" x2="628.1" y2="246.50" stroke-opacity="0.085"/>
<line x1="403.7" y1="78.68" x2="628.1" y2="243.20" stroke-opacity="0.085"/>
<line x1="403.7" y1="66.81" x2="628.1" y2="256.56" stroke-opacity="0.085"/>
<line x1="403.7" y1="79.65" x2="628.1" y2="258.18" stroke-opacity="0.085"/>
<line x1="403.7" y1="62.31" x2="628.1" y2="251.20" stroke-opacity="0.085"/>
<line x1="403.7" y1="78.05" x2="628.1" y2="246.49" stroke-opacity="0.085"/>
<line x1="403.7" y1="82.75" x2="628.1" y2="238.89" stroke-opacity="0.085"/>
<line x1="403.7" y1="89.50" x2="628.1" y2="248.30" stroke-opacity="0.085"/>
<line x1="403.7" y1="69.72" x2="628.1" y2="249.25" stroke-opacity="0.085"/>
<line x1="403.7" y1="68.47" x2="628.1" y2="251.94" stroke-opacity="0.085"/>
<line x1="403.7" y1="90.69" x2="628.1" y2="260.86" stroke-opacity="0.085"/>
<line x1="403.7" y1="52.23" x2="628.1" y2="256.25" stroke-opacity="0.085"/>
<line x1="403.7" y1="73.68" x2="628.1" y2="232.59" stroke-opacity="0.085"/>
<line x1="403.7" y1="94.77" x2="628.1" y2="250.17" stroke-opacity="0.085"/>
<line x1="403.7" y1="93.53" x2="628.1" y2="225.24" stroke-opacity="0.085"/>
<line x1="403.7" y1="94.24" x2="628.1" y2="237.19" stroke-opacity="0.085"/>
<line x1="403.7" y1="60.05" x2="628.1" y2="244.77" stroke-opacity="0.085"/>
<line x1="403.7" y1="101.56" x2="628.1" y2="238.95" stroke-opacity="0.085"/>
<line x1="403.7" y1="59.70" x2="628.1" y2="274.49" stroke-opacity="0.085"/>
<line x1="403.7" y1="101.21" x2="628.1" y2="228.69" stroke-opacity="0.085"/>
<line x1="403.7" y1="74.75" x2="628.1" y2="249.64" stroke-opacity="0.085"/>
<line x1="403.7" y1="65.55" x2="628.1" y2="287.89" stroke-opacity="0.085"/>
<line x1="403.7" y1="75.63" x2="628.1" y2="269.55" stroke-opacity="0.085"/>
<line x1="403.7" y1="70.76" x2="628.1" y2="240.06" stroke-opacity="0.085"/>
<line x1="403.7" y1="77.20" x2="628.1" y2="247.23" stroke-opacity="0.085"/>
<line x1="403.7" y1="42.88" x2="628.1" y2="289.43" stroke-opacity="0.085"/>
<line x1="403.7" y1="77.90" x2="628.1" y2="241.42" stroke-opacity="0.085"/>
<line x1="403.7" y1="91.36" x2="628.1" y2="247.44" stroke-opacity="0.085"/>
<line x1="403.7" y1="74.23" x2="628.1" y2="229.36" stroke-opacity="0.085"/>
<line x1="403.7" y1="63.09" x2="628.1" y2="248.48" stroke-opacity="0.085"/>
<line x1="403.7" y1="68.92" x2="628.1" y2="251.04" stroke-opacity="0.085"/>
<line x1="403.7" y1="60.03" x2="628.1" y2="247.29" stroke-opacity="0.085"/>
<line x1="403.7" y1="68.35" x2="628.1" y2="239.00" stroke-opacity="0.085"/>
<line x1="403.7" y1="84.24" x2="628.1" y2="265.04" stroke-opacity="0.085"/>
<line x1="403.7" y1="80.98" x2="628.1" y2="258.47" stroke-opacity="0.085"/>
<line x1="403.7" y1="73.74" x2="628.1" y2="247.90" stroke-opacity="0.085"/>
<line x1="403.7" y1="54.62" x2="628.1" y2="263.69" stroke-opacity="0.085"/>
<line x1="403.7" y1="75.92" x2="628.1" y2="251.95" stroke-opacity="0.085"/>
<line x1="403.7" y1="70.72" x2="628.1" y2="252.96" stroke-opacity="0.085"/>
<line x1="403.7" y1="78.28" x2="628.1" y2="270.60" stroke-opacity="0.085"/>
<line x1="403.7" y1="70.33" x2="628.1" y2="234.51" stroke-opacity="0.085"/>
<line x1="403.7" y1="82.79" x2="628.1" y2="259.29" stroke-opacity="0.085"/>
<line x1="403.7" y1="62.96" x2="628.1" y2="262.48" stroke-opacity="0.085"/>
<line x1="403.7" y1="87.06" x2="628.1" y2="251.73" stroke-opacity="0.085"/>
<line x1="403.7" y1="52.74" x2="628.1" y2="259.90" stroke-opacity="0.085"/>
<line x1="403.7" y1="73.98" x2="628.1" y2="252.89" stroke-opacity="0.085"/>
<line x1="403.7" y1="65.57" x2="628.1" y2="276.55" stroke-opacity="0.085"/>
<line x1="403.7" y1="69.94" x2="628.1" y2="248.86" stroke-opacity="0.085"/>
<line x1="403.7" y1="98.29" x2="628.1" y2="251.94" stroke-opacity="0.085"/>
<line x1="403.7" y1="79.55" x2="628.1" y2="269.11" stroke-opacity="0.085"/>
<line x1="403.7" y1="82.95" x2="628.1" y2="235.56" stroke-opacity="0.085"/>
<line x1="403.7" y1="83.69" x2="628.1" y2="242.61" stroke-opacity="0.085"/>
<line x1="403.7" y1="67.86" x2="628.1" y2="251.56" stroke-opacity="0.085"/>
<line x1="403.7" y1="91.24" x2="628.1" y2="218.16" stroke-opacity="0.085"/>
<line x1="403.7" y1="85.54" x2="628.1" y2="251.45" stroke-opacity="0.085"/>
<line x1="403.7" y1="59.52" x2="628.1" y2="259.93" stroke-opacity="0.085"/>
<line x1="403.7" y1="85.16" x2="628.1" y2="252.10" stroke-opacity="0.085"/>
<line x1="403.7" y1="54.91" x2="628.1" y2="246.39" stroke-opacity="0.085"/>
<line x1="403.7" y1="85.64" x2="628.1" y2="271.37" stroke-opacity="0.085"/>
<line x1="403.7" y1="87.96" x2="628.1" y2="251.26" stroke-opacity="0.085"/>
<line x1="403.7" y1="99.91" x2="628.1" y2="220.85" stroke-opacity="0.085"/>
<line x1="403.7" y1="63.87" x2="628.1" y2="261.44" stroke-opacity="0.085"/>
<line x1="403.7" y1="79.75" x2="628.1" y2="245.04" stroke-opacity="0.085"/>
<line x1="403.7" y1="69.74" x2="628.1" y2="246.22" stroke-opacity="0.085"/>
<line x1="403.7" y1="90.13" x2="628.1" y2="257.54" stroke-opacity="0.085"/>
<line x1="403.7" y1="83.02" x2="628.1" y2="235.93" stroke-opacity="0.085"/>
<line x1="403.7" y1="70.50" x2="628.1" y2="266.88" stroke-opacity="0.085"/>
<line x1="403.7" y1="70.33" x2="628.1" y2="251.49" stroke-opacity="0.085"/>
<line x1="403.7" y1="89.74" x2="628.1" y2="250.44" stroke-opacity="0.085"/>
<line x1="403.7" y1="77.72" x2="628.1" y2="241.10" stroke-opacity="0.085"/>
<line x1="403.7" y1="75.78" x2="628.1" y2="245.16" stroke-opacity="0.085"/>
<line x1="403.7" y1="82.28" x2="628.1" y2="222.94" stroke-opacity="0.085"/>
<line x1="403.7" y1="92.91" x2="628.1" y2="236.90" stroke-opacity="0.085"/>
<line x1="403.7" y1="60.39" x2="628.1" y2="253.30" stroke-opacity="0.085"/>
<line x1="403.7" y1="70.24" x2="628.1" y2="261.84" stroke-opacity="0.085"/>
<line x1="403.7" y1="86.36" x2="628.1" y2="251.27" stroke-opacity="0.085"/>
<line x1="403.7" y1="90.93" x2="628.1" y2="237.64" stroke-opacity="0.085"/>
<line x1="403.7" y1="80.61" x2="628.1" y2="248.41" stroke-opacity="0.085"/>
<line x1="403.7" y1="83.44" x2="628.1" y2="243.32" stroke-opacity="0.085"/>
<line x1="403.7" y1="55.70" x2="628.1" y2="276.92" stroke-opacity="0.085"/>
<line x1="403.7" y1="62.88" x2="628.1" y2="251.53" stroke-opacity="0.085"/>
<line x1="403.7" y1="83.81" x2="628.1" y2="243.27" stroke-opacity="0.085"/>
<line x1="403.7" y1="60.29" x2="628.1" y2="269.49" stroke-opacity="0.085"/>
<line x1="403.7" y1="82.78" x2="628.1" y2="238.50" stroke-opacity="0.085"/>
<line x1="403.7" y1="108.15" x2="628.1" y2="237.28" stroke-opacity="0.085"/>
<line x1="403.7" y1="98.21" x2="628.1" y2="236.13" stroke-opacity="0.085"/>
<line x1="403.7" y1="57.47" x2="628.1" y2="262.55" stroke-opacity="0.085"/>
<line x1="403.7" y1="77.41" x2="628.1" y2="238.75" stroke-opacity="0.085"/>
<line x1="403.7" y1="72.59" x2="628.1" y2="262.99" stroke-opacity="0.085"/>
<line x1="403.7" y1="83.99" x2="628.1" y2="234.89" stroke-opacity="0.085"/>
<line x1="403.7" y1="73.94" x2="628.1" y2="258.05" stroke-opacity="0.085"/>
<line x1="403.7" y1="89.01" x2="628.1" y2="248.52" stroke-opacity="0.085"/>
<line x1="403.7" y1="70.92" x2="628.1" y2="262.02" stroke-opacity="0.085"/>
<line x1="403.7" y1="66.90" x2="628.1" y2="241.53" stroke-opacity="0.085"/>
<line x1="403.7" y1="75.94" x2="628.1" y2="245.72" stroke-opacity="0.085"/>
<line x1="403.7" y1="96.04" x2="628.1" y2="269.65" stroke-opacity="0.085"/>
<line x1="403.7" y1="80.47" x2="628.1" y2="251.63" stroke-opacity="0.085"/>
<line x1="403.7" y1="67.76" x2="628.1" y2="247.73" stroke-opacity="0.085"/>
<line x1="403.7" y1="73.73" x2="628.1" y2="258.65" stroke-opacity="0.085"/>
<line x1="403.7" y1="54.66" x2="628.1" y2="251.32" stroke-opacity="0.085"/>
<line x1="403.7" y1="82.51" x2="628.1" y2="237.50" stroke-opacity="0.085"/>
<line x1="403.7" y1="80.32" x2="628.1" y2="258.55" stroke-opacity="0.085"/>
<line x1="403.7" y1="112.61" x2="628.1" y2="246.75" stroke-opacity="0.085"/>
<line x1="403.7" y1="63.63" x2="628.1" y2="264.53" stroke-opacity="0.085"/>
<line x1="403.7" y1="77.18" x2="628.1" y2="262.80" stroke-opacity="0.085"/>
<line x1="403.7" y1="73.79" x2="628.1" y2="251.64" stroke-opacity="0.085"/>
<line x1="403.7" y1="66.36" x2="628.1" y2="272.06" stroke-opacity="0.085"/>
<line x1="403.7" y1="76.35" x2="628.1" y2="248.18" stroke-opacity="0.085"/>
<line x1="403.7" y1="100.65" x2="628.1" y2="228.50" stroke-opacity="0.085"/>
<line x1="403.7" y1="86.40" x2="628.1" y2="261.98" stroke-opacity="0.085"/>
<line x1="403.7" y1="60.25" x2="628.1" y2="266.28" stroke-opacity="0.085"/>
<line x1="403.7" y1="67.87" x2="628.1" y2="253.68" stroke-opacity="0.085"/>
<line x1="403.7" y1="61.32" x2="628.1" y2="249.74" stroke-opacity="0.085"/>
<line x1="403.7" y1="70.12" x2="628.1" y2="251.50" stroke-opacity="0.085"/>
<line x1="403.7" y1="61.23" x2="628.1" y2="253.10" stroke-opacity="0.085"/>
<line x1="403.7" y1="73.73" x2="628.1" y2="252.00" stroke-opacity="0.085"/>
<line x1="403.7" y1="71.14" x2="628.1" y2="260.58" stroke-opacity="0.085"/>
<line x1="403.7" y1="67.16" x2="628.1" y2="255.76" stroke-opacity="0.085"/>
<line x1="403.7" y1="106.58" x2="628.1" y2="232.03" stroke-opacity="0.085"/>
<line x1="403.7" y1="81.25" x2="628.1" y2="248.03" stroke-opacity="0.085"/>
<line x1="403.7" y1="66.48" x2="628.1" y2="291.36" stroke-opacity="0.085"/>
<line x1="403.7" y1="76.19" x2="628.1" y2="253.69" stroke-opacity="0.085"/>
<line x1="403.7" y1="81.85" x2="628.1" y2="235.14" stroke-opacity="0.085"/>
<line x1="403.7" y1="73.00" x2="628.1" y2="245.33" stroke-opacity="0.085"/>
<line x1="403.7" y1="91.45" x2="628.1" y2="213.77" stroke-opacity="0.085"/>
<line x1="403.7" y1="78.92" x2="628.1" y2="257.17" stroke-opacity="0.085"/>
<line x1="403.7" y1="67.71" x2="628.1" y2="249.15" stroke-opacity="0.085"/>
<line x1="403.7" y1="63.76" x2="628.1" y2="258.79" stroke-opacity="0.085"/>
<line x1="403.7" y1="66.38" x2="628.1" y2="256.68" stroke-opacity="0.085"/>
<line x1="403.7" y1="90.47" x2="628.1" y2="244.55" stroke-opacity="0.085"/>
<line x1="403.7" y1="69.67" x2="628.1" y2="263.57" stroke-opacity="0.085"/>
<line x1="403.7" y1="81.37" x2="628.1" y2="245.41" stroke-opacity="0.085"/>
<line x1="403.7" y1="95.65" x2="628.1" y2="221.60" stroke-opacity="0.085"/>
<line x1="403.7" y1="82.32" x2="628.1" y2="227.54" stroke-opacity="0.085"/>
<line x1="403.7" y1="61.90" x2="628.1" y2="248.78" stroke-opacity="0.085"/>
<line x1="403.7" y1="57.87" x2="628.1" y2="256.37" stroke-opacity="0.085"/>
<line x1="403.7" y1="52.54" x2="628.1" y2="279.58" stroke-opacity="0.085"/>
<line x1="403.7" y1="83.50" x2="628.1" y2="242.19" stroke-opacity="0.085"/>
<line x1="403.7" y1="83.19" x2="628.1" y2="238.32" stroke-opacity="0.085"/>
<line x1="403.7" y1="82.52" x2="628.1" y2="250.36" stroke-opacity="0.085"/>
<line x1="403.7" y1="67.28" x2="628.1" y2="272.38" stroke-opacity="0.085"/>
<line x1="403.7" y1="58.52" x2="628.1" y2="270.08" stroke-opacity="0.085"/>
<line x1="403.7" y1="83.12" x2="628.1" y2="223.09" stroke-opacity="0.085"/>
<line x1="403.7" y1="102.82" x2="628.1" y2="219.67" stroke-opacity="0.085"/>
<line x1="403.7" y1="86.24" x2="628.1" y2="245.52" stroke-opacity="0.085"/>
<line x1="403.7" y1="82.66" x2="628.1" y2="239.43" stroke-opacity="0.085"/>
<line x1="403.7" y1="101.10" x2="628.1" y2="236.62" stroke-opacity="0.085"/>
<line x1="403.7" y1="67.95" x2="628.1" y2="266.88" stroke-opacity="0.085"/>
<line x1="403.7" y1="65.94" x2="628.1" y2="264.87" stroke-opacity="0.085"/>
<line x1="403.7" y1="79.94" x2="628.1" y2="268.56" stroke-opacity="0.085"/>
<line x1="403.7" y1="79.86" x2="628.1" y2="261.80" stroke-opacity="0.085"/>
<line x1="403.7" y1="65.60" x2="628.1" y2="246.20" stroke-opacity="0.085"/>
<line x1="403.7" y1="63.50" x2="628.1" y2="248.77" stroke-opacity="0.085"/>
<line x1="403.7" y1="82.22" x2="628.1" y2="246.51" stroke-opacity="0.085"/>
<line x1="403.7" y1="80.94" x2="628.1" y2="262.68" stroke-opacity="0.085"/>
<line x1="403.7" y1="86.21" x2="628.1" y2="239.91" stroke-opacity="0.085"/>
<line x1="403.7" y1="80.86" x2="628.1" y2="247.46" stroke-opacity="0.085"/>
<line x1="403.7" y1="80.56" x2="628.1" y2="247.51" stroke-opacity="0.085"/>
<line x1="403.7" y1="85.61" x2="628.1" y2="243.80" stroke-opacity="0.085"/>
<line x1="403.7" y1="79.59" x2="628.1" y2="252.01" stroke-opacity="0.085"/>
<line x1="403.7" y1="68.21" x2="628.1" y2="265.19" stroke-opacity="0.085"/>
<line x1="403.7" y1="103.40" x2="628.1" y2="230.00" stroke-opacity="0.085"/>
<line x1="403.7" y1="71.99" x2="628.1" y2="238.97" stroke-opacity="0.085"/>
<line x1="403.7" y1="78.23" x2="628.1" y2="249.34" stroke-opacity="0.085"/>
<line x1="403.7" y1="73.63" x2="628.1" y2="257.57" stroke-opacity="0.085"/>
<line x1="403.7" y1="83.63" x2="628.1" y2="248.63" stroke-opacity="0.085"/>
<line x1="403.7" y1="97.75" x2="628.1" y2="261.01" stroke-opacity="0.085"/>
<line x1="403.7" y1="78.13" x2="628.1" y2="251.32" stroke-opacity="0.085"/>
<line x1="403.7" y1="66.75" x2="628.1" y2="254.41" stroke-opacity="0.085"/>
<line x1="403.7" y1="85.76" x2="628.1" y2="245.17" stroke-opacity="0.085"/>
<line x1="403.7" y1="86.50" x2="628.1" y2="255.69" stroke-opacity="0.085"/>
<line x1="403.7" y1="95.50" x2="628.1" y2="243.75" stroke-opacity="0.085"/>
<line x1="403.7" y1="73.25" x2="628.1" y2="256.77" stroke-opacity="0.085"/>
<line x1="403.7" y1="76.67" x2="628.1" y2="262.18" stroke-opacity="0.085"/>
<line x1="403.7" y1="61.97" x2="628.1" y2="263.88" stroke-opacity="0.085"/>
<line x1="403.7" y1="82.36" x2="628.1" y2="227.34" stroke-opacity="0.085"/>
<line x1="403.7" y1="81.11" x2="628.1" y2="261.89" stroke-opacity="0.085"/>
<line x1="403.7" y1="74.92" x2="628.1" y2="267.06" stroke-opacity="0.085"/>
<line x1="403.7" y1="89.99" x2="628.1" y2="246.08" stroke-opacity="0.085"/>
<line x1="403.7" y1="110.53" x2="628.1" y2="242.39" stroke-opacity="0.085"/>
<line x1="403.7" y1="76.95" x2="628.1" y2="249.94" stroke-opacity="0.085"/>
<line x1="403.7" y1="64.11" x2="628.1" y2="248.88" stroke-opacity="0.085"/>
<line x1="403.7" y1="56.78" x2="628.1" y2="261.33" stroke-opacity="0.085"/>
<line x1="403.7" y1="67.81" x2="628.1" y2="252.86" stroke-opacity="0.085"/>
<line x1="403.7" y1="62.19" x2="628.1" y2="268.87" stroke-opacity="0.085"/>
<line x1="403.7" y1="65.80" x2="628.1" y2="233.88" stroke-opacity="0.085"/>
<line x1="403.7" y1="69.96" x2="628.1" y2="247.61" stroke-opacity="0.085"/>
<line x1="403.7" y1="72.89" x2="628.1" y2="258.07" stroke-opacity="0.085"/>
<line x1="403.7" y1="68.13" x2="628.1" y2="273.86" stroke-opacity="0.085"/>
<line x1="403.7" y1="46.17" x2="628.1" y2="254.08" stroke-opacity="0.085"/>
<line x1="403.7" y1="85.40" x2="628.1" y2="231.01" stroke-opacity="0.085"/>
<line x1="403.7" y1="64.65" x2="628.1" y2="265.78" stroke-opacity="0.085"/>
<line x1="403.7" y1="81.55" x2="628.1" y2="243.50" stroke-opacity="0.085"/>
<line x1="403.7" y1="70.00" x2="628.1" y2="258.82" stroke-opacity="0.085"/>
<line x1="403.7" y1="86.79" x2="628.1" y2="240.37" stroke-opacity="0.085"/>
<line x1="403.7" y1="70.19" x2="628.1" y2="254.75" stroke-opacity="0.085"/>
<line x1="403.7" y1="70.38" x2="628.1" y2="245.01" stroke-opacity="0.085"/>
<line x1="403.7" y1="62.39" x2="628.1" y2="252.55" stroke-opacity="0.085"/>
<line x1="403.7" y1="96.16" x2="628.1" y2="243.97" stroke-opacity="0.085"/>
<line x1="403.7" y1="78.65" x2="628.1" y2="238.50" stroke-opacity="0.085"/>
<line x1="403.7" y1="58.46" x2="628.1" y2="271.08" stroke-opacity="0.085"/>
<line x1="403.7" y1="82.95" x2="628.1" y2="262.42" stroke-opacity="0.085"/>
<line x1="403.7" y1="105.57" x2="628.1" y2="237.96" stroke-opacity="0.085"/>
<line x1="403.7" y1="77.05" x2="628.1" y2="257.01" stroke-opacity="0.085"/>
<line x1="403.7" y1="87.70" x2="628.1" y2="271.74" stroke-opacity="0.085"/>
<line x1="403.7" y1="94.17" x2="628.1" y2="228.72" stroke-opacity="0.085"/>
<line x1="403.7" y1="65.39" x2="628.1" y2="260.61" stroke-opacity="0.085"/>
<line x1="403.7" y1="65.16" x2="628.1" y2="256.25" stroke-opacity="0.085"/>
<line x1="403.7" y1="89.28" x2="628.1" y2="246.42" stroke-opacity="0.085"/>
<line x1="403.7" y1="72.73" x2="628.1" y2="263.10" stroke-opacity="0.085"/>
<line x1="403.7" y1="61.13" x2="628.1" y2="252.99" stroke-opacity="0.085"/>
<line x1="403.7" y1="84.27" x2="628.1" y2="231.37" stroke-opacity="0.085"/>
<line x1="403.7" y1="78.40" x2="628.1" y2="252.99" stroke-opacity="0.085"/>
<line x1="403.7" y1="88.47" x2="628.1" y2="262.56" stroke-opacity="0.085"/>
<line x1="403.7" y1="63.81" x2="628.1" y2="273.70" stroke-opacity="0.085"/>
<line x1="403.7" y1="89.60" x2="628.1" y2="242.18" stroke-opacity="0.085"/>
<line x1="403.7" y1="63.28" x2="628.1" y2="282.98" stroke-opacity="0.085"/>
<line x1="403.7" y1="109.47" x2="628.1" y2="228.78" stroke-opacity="0.085"/>
<line x1="403.7" y1="73.87" x2="628.1" y2="237.66" stroke-opacity="0.085"/>
<line x1="403.7" y1="87.25" x2="628.1" y2="227.10" stroke-opacity="0.085"/>
<line x1="403.7" y1="85.68" x2="628.1" y2="245.04" stroke-opacity="0.085"/>
<line x1="403.7" y1="71.30" x2="628.1" y2="237.97" stroke-opacity="0.085"/>
<line x1="403.7" y1="59.61" x2="628.1" y2="248.58" stroke-opacity="0.085"/>
</g>
<g clip-path="url(#cr)"><line x1="400" y1="77.44" x2="640" y2="255.04" stroke="#000" stroke-width="1.4"/></g>
<g clip-path="url(#cr)">
<circle cx="470.9" cy="117.0" r="1.5" fill="#000"/>
<circle cx="475.3" cy="151.0" r="1.5" fill="#000"/>
<circle cx="485.9" cy="190.3" r="1.5" fill="#000"/>
<circle cx="523.7" cy="199.5" r="1.5" fill="#000"/>
<circle cx="521.5" cy="205.1" r="1.5" fill="#000"/>
<circle cx="537.2" cy="203.7" r="1.5" fill="#000"/>
<circle cx="544.2" cy="204.1" r="1.5" fill="#000"/>
<circle cx="548.3" cy="210.1" r="1.5" fill="#000"/>
<circle cx="550.3" cy="208.5" r="1.5" fill="#000"/>
<circle cx="537.2" cy="221.2" r="1.5" fill="#000"/>
<circle cx="572.4" cy="217.8" r="1.5" fill="#000"/>
<circle cx="581.5" cy="222.2" r="1.5" fill="#000"/>
<circle cx="578.5" cy="226.2" r="1.5" fill="#000"/>
<circle cx="591.5" cy="224.6" r="1.5" fill="#000"/>
<circle cx="593.5" cy="224.6" r="1.5" fill="#000"/>
<circle cx="589.5" cy="234.7" r="1.5" fill="#000"/>
<circle cx="595.6" cy="234.7" r="1.5" fill="#000"/>
<circle cx="556.7" cy="246.4" r="1.5" fill="#000"/>
<circle cx="564.4" cy="257.7" r="1.5" fill="#000"/>
<circle cx="598.5" cy="255.6" r="1.5" fill="#000"/>
<circle cx="618.7" cy="262.9" r="1.5" fill="#000"/>
<circle cx="567.0" cy="157.7" r="1.5" fill="#000"/>
<circle cx="618.6" cy="168.7" r="1.5" fill="#000"/>
<circle cx="585.8" cy="181.2" r="1.5" fill="#000"/>
<circle cx="548.9" cy="168.0" r="1.5" fill="#000"/>
<circle cx="544.2" cy="172.3" r="1.5" fill="#000"/>
<circle cx="605.1" cy="230.6" r="1.5" fill="#000"/>
<circle cx="623.7" cy="229.5" r="1.5" fill="#000"/>
<line x1="404.0" y1="29.2" x2="451.6" y2="29.2" stroke="#ff964f" stroke-width="1.1"/>
<line x1="404.0" y1="27.0" x2="404.0" y2="31.4" stroke="#ff964f" stroke-width="1.1"/>
<line x1="451.6" y1="27.0" x2="451.6" y2="31.4" stroke="#ff964f" stroke-width="1.1"/>
<line x1="438.1" y1="14.4" x2="438.1" y2="43.4" stroke="#ff964f" stroke-width="1.1"/>
<line x1="435.90000000000003" y1="14.4" x2="440.3" y2="14.4" stroke="#ff964f" stroke-width="1.1"/>
<line x1="435.90000000000003" y1="43.4" x2="440.3" y2="43.4" stroke="#ff964f" stroke-width="1.1"/>
<line x1="472.5" y1="99.7" x2="516.8" y2="99.7" stroke="#ffa356" stroke-width="1.1"/>
<line x1="472.5" y1="97.5" x2="472.5" y2="101.9" stroke="#ffa356" stroke-width="1.1"/>
<line x1="516.8" y1="97.5" x2="516.8" y2="101.9" stroke="#ffa356" stroke-width="1.1"/>
<line x1="495.0" y1="81.5" x2="495.0" y2="118.1" stroke="#ffa356" stroke-width="1.1"/>
<line x1="492.8" y1="81.5" x2="497.2" y2="81.5" stroke="#ffa356" stroke-width="1.1"/>
<line x1="492.8" y1="118.1" x2="497.2" y2="118.1" stroke="#ffa356" stroke-width="1.1"/>
<line x1="437.8" y1="101.5" x2="479.2" y2="101.5" stroke="#99fca6" stroke-width="1.1"/>
<line x1="437.8" y1="99.3" x2="437.8" y2="103.7" stroke="#99fca6" stroke-width="1.1"/>
<line x1="479.2" y1="99.3" x2="479.2" y2="103.7" stroke="#99fca6" stroke-width="1.1"/>
<line x1="455.5" y1="92.7" x2="455.5" y2="110.0" stroke="#99fca6" stroke-width="1.1"/>
<line x1="453.3" y1="92.7" x2="457.7" y2="92.7" stroke="#99fca6" stroke-width="1.1"/>
<line x1="453.3" y1="110.0" x2="457.7" y2="110.0" stroke="#99fca6" stroke-width="1.1"/>
<line x1="451.7" y1="111.0" x2="451.7" y2="129.6" stroke="#24d7df" stroke-width="1.1"/>
<line x1="449.5" y1="111.0" x2="453.9" y2="111.0" stroke="#24d7df" stroke-width="1.1"/>
<line x1="449.5" y1="129.6" x2="453.9" y2="129.6" stroke="#24d7df" stroke-width="1.1"/>
<line x1="457.2" y1="124.1" x2="510.5" y2="124.1" stroke="#38e7d7" stroke-width="1.1"/>
<line x1="457.2" y1="121.89999999999999" x2="457.2" y2="126.3" stroke="#38e7d7" stroke-width="1.1"/>
<line x1="510.5" y1="121.89999999999999" x2="510.5" y2="126.3" stroke="#38e7d7" stroke-width="1.1"/>
<line x1="477.9" y1="115.5" x2="477.9" y2="132.2" stroke="#38e7d7" stroke-width="1.1"/>
<line x1="475.7" y1="115.5" x2="480.09999999999997" y2="115.5" stroke="#38e7d7" stroke-width="1.1"/>
<line x1="475.7" y1="132.2" x2="480.09999999999997" y2="132.2" stroke="#38e7d7" stroke-width="1.1"/>
<line x1="470.0" y1="131.2" x2="500.0" y2="131.2" stroke="#bded8f" stroke-width="1.1"/>
<line x1="470.0" y1="129.0" x2="470.0" y2="133.39999999999998" stroke="#bded8f" stroke-width="1.1"/>
<line x1="500.0" y1="129.0" x2="500.0" y2="133.39999999999998" stroke="#bded8f" stroke-width="1.1"/>
<line x1="485.4" y1="122.0" x2="485.4" y2="140.0" stroke="#bded8f" stroke-width="1.1"/>
<line x1="483.2" y1="122.0" x2="487.59999999999997" y2="122.0" stroke="#bded8f" stroke-width="1.1"/>
<line x1="483.2" y1="140.0" x2="487.59999999999997" y2="140.0" stroke="#bded8f" stroke-width="1.1"/>
<line x1="460.0" y1="143.3" x2="490.0" y2="143.3" stroke="#57f7c9" stroke-width="1.1"/>
<line x1="460.0" y1="141.10000000000002" x2="460.0" y2="145.5" stroke="#57f7c9" stroke-width="1.1"/>
<line x1="490.0" y1="141.10000000000002" x2="490.0" y2="145.5" stroke="#57f7c9" stroke-width="1.1"/>
<line x1="474.7" y1="137.2" x2="474.7" y2="149.0" stroke="#57f7c9" stroke-width="1.1"/>
<line x1="472.5" y1="137.2" x2="476.9" y2="137.2" stroke="#57f7c9" stroke-width="1.1"/>
<line x1="472.5" y1="149.0" x2="476.9" y2="149.0" stroke="#57f7c9" stroke-width="1.1"/>
<line x1="453.7" y1="149.5" x2="546.0" y2="149.5" stroke="#24d7df" stroke-width="1.1"/>
<line x1="453.7" y1="147.3" x2="453.7" y2="151.7" stroke="#24d7df" stroke-width="1.1"/>
<line x1="546.0" y1="147.3" x2="546.0" y2="151.7" stroke="#24d7df" stroke-width="1.1"/>
<line x1="486.7" y1="134.0" x2="486.7" y2="164.6" stroke="#24d7df" stroke-width="1.1"/>
<line x1="484.5" y1="134.0" x2="488.9" y2="134.0" stroke="#24d7df" stroke-width="1.1"/>
<line x1="484.5" y1="164.6" x2="488.9" y2="164.6" stroke="#24d7df" stroke-width="1.1"/>
<line x1="476.2" y1="159.1" x2="544.7" y2="159.1" stroke="#ff964f" stroke-width="1.1"/>
<line x1="476.2" y1="156.9" x2="476.2" y2="161.29999999999998" stroke="#ff964f" stroke-width="1.1"/>
<line x1="544.7" y1="156.9" x2="544.7" y2="161.29999999999998" stroke="#ff964f" stroke-width="1.1"/>
<line x1="507.8" y1="141.0" x2="507.8" y2="177.2" stroke="#ff964f" stroke-width="1.1"/>
<line x1="505.6" y1="141.0" x2="510.0" y2="141.0" stroke="#ff964f" stroke-width="1.1"/>
<line x1="505.6" y1="177.2" x2="510.0" y2="177.2" stroke="#ff964f" stroke-width="1.1"/>
<line x1="471.0" y1="149.1" x2="550.5" y2="149.1" stroke="#ff5e30" stroke-width="1.1"/>
<line x1="471.0" y1="146.9" x2="471.0" y2="151.29999999999998" stroke="#ff5e30" stroke-width="1.1"/>
<line x1="550.5" y1="146.9" x2="550.5" y2="151.29999999999998" stroke="#ff5e30" stroke-width="1.1"/>
<line x1="510.9" y1="141.6" x2="510.9" y2="157.0" stroke="#ff5e30" stroke-width="1.1"/>
<line x1="508.7" y1="141.6" x2="513.1" y2="141.6" stroke="#ff5e30" stroke-width="1.1"/>
<line x1="508.7" y1="157.0" x2="513.1" y2="157.0" stroke="#ff5e30" stroke-width="1.1"/>
<line x1="445.0" y1="161.4" x2="542.3" y2="161.4" stroke="#19cee3" stroke-width="1.1"/>
<line x1="445.0" y1="159.20000000000002" x2="445.0" y2="163.6" stroke="#19cee3" stroke-width="1.1"/>
<line x1="542.3" y1="159.20000000000002" x2="542.3" y2="163.6" stroke="#19cee3" stroke-width="1.1"/>
<line x1="461.2" y1="153.7" x2="461.2" y2="169.2" stroke="#19cee3" stroke-width="1.1"/>
<line x1="459.0" y1="153.7" x2="463.4" y2="153.7" stroke="#19cee3" stroke-width="1.1"/>
<line x1="459.0" y1="169.2" x2="463.4" y2="169.2" stroke="#19cee3" stroke-width="1.1"/>
<line x1="470.2" y1="167.8" x2="552.9" y2="167.8" stroke="#66fcc2" stroke-width="1.1"/>
<line x1="470.2" y1="165.60000000000002" x2="470.2" y2="170.0" stroke="#66fcc2" stroke-width="1.1"/>
<line x1="552.9" y1="165.60000000000002" x2="552.9" y2="170.0" stroke="#66fcc2" stroke-width="1.1"/>
<line x1="513.9" y1="151.0" x2="513.9" y2="184.3" stroke="#66fcc2" stroke-width="1.1"/>
<line x1="511.7" y1="151.0" x2="516.1" y2="151.0" stroke="#66fcc2" stroke-width="1.1"/>
<line x1="511.7" y1="184.3" x2="516.1" y2="184.3" stroke="#66fcc2" stroke-width="1.1"/>
<line x1="478.3" y1="182.3" x2="523.0" y2="182.3" stroke="#00b4ec" stroke-width="1.1"/>
<line x1="478.3" y1="180.10000000000002" x2="478.3" y2="184.5" stroke="#00b4ec" stroke-width="1.1"/>
<line x1="523.0" y1="180.10000000000002" x2="523.0" y2="184.5" stroke="#00b4ec" stroke-width="1.1"/>
<line x1="500.8" y1="167.2" x2="500.8" y2="198.4" stroke="#00b4ec" stroke-width="1.1"/>
<line x1="498.6" y1="167.2" x2="503.0" y2="167.2" stroke="#00b4ec" stroke-width="1.1"/>
<line x1="498.6" y1="198.4" x2="503.0" y2="198.4" stroke="#00b4ec" stroke-width="1.1"/>
<line x1="536.2" y1="161.0" x2="536.2" y2="194.5" stroke="#ff3f20" stroke-width="1.1"/>
<line x1="534.0" y1="161.0" x2="538.4000000000001" y2="161.0" stroke="#ff3f20" stroke-width="1.1"/>
<line x1="534.0" y1="194.5" x2="538.4000000000001" y2="194.5" stroke="#ff3f20" stroke-width="1.1"/>
<line x1="510.0" y1="178.7" x2="548.0" y2="178.7" stroke="#d1df82" stroke-width="1.1"/>
<line x1="510.0" y1="176.5" x2="510.0" y2="180.89999999999998" stroke="#d1df82" stroke-width="1.1"/>
<line x1="548.0" y1="176.5" x2="548.0" y2="180.89999999999998" stroke="#d1df82" stroke-width="1.1"/>
<line x1="536.2" y1="168.1" x2="536.2" y2="190.0" stroke="#d1df82" stroke-width="1.1"/>
<line x1="534.0" y1="168.1" x2="538.4000000000001" y2="168.1" stroke="#d1df82" stroke-width="1.1"/>
<line x1="534.0" y1="190.0" x2="538.4000000000001" y2="190.0" stroke="#d1df82" stroke-width="1.1"/>
<line x1="490.0" y1="185.6" x2="581.8" y2="185.6" stroke="#cce385" stroke-width="1.1"/>
<line x1="490.0" y1="183.4" x2="490.0" y2="187.79999999999998" stroke="#cce385" stroke-width="1.1"/>
<line x1="581.8" y1="183.4" x2="581.8" y2="187.79999999999998" stroke="#cce385" stroke-width="1.1"/>
<line x1="529.8" y1="176.0" x2="529.8" y2="195.0" stroke="#cce385" stroke-width="1.1"/>
<line x1="527.5999999999999" y1="176.0" x2="532.0" y2="176.0" stroke="#cce385" stroke-width="1.1"/>
<line x1="527.5999999999999" y1="195.0" x2="532.0" y2="195.0" stroke="#cce385" stroke-width="1.1"/>
<line x1="479.2" y1="185.6" x2="570.0" y2="185.6" stroke="#66fcc2" stroke-width="1.1"/>
<line x1="479.2" y1="183.4" x2="479.2" y2="187.79999999999998" stroke="#66fcc2" stroke-width="1.1"/>
<line x1="570.0" y1="183.4" x2="570.0" y2="187.79999999999998" stroke="#66fcc2" stroke-width="1.1"/>
<line x1="525.8" y1="175.0" x2="525.8" y2="196.0" stroke="#66fcc2" stroke-width="1.1"/>
<line x1="523.5999999999999" y1="175.0" x2="528.0" y2="175.0" stroke="#66fcc2" stroke-width="1.1"/>
<line x1="523.5999999999999" y1="196.0" x2="528.0" y2="196.0" stroke="#66fcc2" stroke-width="1.1"/>
<line x1="502.0" y1="191.2" x2="583.4" y2="191.2" stroke="#80ffb4" stroke-width="1.1"/>
<line x1="502.0" y1="189.0" x2="502.0" y2="193.39999999999998" stroke="#80ffb4" stroke-width="1.1"/>
<line x1="583.4" y1="189.0" x2="583.4" y2="193.39999999999998" stroke="#80ffb4" stroke-width="1.1"/>
<line x1="539.3" y1="181.0" x2="539.3" y2="200.0" stroke="#80ffb4" stroke-width="1.1"/>
<line x1="537.0999999999999" y1="181.0" x2="541.5" y2="181.0" stroke="#80ffb4" stroke-width="1.1"/>
<line x1="537.0999999999999" y1="200.0" x2="541.5" y2="200.0" stroke="#80ffb4" stroke-width="1.1"/>
<line x1="570.5" y1="173.0" x2="570.5" y2="184.5" stroke="#ffb462" stroke-width="1.1"/>
<line x1="568.3" y1="173.0" x2="572.7" y2="173.0" stroke="#ffb462" stroke-width="1.1"/>
<line x1="568.3" y1="184.5" x2="572.7" y2="184.5" stroke="#ffb462" stroke-width="1.1"/>
<line x1="585.5" y1="199.0" x2="585.5" y2="210.0" stroke="#0aa9ef" stroke-width="1.1"/>
<line x1="583.3" y1="199.0" x2="587.7" y2="199.0" stroke="#0aa9ef" stroke-width="1.1"/>
<line x1="583.3" y1="210.0" x2="587.7" y2="210.0" stroke="#0aa9ef" stroke-width="1.1"/>
<line x1="510.0" y1="221.6" x2="640.0" y2="221.6" stroke="#a8f79c" stroke-width="1.1"/>
<line x1="510.0" y1="219.4" x2="510.0" y2="223.79999999999998" stroke="#a8f79c" stroke-width="1.1"/>
<line x1="640.0" y1="219.4" x2="640.0" y2="223.79999999999998" stroke="#a8f79c" stroke-width="1.1"/>
<line x1="565.0" y1="212.0" x2="565.0" y2="234.7" stroke="#a8f79c" stroke-width="1.1"/>
<line x1="562.8" y1="212.0" x2="567.2" y2="212.0" stroke="#a8f79c" stroke-width="1.1"/>
<line x1="562.8" y1="234.7" x2="567.2" y2="234.7" stroke="#a8f79c" stroke-width="1.1"/>
<line x1="541.5" y1="213.5" x2="604.5" y2="213.5" stroke="#7510ff" stroke-width="1.1"/>
<line x1="541.5" y1="211.3" x2="541.5" y2="215.7" stroke="#7510ff" stroke-width="1.1"/>
<line x1="604.5" y1="211.3" x2="604.5" y2="215.7" stroke="#7510ff" stroke-width="1.1"/>
<line x1="564.4" y1="199.3" x2="564.4" y2="227.0" stroke="#7510ff" stroke-width="1.1"/>
<line x1="562.1999999999999" y1="199.3" x2="566.6" y2="199.3" stroke="#7510ff" stroke-width="1.1"/>
<line x1="562.1999999999999" y1="227.0" x2="566.6" y2="227.0" stroke="#7510ff" stroke-width="1.1"/>

<circle cx="438.1" cy="29.2" r="3.75" fill="#ff964f" stroke="#111" stroke-width="0.9"/>
<circle cx="495.0" cy="99.7" r="3.75" fill="#ffa356" stroke="#111" stroke-width="0.9"/>
<circle cx="455.5" cy="101.5" r="3.75" fill="#99fca6" stroke="#111" stroke-width="0.9"/>
<rect x="447.95" y="116.35" width="7.5" height="7.5" fill="#24d7df" stroke="#111" stroke-width="0.9"/>
<circle cx="477.9" cy="124.1" r="3.75" fill="#38e7d7" stroke="#111" stroke-width="0.9"/>
<circle cx="485.4" cy="131.2" r="3.75" fill="#bded8f" stroke="#111" stroke-width="0.9"/>
<rect x="470.95" y="139.55" width="7.5" height="7.5" fill="#57f7c9" stroke="#111" stroke-width="0.9"/>
<circle cx="486.7" cy="149.5" r="3.75" fill="#24d7df" stroke="#111" stroke-width="0.9"/>
<circle cx="507.8" cy="159.1" r="3.75" fill="#ff964f" stroke="#111" stroke-width="0.9"/>
<circle cx="510.9" cy="149.1" r="3.75" fill="#ff5e30" stroke="#111" stroke-width="0.9"/>
<circle cx="461.2" cy="161.4" r="3.75" fill="#19cee3" stroke="#111" stroke-width="0.9"/>
<circle cx="513.9" cy="167.8" r="3.75" fill="#66fcc2" stroke="#111" stroke-width="0.9"/>
<rect x="497.05" y="178.55" width="7.5" height="7.5" fill="#00b4ec" stroke="#111" stroke-width="0.9"/>

<rect x="532.45" y="174.95" width="7.5" height="7.5" fill="#d1df82" stroke="#111" stroke-width="0.9"/>
<circle cx="529.8" cy="185.6" r="3.75" fill="#cce385" stroke="#111" stroke-width="0.9"/>
<circle cx="525.8" cy="185.6" r="3.75" fill="#66fcc2" stroke="#111" stroke-width="0.9"/>
<circle cx="539.3" cy="191.2" r="3.75" fill="#80ffb4" stroke="#111" stroke-width="0.9"/>
<rect x="566.75" y="175.05" width="7.5" height="7.5" fill="#ffb462" stroke="#111" stroke-width="0.9"/>
<rect x="581.75" y="200.75" width="7.5" height="7.5" fill="#0aa9ef" stroke="#111" stroke-width="0.9"/>
<circle cx="565.0" cy="221.6" r="3.75" fill="#a8f79c" stroke="#111" stroke-width="0.9"/>
<circle cx="564.4" cy="213.5" r="3.75" fill="#7510ff" stroke="#111" stroke-width="0.9"/>
<rect x="577.15" y="229.55" width="7.5" height="7.5" fill="#99fca6" stroke="#111" stroke-width="0.9"/>
</g>
<rect x="45.9" y="4.9" width="227.50" height="259.20" fill="none" stroke="#3a3a3a" stroke-width="1"/>
<rect x="403.7" y="4.9" width="224.40" height="259.20" fill="none" stroke="#3a3a3a" stroke-width="1"/>
<line x1="43.199999999999996" y1="218.50" x2="45.9" y2="218.50" stroke="#3a3a3a" stroke-width="1"/>
<line x1="43.199999999999996" y1="65.50" x2="45.9" y2="65.50" stroke="#3a3a3a" stroke-width="1"/>
<line x1="44.3" y1="252.44" x2="45.9" y2="252.44" stroke="#3a3a3a" stroke-width="0.8"/>
<line x1="44.3" y1="242.20" x2="45.9" y2="242.20" stroke="#3a3a3a" stroke-width="0.8"/>
<line x1="44.3" y1="233.33" x2="45.9" y2="233.33" stroke="#3a3a3a" stroke-width="0.8"/>
<line x1="44.3" y1="225.50" x2="45.9" y2="225.50" stroke="#3a3a3a" stroke-width="0.8"/>
<line x1="44.3" y1="172.44" x2="45.9" y2="172.44" stroke="#3a3a3a" stroke-width="0.8"/>
<line x1="44.3" y1="145.50" x2="45.9" y2="145.50" stroke="#3a3a3a" stroke-width="0.8"/>
<line x1="44.3" y1="126.38" x2="45.9" y2="126.38" stroke="#3a3a3a" stroke-width="0.8"/>
<line x1="44.3" y1="111.56" x2="45.9" y2="111.56" stroke="#3a3a3a" stroke-width="0.8"/>
<line x1="44.3" y1="99.44" x2="45.9" y2="99.44" stroke="#3a3a3a" stroke-width="0.8"/>
<line x1="44.3" y1="89.20" x2="45.9" y2="89.20" stroke="#3a3a3a" stroke-width="0.8"/>
<line x1="44.3" y1="80.33" x2="45.9" y2="80.33" stroke="#3a3a3a" stroke-width="0.8"/>
<line x1="44.3" y1="72.50" x2="45.9" y2="72.50" stroke="#3a3a3a" stroke-width="0.8"/>
<line x1="44.3" y1="19.44" x2="45.9" y2="19.44" stroke="#3a3a3a" stroke-width="0.8"/>
<line x1="401.0" y1="218.50" x2="403.7" y2="218.50" stroke="#3a3a3a" stroke-width="1"/>
<line x1="401.0" y1="65.50" x2="403.7" y2="65.50" stroke="#3a3a3a" stroke-width="1"/>
<line x1="402.09999999999997" y1="252.44" x2="403.7" y2="252.44" stroke="#3a3a3a" stroke-width="0.8"/>
<line x1="402.09999999999997" y1="242.20" x2="403.7" y2="242.20" stroke="#3a3a3a" stroke-width="0.8"/>
<line x1="402.09999999999997" y1="233.33" x2="403.7" y2="233.33" stroke="#3a3a3a" stroke-width="0.8"/>
<line x1="402.09999999999997" y1="225.50" x2="403.7" y2="225.50" stroke="#3a3a3a" stroke-width="0.8"/>
<line x1="402.09999999999997" y1="172.44" x2="403.7" y2="172.44" stroke="#3a3a3a" stroke-width="0.8"/>
<line x1="402.09999999999997" y1="145.50" x2="403.7" y2="145.50" stroke="#3a3a3a" stroke-width="0.8"/>
<line x1="402.09999999999997" y1="126.38" x2="403.7" y2="126.38" stroke="#3a3a3a" stroke-width="0.8"/>
<line x1="402.09999999999997" y1="111.56" x2="403.7" y2="111.56" stroke="#3a3a3a" stroke-width="0.8"/>
<line x1="402.09999999999997" y1="99.44" x2="403.7" y2="99.44" stroke="#3a3a3a" stroke-width="0.8"/>
<line x1="402.09999999999997" y1="89.20" x2="403.7" y2="89.20" stroke="#3a3a3a" stroke-width="0.8"/>
<line x1="402.09999999999997" y1="80.33" x2="403.7" y2="80.33" stroke="#3a3a3a" stroke-width="0.8"/>
<line x1="402.09999999999997" y1="72.50" x2="403.7" y2="72.50" stroke="#3a3a3a" stroke-width="0.8"/>
<line x1="402.09999999999997" y1="19.44" x2="403.7" y2="19.44" stroke="#3a3a3a" stroke-width="0.8"/>
<line x1="45.5" y1="264.1" x2="45.5" y2="266.8" stroke="#3a3a3a" stroke-width="1"/>
<line x1="129.4" y1="264.1" x2="129.4" y2="266.8" stroke="#3a3a3a" stroke-width="1"/>
<line x1="213.0" y1="264.1" x2="213.0" y2="266.8" stroke="#3a3a3a" stroke-width="1"/>
<line x1="261.7" y1="264.1" x2="261.7" y2="266.8" stroke="#3a3a3a" stroke-width="1"/>
<line x1="67.2" y1="264.1" x2="67.2" y2="265.70000000000005" stroke="#3a3a3a" stroke-width="0.8"/>
<line x1="86.9" y1="264.1" x2="86.9" y2="265.70000000000005" stroke="#3a3a3a" stroke-width="0.8"/>
<line x1="102.6" y1="264.1" x2="102.6" y2="265.70000000000005" stroke="#3a3a3a" stroke-width="0.8"/>
<line x1="116.9" y1="264.1" x2="116.9" y2="265.70000000000005" stroke="#3a3a3a" stroke-width="0.8"/>
<line x1="441.5" y1="264.1" x2="441.5" y2="266.8" stroke="#3a3a3a" stroke-width="1"/>
<line x1="516.2" y1="264.1" x2="516.2" y2="266.8" stroke="#3a3a3a" stroke-width="1"/>
<line x1="590.7" y1="264.1" x2="590.7" y2="266.8" stroke="#3a3a3a" stroke-width="1"/>
<text x="17.599999999999998" y="71.2" font-size="14" text-anchor="start" textLength="15.1" lengthAdjust="spacingAndGlyphs" >10</text><text x="34.3" y="65.3" font-size="9.5" text-anchor="start" textLength="5.1" lengthAdjust="spacingAndGlyphs" >2</text>
<text x="17.599999999999998" y="223.5" font-size="14" text-anchor="start" textLength="15.1" lengthAdjust="spacingAndGlyphs" >10</text><text x="34.3" y="217.6" font-size="9.5" text-anchor="start" textLength="5.1" lengthAdjust="spacingAndGlyphs" >1</text>
<text x="375.7" y="71.2" font-size="14" text-anchor="start" textLength="15.1" lengthAdjust="spacingAndGlyphs" >10</text><text x="392.4" y="65.3" font-size="9.5" text-anchor="start" textLength="5.1" lengthAdjust="spacingAndGlyphs" >2</text>
<text x="375.7" y="223.5" font-size="14" text-anchor="start" textLength="15.1" lengthAdjust="spacingAndGlyphs" >10</text><text x="392.4" y="217.6" font-size="9.5" text-anchor="start" textLength="5.1" lengthAdjust="spacingAndGlyphs" >1</text>
<text x="45.5" y="280.3" font-size="14" text-anchor="middle" textLength="19.6" lengthAdjust="spacingAndGlyphs" >0.5</text>
<text x="129.4" y="280.3" font-size="14" text-anchor="middle" textLength="19.6" lengthAdjust="spacingAndGlyphs" >1.0</text>
<text x="213.0" y="280.3" font-size="14" text-anchor="middle" textLength="19.6" lengthAdjust="spacingAndGlyphs" >2.0</text>
<text x="261.7" y="280.3" font-size="14" text-anchor="middle" textLength="19.6" lengthAdjust="spacingAndGlyphs" >3.0</text>
<text x="441.5" y="280.3" font-size="14" text-anchor="middle" >1</text>
<text x="516.2" y="280.3" font-size="14" text-anchor="middle" >2</text>
<text x="590.7" y="280.3" font-size="14" text-anchor="middle" >3</text>
<g transform="translate(10.8,134.3) rotate(-90)"><text x="0" y="0" font-size="14" text-anchor="middle" textLength="72" lengthAdjust="spacingAndGlyphs"><tspan font-style="italic">f</tspan><tspan font-size="9.5" dy="2.5">350</tspan><tspan dy="-2.5">/</tspan><tspan font-style="italic">f</tspan><tspan font-size="9.5" dy="2.5">1.3mm</tspan></text></g>
<g transform="translate(368.8,134.3) rotate(-90)"><text x="0" y="0" font-size="14" text-anchor="middle" textLength="72" lengthAdjust="spacingAndGlyphs"><tspan font-style="italic">f</tspan><tspan font-size="9.5" dy="2.5">350</tspan><tspan dy="-2.5">/</tspan><tspan font-style="italic">f</tspan><tspan font-size="9.5" dy="2.5">1.3mm</tspan></text></g>
<text x="134.0" y="295.6" font-size="14.5" font-style="italic">f</text>
<text x="138.5" y="297.8" font-size="10.6" textLength="17.4" lengthAdjust="spacingAndGlyphs">250</text>
<text x="157.0" y="295.6" font-size="14" textLength="5.0" lengthAdjust="spacingAndGlyphs">/</text>
<text x="162.1" y="295.6" font-size="14.5" font-style="italic">f</text>
<text x="166.3" y="297.8" font-size="10.6" textLength="17.2" lengthAdjust="spacingAndGlyphs">500</text>
<text x="515.9" y="296.2" font-size="14" text-anchor="middle" textLength="53.8" lengthAdjust="spacingAndGlyphs" >Redshift</text>
<rect x="280.1" y="5" width="17.70" height="259.3" fill="url(#rb)"/>
<rect x="280.1" y="5" width="17.70" height="259.3" fill="none" stroke="#3a3a3a" stroke-width="1"/>
<line x1="297.8" y1="5" x2="300.6" y2="5" stroke="#3a3a3a" stroke-width="1"/>
<text x="303.40000000000003" y="10.2" font-size="14" text-anchor="start" textLength="20.7" lengthAdjust="spacingAndGlyphs" >3.0</text>
<line x1="297.8" y1="69.7" x2="300.6" y2="69.7" stroke="#3a3a3a" stroke-width="1"/>
<text x="303.40000000000003" y="74.9" font-size="14" text-anchor="start" textLength="20.7" lengthAdjust="spacingAndGlyphs" >2.5</text>
<line x1="297.8" y1="134.3" x2="300.6" y2="134.3" stroke="#3a3a3a" stroke-width="1"/>
<text x="303.40000000000003" y="139.5" font-size="14" text-anchor="start" textLength="20.7" lengthAdjust="spacingAndGlyphs" >2.0</text>
<line x1="297.8" y1="199.0" x2="300.6" y2="199.0" stroke="#3a3a3a" stroke-width="1"/>
<text x="303.40000000000003" y="204.2" font-size="14" text-anchor="start" textLength="20.7" lengthAdjust="spacingAndGlyphs" >1.5</text>
<line x1="297.8" y1="263.8" x2="300.6" y2="263.8" stroke="#3a3a3a" stroke-width="1"/>
<text x="303.40000000000003" y="269.0" font-size="14" text-anchor="start" textLength="20.7" lengthAdjust="spacingAndGlyphs" >1.0</text>
<g transform="translate(338.5,134.5) rotate(-90)"><text x="0" y="0" font-size="14" text-anchor="middle" textLength="53.5" lengthAdjust="spacingAndGlyphs">Redshift</text></g>
<rect x="634.7" y="5" width="17.80" height="259.3" fill="url(#rb)"/>
<rect x="634.7" y="5" width="17.80" height="259.3" fill="none" stroke="#3a3a3a" stroke-width="1"/>
<line x1="652.5" y1="30.8" x2="655.3" y2="30.8" stroke="#3a3a3a" stroke-width="1"/>
<text x="658.1" y="36.0" font-size="14" text-anchor="start" textLength="20.7" lengthAdjust="spacingAndGlyphs" >0.6</text>
<line x1="652.5" y1="108.5" x2="655.3" y2="108.5" stroke="#3a3a3a" stroke-width="1"/>
<text x="658.1" y="113.7" font-size="14" text-anchor="start" textLength="20.7" lengthAdjust="spacingAndGlyphs" >0.3</text>
<line x1="652.5" y1="186.3" x2="655.3" y2="186.3" stroke="#3a3a3a" stroke-width="1"/>
<text x="658.1" y="191.5" font-size="14" text-anchor="start" textLength="20.7" lengthAdjust="spacingAndGlyphs" >0.0</text>
<line x1="652.5" y1="263.8" x2="655.3" y2="263.8" stroke="#3a3a3a" stroke-width="1"/>
<text x="658.1" y="269.0" font-size="14" text-anchor="start" textLength="31.5" lengthAdjust="spacingAndGlyphs" >−0.3</text>
<g transform="translate(693.7,134.5) rotate(-90)"><text x="0" y="0" font-size="14" text-anchor="middle" textLength="131" lengthAdjust="spacingAndGlyphs">[3.6 μm] − [4.5 μm]</text></g>
</svg></body></html>
